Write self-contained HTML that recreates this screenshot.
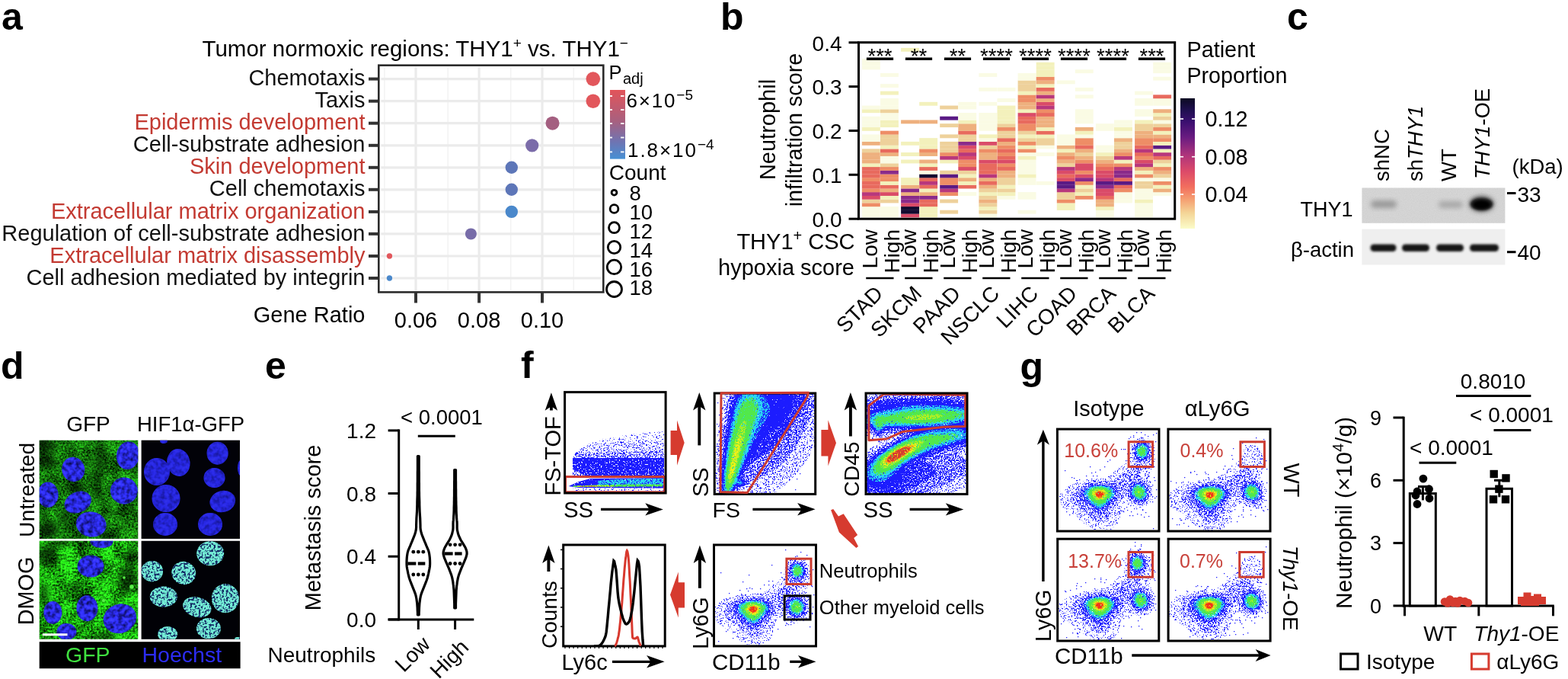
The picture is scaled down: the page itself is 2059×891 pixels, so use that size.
<!DOCTYPE html>
<html><head><meta charset="utf-8"><title>Figure</title>
<style>
html,body{margin:0;padding:0;background:#fff;width:2059px;height:891px;overflow:hidden;}
svg{display:block;}
text{font-family:"Liberation Sans",Arial,sans-serif;}
text.lab{font-weight:bold;font-size:50px;}
</style></head><body>
<svg width="2059" height="891" viewBox="0 0 2059 891">
<rect width="2059" height="891" fill="#fff"/>
<text x="2" y="39" class="lab">a</text>
<text x="265.5" y="73.8" font-size="29.5">Tumor normoxic regions: THY1<tspan font-size="19" dy="-11">+</tspan><tspan dy="11"> vs. THY1</tspan><tspan font-size="19" dy="-11">−</tspan></text>
<line x1="504.8" y1="87.7" x2="504.8" y2="381.4" stroke="#f3f3f3" stroke-width="1.6"/>
<line x1="588.2" y1="87.7" x2="588.2" y2="381.4" stroke="#f3f3f3" stroke-width="1.6"/>
<line x1="670.7" y1="87.7" x2="670.7" y2="381.4" stroke="#f3f3f3" stroke-width="1.6"/>
<line x1="753.3" y1="87.7" x2="753.3" y2="381.4" stroke="#f3f3f3" stroke-width="1.6"/>
<line x1="546" y1="87.7" x2="546" y2="381.4" stroke="#ebebeb" stroke-width="3.2"/>
<line x1="629.1" y1="87.7" x2="629.1" y2="381.4" stroke="#ebebeb" stroke-width="3.2"/>
<line x1="712" y1="87.7" x2="712" y2="381.4" stroke="#ebebeb" stroke-width="3.2"/>
<line x1="500.3" y1="103.6" x2="789.3" y2="103.6" stroke="#ebebeb" stroke-width="3.2"/>
<line x1="500.3" y1="132.7" x2="789.3" y2="132.7" stroke="#ebebeb" stroke-width="3.2"/>
<line x1="500.3" y1="161.7" x2="789.3" y2="161.7" stroke="#ebebeb" stroke-width="3.2"/>
<line x1="500.3" y1="190.8" x2="789.3" y2="190.8" stroke="#ebebeb" stroke-width="3.2"/>
<line x1="500.3" y1="219.8" x2="789.3" y2="219.8" stroke="#ebebeb" stroke-width="3.2"/>
<line x1="500.3" y1="248.8" x2="789.3" y2="248.8" stroke="#ebebeb" stroke-width="3.2"/>
<line x1="500.3" y1="277.9" x2="789.3" y2="277.9" stroke="#ebebeb" stroke-width="3.2"/>
<line x1="500.3" y1="306.9" x2="789.3" y2="306.9" stroke="#ebebeb" stroke-width="3.2"/>
<line x1="500.3" y1="336.0" x2="789.3" y2="336.0" stroke="#ebebeb" stroke-width="3.2"/>
<line x1="500.3" y1="365.0" x2="789.3" y2="365.0" stroke="#ebebeb" stroke-width="3.2"/>
<text x="479.5" y="112.2" font-size="29" text-anchor="end" fill="#111">Chemotaxis</text>
<line x1="484" y1="103.6" x2="497" y2="103.6" stroke="#333" stroke-width="4"/>
<text x="479.5" y="141.2" font-size="29" text-anchor="end" fill="#111">Taxis</text>
<line x1="484" y1="132.7" x2="497" y2="132.7" stroke="#333" stroke-width="4"/>
<text x="479.5" y="170.3" font-size="29" text-anchor="end" fill="#c33a32">Epidermis development</text>
<line x1="484" y1="161.7" x2="497" y2="161.7" stroke="#333" stroke-width="4"/>
<text x="479.5" y="199.3" font-size="29" text-anchor="end" fill="#111">Cell-substrate adhesion</text>
<line x1="484" y1="190.8" x2="497" y2="190.8" stroke="#333" stroke-width="4"/>
<text x="479.5" y="228.4" font-size="29" text-anchor="end" fill="#c33a32">Skin development</text>
<line x1="484" y1="219.8" x2="497" y2="219.8" stroke="#333" stroke-width="4"/>
<text x="479.5" y="257.4" font-size="29" text-anchor="end" fill="#111">Cell chemotaxis</text>
<line x1="484" y1="248.8" x2="497" y2="248.8" stroke="#333" stroke-width="4"/>
<text x="479.5" y="286.5" font-size="29" text-anchor="end" fill="#c33a32">Extracellular matrix organization</text>
<line x1="484" y1="277.9" x2="497" y2="277.9" stroke="#333" stroke-width="4"/>
<text x="479.5" y="315.6" font-size="29" text-anchor="end" fill="#111">Regulation of cell-substrate adhesion</text>
<line x1="484" y1="306.9" x2="497" y2="306.9" stroke="#333" stroke-width="4"/>
<text x="479.5" y="344.6" font-size="29" text-anchor="end" fill="#c33a32">Extracellular matrix disassembly</text>
<line x1="484" y1="336.0" x2="497" y2="336.0" stroke="#333" stroke-width="4"/>
<text x="479.5" y="373.6" font-size="29" text-anchor="end" fill="#111">Cell adhesion mediated by integrin</text>
<line x1="484" y1="365.0" x2="497" y2="365.0" stroke="#333" stroke-width="4"/>
<circle cx="778.8" cy="103.6" r="9.3" fill="#e2575c"/>
<circle cx="778.8" cy="132.7" r="9.3" fill="#e2575c"/>
<circle cx="725.5" cy="161.7" r="9.0" fill="#a45f80"/>
<circle cx="698.7" cy="190.8" r="8.6" fill="#7b6ca9"/>
<circle cx="671.8" cy="219.8" r="8.2" fill="#5d76b8"/>
<circle cx="671.8" cy="248.8" r="8.2" fill="#5d76b8"/>
<circle cx="671.8" cy="277.9" r="8.2" fill="#4a88cb"/>
<circle cx="618.4" cy="306.9" r="7.5" fill="#776ca8"/>
<circle cx="511.4" cy="336.0" r="3.7" fill="#e2575c"/>
<circle cx="511.4" cy="365.0" r="3.7" fill="#4a88cb"/>
<rect x="497.3" y="85.7" width="295.0" height="297.7" fill="none" stroke="#2b2b2b" stroke-width="2.6"/>
<line x1="546" y1="383.4" x2="546" y2="397.5" stroke="#333" stroke-width="4"/>
<text x="546" y="429.6" font-size="29" text-anchor="middle">0.06</text>
<line x1="629.1" y1="383.4" x2="629.1" y2="397.5" stroke="#333" stroke-width="4"/>
<text x="629.1" y="429.6" font-size="29" text-anchor="middle">0.08</text>
<line x1="712" y1="383.4" x2="712" y2="397.5" stroke="#333" stroke-width="4"/>
<text x="712" y="429.6" font-size="29" text-anchor="middle">0.10</text>
<text x="479.5" y="423" font-size="29" text-anchor="end">Gene Ratio</text>
<text x="799.5" y="103.6" font-size="25.5">P<tspan font-size="20" dy="6.5" x="818">adj</tspan></text>
<defs><linearGradient id="padj" x1="0" y1="0" x2="0" y2="1"><stop offset="0" stop-color="#e2545a"/><stop offset="0.45" stop-color="#a8607f"/><stop offset="0.75" stop-color="#6f74b2"/><stop offset="1" stop-color="#4690d4"/></linearGradient></defs>
<rect x="801" y="118" width="20" height="90.6" fill="url(#padj)"/>
<line x1="801" y1="126" x2="804" y2="126" stroke="#fff" stroke-width="1.8"/><line x1="815" y1="126" x2="819.5" y2="126" stroke="#fff" stroke-width="1.8"/>
<line x1="801" y1="144.1" x2="804" y2="144.1" stroke="#fff" stroke-width="1.8"/><line x1="815" y1="144.1" x2="819.5" y2="144.1" stroke="#fff" stroke-width="1.8"/>
<line x1="801" y1="162.1" x2="804" y2="162.1" stroke="#fff" stroke-width="1.8"/><line x1="815" y1="162.1" x2="819.5" y2="162.1" stroke="#fff" stroke-width="1.8"/>
<line x1="801" y1="180.5" x2="804" y2="180.5" stroke="#fff" stroke-width="1.8"/><line x1="815" y1="180.5" x2="819.5" y2="180.5" stroke="#fff" stroke-width="1.8"/>
<line x1="801" y1="199.4" x2="804" y2="199.4" stroke="#fff" stroke-width="1.8"/><line x1="815" y1="199.4" x2="819.5" y2="199.4" stroke="#fff" stroke-width="1.8"/>
<text x="822.5" y="140.5" font-size="26"><tspan textLength="64" lengthAdjust="spacing">6×10</tspan><tspan font-size="19" dy="-10">−5</tspan></text>
<text x="824" y="206.4" font-size="26"><tspan textLength="90" lengthAdjust="spacing">1.8×10</tspan><tspan font-size="19" dy="-10">−4</tspan></text>
<text x="799.8" y="236" font-size="28">Count</text>
<circle cx="806.5" cy="252.7" r="3.4" fill="none" stroke="#000" stroke-width="2.8"/>
<text x="826.5" y="262.8" font-size="27.5">8</text>
<circle cx="806.5" cy="274" r="5.4" fill="none" stroke="#000" stroke-width="2.8"/>
<text x="826.5" y="288" font-size="27.5">10</text>
<circle cx="806.5" cy="298.7" r="7" fill="none" stroke="#000" stroke-width="2.8"/>
<text x="826.5" y="313.3" font-size="27.5">12</text>
<circle cx="806.5" cy="324.5" r="8.2" fill="none" stroke="#000" stroke-width="2.8"/>
<text x="826.5" y="338" font-size="27.5">14</text>
<circle cx="806.5" cy="350.4" r="9.2" fill="none" stroke="#000" stroke-width="2.8"/>
<text x="826.5" y="362.7" font-size="27.5">16</text>
<circle cx="806.5" cy="379.5" r="10" fill="none" stroke="#000" stroke-width="2.8"/>
<text x="826.5" y="387.4" font-size="27.5">18</text>
<text x="946" y="38.6" class="lab">b</text>
<rect x="1131.9" y="280.47" width="23.9" height="4.88" fill="#fafbe4"/>
<rect x="1131.9" y="275.74" width="23.9" height="4.88" fill="#fafbe4"/>
<rect x="1131.9" y="271.01" width="23.9" height="4.88" fill="#fafbe4"/>
<rect x="1131.9" y="266.28" width="23.9" height="4.88" fill="#ee8d66"/>
<rect x="1131.9" y="261.55" width="23.9" height="4.88" fill="#eed19b"/>
<rect x="1131.9" y="256.82" width="23.9" height="4.88" fill="#da4b68"/>
<rect x="1131.9" y="252.09" width="23.9" height="4.88" fill="#b8377c"/>
<rect x="1131.9" y="247.36" width="23.9" height="4.88" fill="#ee8d66"/>
<rect x="1131.9" y="242.63" width="23.9" height="4.88" fill="#e86a5e"/>
<rect x="1131.9" y="237.90" width="23.9" height="4.88" fill="#e86a5e"/>
<rect x="1131.9" y="233.17" width="23.9" height="4.88" fill="#ee8d66"/>
<rect x="1131.9" y="228.44" width="23.9" height="4.88" fill="#e86a5e"/>
<rect x="1131.9" y="223.71" width="23.9" height="4.88" fill="#e86a5e"/>
<rect x="1131.9" y="218.98" width="23.9" height="4.88" fill="#e86a5e"/>
<rect x="1131.9" y="214.25" width="23.9" height="4.88" fill="#f3f1bc"/>
<rect x="1131.9" y="209.52" width="23.9" height="4.88" fill="#eeb07e"/>
<rect x="1131.9" y="204.79" width="23.9" height="4.88" fill="#eeb07e"/>
<rect x="1131.9" y="200.06" width="23.9" height="4.88" fill="#eeb07e"/>
<rect x="1131.9" y="195.33" width="23.9" height="4.88" fill="#eed19b"/>
<rect x="1131.9" y="185.87" width="23.9" height="4.88" fill="#eeb07e"/>
<rect x="1131.9" y="181.14" width="23.9" height="4.88" fill="#fafbe4"/>
<rect x="1131.9" y="176.41" width="23.9" height="4.88" fill="#fafbe4"/>
<rect x="1131.9" y="166.95" width="23.9" height="4.88" fill="#f3f1bc"/>
<rect x="1131.9" y="162.22" width="23.9" height="4.88" fill="#fafbe4"/>
<rect x="1131.9" y="157.49" width="23.9" height="4.88" fill="#fafbe4"/>
<rect x="1131.9" y="152.76" width="23.9" height="4.88" fill="#fafbe4"/>
<rect x="1131.9" y="143.30" width="23.9" height="4.88" fill="#f3f1bc"/>
<rect x="1131.9" y="138.57" width="23.9" height="4.88" fill="#fafbe4"/>
<rect x="1131.9" y="86.54" width="23.9" height="4.88" fill="#fafbe4"/>
<rect x="1131.9" y="81.81" width="23.9" height="4.88" fill="#fafbe4"/>
<rect x="1131.9" y="77.08" width="23.9" height="4.88" fill="#fafbe4"/>
<rect x="1156.0" y="280.47" width="23.9" height="4.88" fill="#fafbe4"/>
<rect x="1156.0" y="275.74" width="23.9" height="4.88" fill="#fafbe4"/>
<rect x="1156.0" y="271.01" width="23.9" height="4.88" fill="#fafbe4"/>
<rect x="1156.0" y="261.55" width="23.9" height="4.88" fill="#eed19b"/>
<rect x="1156.0" y="256.82" width="23.9" height="4.88" fill="#f3f1bc"/>
<rect x="1156.0" y="252.09" width="23.9" height="4.88" fill="#da4b68"/>
<rect x="1156.0" y="247.36" width="23.9" height="4.88" fill="#eeb07e"/>
<rect x="1156.0" y="242.63" width="23.9" height="4.88" fill="#e86a5e"/>
<rect x="1156.0" y="237.90" width="23.9" height="4.88" fill="#f3f1bc"/>
<rect x="1156.0" y="233.17" width="23.9" height="4.88" fill="#ee8d66"/>
<rect x="1156.0" y="228.44" width="23.9" height="4.88" fill="#ee8d66"/>
<rect x="1156.0" y="223.71" width="23.9" height="4.88" fill="#8a2a8a"/>
<rect x="1156.0" y="218.98" width="23.9" height="4.88" fill="#ee8d66"/>
<rect x="1156.0" y="214.25" width="23.9" height="4.88" fill="#eed19b"/>
<rect x="1156.0" y="209.52" width="23.9" height="4.88" fill="#fafbe4"/>
<rect x="1156.0" y="204.79" width="23.9" height="4.88" fill="#fafbe4"/>
<rect x="1156.0" y="200.06" width="23.9" height="4.88" fill="#eeb07e"/>
<rect x="1156.0" y="195.33" width="23.9" height="4.88" fill="#e86a5e"/>
<rect x="1156.0" y="190.60" width="23.9" height="4.88" fill="#f3f1bc"/>
<rect x="1156.0" y="185.87" width="23.9" height="4.88" fill="#eed19b"/>
<rect x="1156.0" y="181.14" width="23.9" height="4.88" fill="#eed19b"/>
<rect x="1156.0" y="176.41" width="23.9" height="4.88" fill="#eed19b"/>
<rect x="1156.0" y="171.68" width="23.9" height="4.88" fill="#ee8d66"/>
<rect x="1156.0" y="162.22" width="23.9" height="4.88" fill="#f3f1bc"/>
<rect x="1156.0" y="157.49" width="23.9" height="4.88" fill="#f3f1bc"/>
<rect x="1156.0" y="152.76" width="23.9" height="4.88" fill="#fafbe4"/>
<rect x="1156.0" y="148.03" width="23.9" height="4.88" fill="#fafbe4"/>
<rect x="1156.0" y="143.30" width="23.9" height="4.88" fill="#eed19b"/>
<rect x="1156.0" y="138.57" width="23.9" height="4.88" fill="#fafbe4"/>
<rect x="1156.0" y="133.84" width="23.9" height="4.88" fill="#fafbe4"/>
<rect x="1156.0" y="129.11" width="23.9" height="4.88" fill="#fafbe4"/>
<rect x="1156.0" y="119.65" width="23.9" height="4.88" fill="#f3f1bc"/>
<rect x="1156.0" y="110.19" width="23.9" height="4.88" fill="#fafbe4"/>
<rect x="1156.0" y="96.00" width="23.9" height="4.88" fill="#fafbe4"/>
<rect x="1183.1" y="280.47" width="23.9" height="4.88" fill="#da4b68"/>
<rect x="1183.1" y="275.74" width="23.9" height="4.88" fill="#130b30"/>
<rect x="1183.1" y="271.01" width="23.9" height="4.88" fill="#130b30"/>
<rect x="1183.1" y="266.28" width="23.9" height="4.88" fill="#da4b68"/>
<rect x="1183.1" y="261.55" width="23.9" height="4.88" fill="#8a2a8a"/>
<rect x="1183.1" y="256.82" width="23.9" height="4.88" fill="#8a2a8a"/>
<rect x="1183.1" y="252.09" width="23.9" height="4.88" fill="#eeb07e"/>
<rect x="1183.1" y="247.36" width="23.9" height="4.88" fill="#8a2a8a"/>
<rect x="1183.1" y="242.63" width="23.9" height="4.88" fill="#eeb07e"/>
<rect x="1183.1" y="237.90" width="23.9" height="4.88" fill="#f3f1bc"/>
<rect x="1183.1" y="233.17" width="23.9" height="4.88" fill="#f3f1bc"/>
<rect x="1183.1" y="209.52" width="23.9" height="4.88" fill="#f3f1bc"/>
<rect x="1183.1" y="200.06" width="23.9" height="4.88" fill="#f3f1bc"/>
<rect x="1183.1" y="185.87" width="23.9" height="4.88" fill="#f3f1bc"/>
<rect x="1183.1" y="157.49" width="23.9" height="4.88" fill="#eeb07e"/>
<rect x="1183.1" y="62.89" width="23.9" height="4.88" fill="#f3f1bc"/>
<rect x="1207.2" y="280.47" width="23.9" height="4.88" fill="#f3f1bc"/>
<rect x="1207.2" y="275.74" width="23.9" height="4.88" fill="#f3f1bc"/>
<rect x="1207.2" y="271.01" width="23.9" height="4.88" fill="#f3f1bc"/>
<rect x="1207.2" y="266.28" width="23.9" height="4.88" fill="#e86a5e"/>
<rect x="1207.2" y="261.55" width="23.9" height="4.88" fill="#e86a5e"/>
<rect x="1207.2" y="256.82" width="23.9" height="4.88" fill="#8a2a8a"/>
<rect x="1207.2" y="252.09" width="23.9" height="4.88" fill="#eeb07e"/>
<rect x="1207.2" y="247.36" width="23.9" height="4.88" fill="#f3f1bc"/>
<rect x="1207.2" y="242.63" width="23.9" height="4.88" fill="#e86a5e"/>
<rect x="1207.2" y="237.90" width="23.9" height="4.88" fill="#b8377c"/>
<rect x="1207.2" y="233.17" width="23.9" height="4.88" fill="#e86a5e"/>
<rect x="1207.2" y="228.44" width="23.9" height="4.88" fill="#130b30"/>
<rect x="1207.2" y="223.71" width="23.9" height="4.88" fill="#fafbe4"/>
<rect x="1207.2" y="218.98" width="23.9" height="4.88" fill="#e86a5e"/>
<rect x="1207.2" y="214.25" width="23.9" height="4.88" fill="#f3f1bc"/>
<rect x="1207.2" y="209.52" width="23.9" height="4.88" fill="#eeb07e"/>
<rect x="1207.2" y="200.06" width="23.9" height="4.88" fill="#eeb07e"/>
<rect x="1207.2" y="195.33" width="23.9" height="4.88" fill="#ee8d66"/>
<rect x="1207.2" y="190.60" width="23.9" height="4.88" fill="#f3f1bc"/>
<rect x="1207.2" y="185.87" width="23.9" height="4.88" fill="#f3f1bc"/>
<rect x="1207.2" y="181.14" width="23.9" height="4.88" fill="#f3f1bc"/>
<rect x="1207.2" y="157.49" width="23.9" height="4.88" fill="#eeb07e"/>
<rect x="1207.2" y="133.84" width="23.9" height="4.88" fill="#f3f1bc"/>
<rect x="1234.2" y="275.74" width="23.9" height="4.88" fill="#eed19b"/>
<rect x="1234.2" y="261.55" width="23.9" height="4.88" fill="#eed19b"/>
<rect x="1234.2" y="252.09" width="23.9" height="4.88" fill="#ee8d66"/>
<rect x="1234.2" y="247.36" width="23.9" height="4.88" fill="#b8377c"/>
<rect x="1234.2" y="242.63" width="23.9" height="4.88" fill="#5a1a84"/>
<rect x="1234.2" y="237.90" width="23.9" height="4.88" fill="#ee8d66"/>
<rect x="1234.2" y="233.17" width="23.9" height="4.88" fill="#ee8d66"/>
<rect x="1234.2" y="228.44" width="23.9" height="4.88" fill="#5a1a84"/>
<rect x="1234.2" y="223.71" width="23.9" height="4.88" fill="#eed19b"/>
<rect x="1234.2" y="209.52" width="23.9" height="4.88" fill="#f3f1bc"/>
<rect x="1234.2" y="204.79" width="23.9" height="4.88" fill="#b8377c"/>
<rect x="1234.2" y="200.06" width="23.9" height="4.88" fill="#ee8d66"/>
<rect x="1234.2" y="195.33" width="23.9" height="4.88" fill="#eed19b"/>
<rect x="1234.2" y="190.60" width="23.9" height="4.88" fill="#eed19b"/>
<rect x="1234.2" y="185.87" width="23.9" height="4.88" fill="#eed19b"/>
<rect x="1234.2" y="176.41" width="23.9" height="4.88" fill="#eed19b"/>
<rect x="1234.2" y="162.22" width="23.9" height="4.88" fill="#eed19b"/>
<rect x="1234.2" y="152.76" width="23.9" height="4.88" fill="#5a1a84"/>
<rect x="1234.2" y="138.57" width="23.9" height="4.88" fill="#eed19b"/>
<rect x="1258.3" y="252.09" width="23.9" height="4.88" fill="#fafbe4"/>
<rect x="1258.3" y="242.63" width="23.9" height="4.88" fill="#e86a5e"/>
<rect x="1258.3" y="237.90" width="23.9" height="4.88" fill="#f3f1bc"/>
<rect x="1258.3" y="233.17" width="23.9" height="4.88" fill="#eeb07e"/>
<rect x="1258.3" y="228.44" width="23.9" height="4.88" fill="#f3f1bc"/>
<rect x="1258.3" y="223.71" width="23.9" height="4.88" fill="#eed19b"/>
<rect x="1258.3" y="218.98" width="23.9" height="4.88" fill="#da4b68"/>
<rect x="1258.3" y="214.25" width="23.9" height="4.88" fill="#ee8d66"/>
<rect x="1258.3" y="209.52" width="23.9" height="4.88" fill="#ee8d66"/>
<rect x="1258.3" y="204.79" width="23.9" height="4.88" fill="#da4b68"/>
<rect x="1258.3" y="200.06" width="23.9" height="4.88" fill="#b8377c"/>
<rect x="1258.3" y="195.33" width="23.9" height="4.88" fill="#e86a5e"/>
<rect x="1258.3" y="190.60" width="23.9" height="4.88" fill="#da4b68"/>
<rect x="1258.3" y="185.87" width="23.9" height="4.88" fill="#8a2a8a"/>
<rect x="1258.3" y="181.14" width="23.9" height="4.88" fill="#eed19b"/>
<rect x="1258.3" y="176.41" width="23.9" height="4.88" fill="#eed19b"/>
<rect x="1258.3" y="171.68" width="23.9" height="4.88" fill="#e86a5e"/>
<rect x="1258.3" y="166.95" width="23.9" height="4.88" fill="#eeb07e"/>
<rect x="1258.3" y="162.22" width="23.9" height="4.88" fill="#eeb07e"/>
<rect x="1258.3" y="157.49" width="23.9" height="4.88" fill="#f3f1bc"/>
<rect x="1258.3" y="152.76" width="23.9" height="4.88" fill="#fafbe4"/>
<rect x="1258.3" y="148.03" width="23.9" height="4.88" fill="#fafbe4"/>
<rect x="1258.3" y="138.57" width="23.9" height="4.88" fill="#fafbe4"/>
<rect x="1258.3" y="133.84" width="23.9" height="4.88" fill="#fafbe4"/>
<rect x="1285.4" y="280.47" width="23.9" height="4.88" fill="#fafbe4"/>
<rect x="1285.4" y="275.74" width="23.9" height="4.88" fill="#eed19b"/>
<rect x="1285.4" y="271.01" width="23.9" height="4.88" fill="#f3f1bc"/>
<rect x="1285.4" y="266.28" width="23.9" height="4.88" fill="#eed19b"/>
<rect x="1285.4" y="261.55" width="23.9" height="4.88" fill="#eeb07e"/>
<rect x="1285.4" y="256.82" width="23.9" height="4.88" fill="#eed19b"/>
<rect x="1285.4" y="252.09" width="23.9" height="4.88" fill="#f3f1bc"/>
<rect x="1285.4" y="247.36" width="23.9" height="4.88" fill="#eed19b"/>
<rect x="1285.4" y="242.63" width="23.9" height="4.88" fill="#eeb07e"/>
<rect x="1285.4" y="237.90" width="23.9" height="4.88" fill="#e86a5e"/>
<rect x="1285.4" y="233.17" width="23.9" height="4.88" fill="#eeb07e"/>
<rect x="1285.4" y="228.44" width="23.9" height="4.88" fill="#b8377c"/>
<rect x="1285.4" y="223.71" width="23.9" height="4.88" fill="#e86a5e"/>
<rect x="1285.4" y="218.98" width="23.9" height="4.88" fill="#e86a5e"/>
<rect x="1285.4" y="214.25" width="23.9" height="4.88" fill="#e86a5e"/>
<rect x="1285.4" y="209.52" width="23.9" height="4.88" fill="#da4b68"/>
<rect x="1285.4" y="204.79" width="23.9" height="4.88" fill="#eeb07e"/>
<rect x="1285.4" y="200.06" width="23.9" height="4.88" fill="#eeb07e"/>
<rect x="1285.4" y="195.33" width="23.9" height="4.88" fill="#ee8d66"/>
<rect x="1285.4" y="190.60" width="23.9" height="4.88" fill="#eed19b"/>
<rect x="1285.4" y="185.87" width="23.9" height="4.88" fill="#da4b68"/>
<rect x="1285.4" y="181.14" width="23.9" height="4.88" fill="#fafbe4"/>
<rect x="1285.4" y="176.41" width="23.9" height="4.88" fill="#f3f1bc"/>
<rect x="1285.4" y="166.95" width="23.9" height="4.88" fill="#fafbe4"/>
<rect x="1285.4" y="162.22" width="23.9" height="4.88" fill="#fafbe4"/>
<rect x="1285.4" y="157.49" width="23.9" height="4.88" fill="#fafbe4"/>
<rect x="1285.4" y="152.76" width="23.9" height="4.88" fill="#fafbe4"/>
<rect x="1285.4" y="148.03" width="23.9" height="4.88" fill="#fafbe4"/>
<rect x="1285.4" y="133.84" width="23.9" height="4.88" fill="#fafbe4"/>
<rect x="1285.4" y="114.92" width="23.9" height="4.88" fill="#fafbe4"/>
<rect x="1285.4" y="96.00" width="23.9" height="4.88" fill="#fafbe4"/>
<rect x="1309.5" y="256.82" width="23.9" height="4.88" fill="#fafbe4"/>
<rect x="1309.5" y="252.09" width="23.9" height="4.88" fill="#f3f1bc"/>
<rect x="1309.5" y="247.36" width="23.9" height="4.88" fill="#eed19b"/>
<rect x="1309.5" y="242.63" width="23.9" height="4.88" fill="#f3f1bc"/>
<rect x="1309.5" y="237.90" width="23.9" height="4.88" fill="#eed19b"/>
<rect x="1309.5" y="233.17" width="23.9" height="4.88" fill="#eed19b"/>
<rect x="1309.5" y="228.44" width="23.9" height="4.88" fill="#eeb07e"/>
<rect x="1309.5" y="223.71" width="23.9" height="4.88" fill="#eeb07e"/>
<rect x="1309.5" y="218.98" width="23.9" height="4.88" fill="#e86a5e"/>
<rect x="1309.5" y="214.25" width="23.9" height="4.88" fill="#ee8d66"/>
<rect x="1309.5" y="209.52" width="23.9" height="4.88" fill="#da4b68"/>
<rect x="1309.5" y="204.79" width="23.9" height="4.88" fill="#e86a5e"/>
<rect x="1309.5" y="200.06" width="23.9" height="4.88" fill="#ee8d66"/>
<rect x="1309.5" y="195.33" width="23.9" height="4.88" fill="#e86a5e"/>
<rect x="1309.5" y="190.60" width="23.9" height="4.88" fill="#ee8d66"/>
<rect x="1309.5" y="185.87" width="23.9" height="4.88" fill="#eeb07e"/>
<rect x="1309.5" y="181.14" width="23.9" height="4.88" fill="#e86a5e"/>
<rect x="1309.5" y="176.41" width="23.9" height="4.88" fill="#eed19b"/>
<rect x="1309.5" y="171.68" width="23.9" height="4.88" fill="#eed19b"/>
<rect x="1309.5" y="166.95" width="23.9" height="4.88" fill="#ee8d66"/>
<rect x="1309.5" y="162.22" width="23.9" height="4.88" fill="#eed19b"/>
<rect x="1309.5" y="157.49" width="23.9" height="4.88" fill="#f3f1bc"/>
<rect x="1309.5" y="152.76" width="23.9" height="4.88" fill="#f3f1bc"/>
<rect x="1309.5" y="148.03" width="23.9" height="4.88" fill="#f3f1bc"/>
<rect x="1309.5" y="143.30" width="23.9" height="4.88" fill="#f3f1bc"/>
<rect x="1309.5" y="138.57" width="23.9" height="4.88" fill="#f3f1bc"/>
<rect x="1309.5" y="129.11" width="23.9" height="4.88" fill="#fafbe4"/>
<rect x="1309.5" y="114.92" width="23.9" height="4.88" fill="#fafbe4"/>
<rect x="1336.6" y="275.74" width="23.9" height="4.88" fill="#fafbe4"/>
<rect x="1336.6" y="256.82" width="23.9" height="4.88" fill="#fafbe4"/>
<rect x="1336.6" y="252.09" width="23.9" height="4.88" fill="#fafbe4"/>
<rect x="1336.6" y="237.90" width="23.9" height="4.88" fill="#fafbe4"/>
<rect x="1336.6" y="233.17" width="23.9" height="4.88" fill="#fafbe4"/>
<rect x="1336.6" y="228.44" width="23.9" height="4.88" fill="#f3f1bc"/>
<rect x="1336.6" y="223.71" width="23.9" height="4.88" fill="#fafbe4"/>
<rect x="1336.6" y="218.98" width="23.9" height="4.88" fill="#fafbe4"/>
<rect x="1336.6" y="214.25" width="23.9" height="4.88" fill="#fafbe4"/>
<rect x="1336.6" y="209.52" width="23.9" height="4.88" fill="#fafbe4"/>
<rect x="1336.6" y="204.79" width="23.9" height="4.88" fill="#f3f1bc"/>
<rect x="1336.6" y="200.06" width="23.9" height="4.88" fill="#fafbe4"/>
<rect x="1336.6" y="195.33" width="23.9" height="4.88" fill="#ee8d66"/>
<rect x="1336.6" y="190.60" width="23.9" height="4.88" fill="#f3f1bc"/>
<rect x="1336.6" y="185.87" width="23.9" height="4.88" fill="#ee8d66"/>
<rect x="1336.6" y="181.14" width="23.9" height="4.88" fill="#eed19b"/>
<rect x="1336.6" y="176.41" width="23.9" height="4.88" fill="#f3f1bc"/>
<rect x="1336.6" y="171.68" width="23.9" height="4.88" fill="#eed19b"/>
<rect x="1336.6" y="166.95" width="23.9" height="4.88" fill="#ee8d66"/>
<rect x="1336.6" y="162.22" width="23.9" height="4.88" fill="#ee8d66"/>
<rect x="1336.6" y="157.49" width="23.9" height="4.88" fill="#e86a5e"/>
<rect x="1336.6" y="152.76" width="23.9" height="4.88" fill="#e86a5e"/>
<rect x="1336.6" y="148.03" width="23.9" height="4.88" fill="#da4b68"/>
<rect x="1336.6" y="143.30" width="23.9" height="4.88" fill="#f3f1bc"/>
<rect x="1336.6" y="138.57" width="23.9" height="4.88" fill="#eeb07e"/>
<rect x="1336.6" y="133.84" width="23.9" height="4.88" fill="#eeb07e"/>
<rect x="1336.6" y="129.11" width="23.9" height="4.88" fill="#ee8d66"/>
<rect x="1336.6" y="124.38" width="23.9" height="4.88" fill="#ee8d66"/>
<rect x="1336.6" y="119.65" width="23.9" height="4.88" fill="#f3f1bc"/>
<rect x="1336.6" y="114.92" width="23.9" height="4.88" fill="#eed19b"/>
<rect x="1336.6" y="110.19" width="23.9" height="4.88" fill="#eed19b"/>
<rect x="1336.6" y="105.46" width="23.9" height="4.88" fill="#eed19b"/>
<rect x="1336.6" y="100.73" width="23.9" height="4.88" fill="#fafbe4"/>
<rect x="1336.6" y="96.00" width="23.9" height="4.88" fill="#fafbe4"/>
<rect x="1360.7" y="237.90" width="23.9" height="4.88" fill="#fafbe4"/>
<rect x="1360.7" y="200.06" width="23.9" height="4.88" fill="#fafbe4"/>
<rect x="1360.7" y="190.60" width="23.9" height="4.88" fill="#fafbe4"/>
<rect x="1360.7" y="185.87" width="23.9" height="4.88" fill="#eed19b"/>
<rect x="1360.7" y="181.14" width="23.9" height="4.88" fill="#eed19b"/>
<rect x="1360.7" y="176.41" width="23.9" height="4.88" fill="#f3f1bc"/>
<rect x="1360.7" y="171.68" width="23.9" height="4.88" fill="#e86a5e"/>
<rect x="1360.7" y="166.95" width="23.9" height="4.88" fill="#f3f1bc"/>
<rect x="1360.7" y="162.22" width="23.9" height="4.88" fill="#eeb07e"/>
<rect x="1360.7" y="157.49" width="23.9" height="4.88" fill="#eeb07e"/>
<rect x="1360.7" y="152.76" width="23.9" height="4.88" fill="#eeb07e"/>
<rect x="1360.7" y="148.03" width="23.9" height="4.88" fill="#e86a5e"/>
<rect x="1360.7" y="143.30" width="23.9" height="4.88" fill="#ee8d66"/>
<rect x="1360.7" y="138.57" width="23.9" height="4.88" fill="#b8377c"/>
<rect x="1360.7" y="133.84" width="23.9" height="4.88" fill="#da4b68"/>
<rect x="1360.7" y="129.11" width="23.9" height="4.88" fill="#eeb07e"/>
<rect x="1360.7" y="124.38" width="23.9" height="4.88" fill="#b8377c"/>
<rect x="1360.7" y="119.65" width="23.9" height="4.88" fill="#eeb07e"/>
<rect x="1360.7" y="114.92" width="23.9" height="4.88" fill="#e86a5e"/>
<rect x="1360.7" y="110.19" width="23.9" height="4.88" fill="#f3f1bc"/>
<rect x="1360.7" y="105.46" width="23.9" height="4.88" fill="#eeb07e"/>
<rect x="1360.7" y="100.73" width="23.9" height="4.88" fill="#ee8d66"/>
<rect x="1360.7" y="96.00" width="23.9" height="4.88" fill="#f3f1bc"/>
<rect x="1360.7" y="91.27" width="23.9" height="4.88" fill="#f3f1bc"/>
<rect x="1360.7" y="86.54" width="23.9" height="4.88" fill="#f3f1bc"/>
<rect x="1360.7" y="81.81" width="23.9" height="4.88" fill="#f3f1bc"/>
<rect x="1387.8" y="271.01" width="23.9" height="4.88" fill="#f3f1bc"/>
<rect x="1387.8" y="266.28" width="23.9" height="4.88" fill="#f3f1bc"/>
<rect x="1387.8" y="261.55" width="23.9" height="4.88" fill="#ee8d66"/>
<rect x="1387.8" y="256.82" width="23.9" height="4.88" fill="#eed19b"/>
<rect x="1387.8" y="252.09" width="23.9" height="4.88" fill="#eed19b"/>
<rect x="1387.8" y="247.36" width="23.9" height="4.88" fill="#b8377c"/>
<rect x="1387.8" y="242.63" width="23.9" height="4.88" fill="#5a1a84"/>
<rect x="1387.8" y="237.90" width="23.9" height="4.88" fill="#5a1a84"/>
<rect x="1387.8" y="233.17" width="23.9" height="4.88" fill="#da4b68"/>
<rect x="1387.8" y="228.44" width="23.9" height="4.88" fill="#e86a5e"/>
<rect x="1387.8" y="223.71" width="23.9" height="4.88" fill="#da4b68"/>
<rect x="1387.8" y="218.98" width="23.9" height="4.88" fill="#b8377c"/>
<rect x="1387.8" y="214.25" width="23.9" height="4.88" fill="#eed19b"/>
<rect x="1387.8" y="209.52" width="23.9" height="4.88" fill="#eeb07e"/>
<rect x="1387.8" y="204.79" width="23.9" height="4.88" fill="#ee8d66"/>
<rect x="1387.8" y="200.06" width="23.9" height="4.88" fill="#eeb07e"/>
<rect x="1387.8" y="195.33" width="23.9" height="4.88" fill="#f3f1bc"/>
<rect x="1387.8" y="190.60" width="23.9" height="4.88" fill="#eeb07e"/>
<rect x="1387.8" y="185.87" width="23.9" height="4.88" fill="#fafbe4"/>
<rect x="1387.8" y="181.14" width="23.9" height="4.88" fill="#fafbe4"/>
<rect x="1387.8" y="176.41" width="23.9" height="4.88" fill="#fafbe4"/>
<rect x="1387.8" y="105.46" width="23.9" height="4.88" fill="#fafbe4"/>
<rect x="1411.8" y="256.82" width="23.9" height="4.88" fill="#ee8d66"/>
<rect x="1411.8" y="252.09" width="23.9" height="4.88" fill="#f3f1bc"/>
<rect x="1411.8" y="247.36" width="23.9" height="4.88" fill="#eed19b"/>
<rect x="1411.8" y="242.63" width="23.9" height="4.88" fill="#f3f1bc"/>
<rect x="1411.8" y="237.90" width="23.9" height="4.88" fill="#ee8d66"/>
<rect x="1411.8" y="233.17" width="23.9" height="4.88" fill="#8a2a8a"/>
<rect x="1411.8" y="228.44" width="23.9" height="4.88" fill="#da4b68"/>
<rect x="1411.8" y="223.71" width="23.9" height="4.88" fill="#ee8d66"/>
<rect x="1411.8" y="218.98" width="23.9" height="4.88" fill="#da4b68"/>
<rect x="1411.8" y="214.25" width="23.9" height="4.88" fill="#da4b68"/>
<rect x="1411.8" y="209.52" width="23.9" height="4.88" fill="#ee8d66"/>
<rect x="1411.8" y="204.79" width="23.9" height="4.88" fill="#eeb07e"/>
<rect x="1411.8" y="200.06" width="23.9" height="4.88" fill="#eed19b"/>
<rect x="1411.8" y="195.33" width="23.9" height="4.88" fill="#eeb07e"/>
<rect x="1411.8" y="190.60" width="23.9" height="4.88" fill="#e86a5e"/>
<rect x="1411.8" y="185.87" width="23.9" height="4.88" fill="#ee8d66"/>
<rect x="1411.8" y="181.14" width="23.9" height="4.88" fill="#ee8d66"/>
<rect x="1411.8" y="176.41" width="23.9" height="4.88" fill="#fafbe4"/>
<rect x="1411.8" y="171.68" width="23.9" height="4.88" fill="#f3f1bc"/>
<rect x="1411.8" y="166.95" width="23.9" height="4.88" fill="#eeb07e"/>
<rect x="1411.8" y="157.49" width="23.9" height="4.88" fill="#fafbe4"/>
<rect x="1411.8" y="152.76" width="23.9" height="4.88" fill="#fafbe4"/>
<rect x="1411.8" y="148.03" width="23.9" height="4.88" fill="#fafbe4"/>
<rect x="1411.8" y="143.30" width="23.9" height="4.88" fill="#fafbe4"/>
<rect x="1411.8" y="124.38" width="23.9" height="4.88" fill="#fafbe4"/>
<rect x="1411.8" y="114.92" width="23.9" height="4.88" fill="#fafbe4"/>
<rect x="1411.8" y="91.27" width="23.9" height="4.88" fill="#fafbe4"/>
<rect x="1438.9" y="280.47" width="23.9" height="4.88" fill="#fafbe4"/>
<rect x="1438.9" y="275.74" width="23.9" height="4.88" fill="#fafbe4"/>
<rect x="1438.9" y="271.01" width="23.9" height="4.88" fill="#f3f1bc"/>
<rect x="1438.9" y="266.28" width="23.9" height="4.88" fill="#eeb07e"/>
<rect x="1438.9" y="261.55" width="23.9" height="4.88" fill="#eeb07e"/>
<rect x="1438.9" y="256.82" width="23.9" height="4.88" fill="#e86a5e"/>
<rect x="1438.9" y="252.09" width="23.9" height="4.88" fill="#da4b68"/>
<rect x="1438.9" y="247.36" width="23.9" height="4.88" fill="#da4b68"/>
<rect x="1438.9" y="242.63" width="23.9" height="4.88" fill="#8a2a8a"/>
<rect x="1438.9" y="237.90" width="23.9" height="4.88" fill="#5a1a84"/>
<rect x="1438.9" y="233.17" width="23.9" height="4.88" fill="#b8377c"/>
<rect x="1438.9" y="228.44" width="23.9" height="4.88" fill="#da4b68"/>
<rect x="1438.9" y="223.71" width="23.9" height="4.88" fill="#da4b68"/>
<rect x="1438.9" y="218.98" width="23.9" height="4.88" fill="#e86a5e"/>
<rect x="1438.9" y="214.25" width="23.9" height="4.88" fill="#ee8d66"/>
<rect x="1438.9" y="209.52" width="23.9" height="4.88" fill="#eeb07e"/>
<rect x="1438.9" y="204.79" width="23.9" height="4.88" fill="#eed19b"/>
<rect x="1438.9" y="200.06" width="23.9" height="4.88" fill="#f3f1bc"/>
<rect x="1438.9" y="195.33" width="23.9" height="4.88" fill="#fafbe4"/>
<rect x="1438.9" y="190.60" width="23.9" height="4.88" fill="#fafbe4"/>
<rect x="1438.9" y="166.95" width="23.9" height="4.88" fill="#fafbe4"/>
<rect x="1438.9" y="162.22" width="23.9" height="4.88" fill="#fafbe4"/>
<rect x="1463.0" y="261.55" width="23.9" height="4.88" fill="#fafbe4"/>
<rect x="1463.0" y="256.82" width="23.9" height="4.88" fill="#fafbe4"/>
<rect x="1463.0" y="252.09" width="23.9" height="4.88" fill="#fafbe4"/>
<rect x="1463.0" y="247.36" width="23.9" height="4.88" fill="#ee8d66"/>
<rect x="1463.0" y="242.63" width="23.9" height="4.88" fill="#e86a5e"/>
<rect x="1463.0" y="237.90" width="23.9" height="4.88" fill="#5a1a84"/>
<rect x="1463.0" y="233.17" width="23.9" height="4.88" fill="#e86a5e"/>
<rect x="1463.0" y="228.44" width="23.9" height="4.88" fill="#8a2a8a"/>
<rect x="1463.0" y="223.71" width="23.9" height="4.88" fill="#8a2a8a"/>
<rect x="1463.0" y="218.98" width="23.9" height="4.88" fill="#b8377c"/>
<rect x="1463.0" y="214.25" width="23.9" height="4.88" fill="#ee8d66"/>
<rect x="1463.0" y="209.52" width="23.9" height="4.88" fill="#f3f1bc"/>
<rect x="1463.0" y="204.79" width="23.9" height="4.88" fill="#b8377c"/>
<rect x="1463.0" y="200.06" width="23.9" height="4.88" fill="#ee8d66"/>
<rect x="1463.0" y="195.33" width="23.9" height="4.88" fill="#eeb07e"/>
<rect x="1463.0" y="190.60" width="23.9" height="4.88" fill="#eed19b"/>
<rect x="1463.0" y="185.87" width="23.9" height="4.88" fill="#eed19b"/>
<rect x="1463.0" y="181.14" width="23.9" height="4.88" fill="#eeb07e"/>
<rect x="1463.0" y="176.41" width="23.9" height="4.88" fill="#fafbe4"/>
<rect x="1463.0" y="171.68" width="23.9" height="4.88" fill="#fafbe4"/>
<rect x="1463.0" y="166.95" width="23.9" height="4.88" fill="#f3f1bc"/>
<rect x="1463.0" y="162.22" width="23.9" height="4.88" fill="#fafbe4"/>
<rect x="1463.0" y="157.49" width="23.9" height="4.88" fill="#fafbe4"/>
<rect x="1490.1" y="280.47" width="23.9" height="4.88" fill="#fafbe4"/>
<rect x="1490.1" y="275.74" width="23.9" height="4.88" fill="#fafbe4"/>
<rect x="1490.1" y="271.01" width="23.9" height="4.88" fill="#fafbe4"/>
<rect x="1490.1" y="266.28" width="23.9" height="4.88" fill="#fafbe4"/>
<rect x="1490.1" y="261.55" width="23.9" height="4.88" fill="#f3f1bc"/>
<rect x="1490.1" y="256.82" width="23.9" height="4.88" fill="#fafbe4"/>
<rect x="1490.1" y="252.09" width="23.9" height="4.88" fill="#fafbe4"/>
<rect x="1490.1" y="247.36" width="23.9" height="4.88" fill="#fafbe4"/>
<rect x="1490.1" y="242.63" width="23.9" height="4.88" fill="#eed19b"/>
<rect x="1490.1" y="237.90" width="23.9" height="4.88" fill="#eed19b"/>
<rect x="1490.1" y="233.17" width="23.9" height="4.88" fill="#fafbe4"/>
<rect x="1490.1" y="228.44" width="23.9" height="4.88" fill="#ee8d66"/>
<rect x="1490.1" y="223.71" width="23.9" height="4.88" fill="#f3f1bc"/>
<rect x="1490.1" y="218.98" width="23.9" height="4.88" fill="#eeb07e"/>
<rect x="1490.1" y="214.25" width="23.9" height="4.88" fill="#b8377c"/>
<rect x="1490.1" y="209.52" width="23.9" height="4.88" fill="#da4b68"/>
<rect x="1490.1" y="204.79" width="23.9" height="4.88" fill="#ee8d66"/>
<rect x="1490.1" y="200.06" width="23.9" height="4.88" fill="#e86a5e"/>
<rect x="1490.1" y="195.33" width="23.9" height="4.88" fill="#b8377c"/>
<rect x="1490.1" y="190.60" width="23.9" height="4.88" fill="#e86a5e"/>
<rect x="1490.1" y="185.87" width="23.9" height="4.88" fill="#ee8d66"/>
<rect x="1490.1" y="181.14" width="23.9" height="4.88" fill="#ee8d66"/>
<rect x="1490.1" y="176.41" width="23.9" height="4.88" fill="#eeb07e"/>
<rect x="1490.1" y="171.68" width="23.9" height="4.88" fill="#eeb07e"/>
<rect x="1490.1" y="166.95" width="23.9" height="4.88" fill="#eed19b"/>
<rect x="1490.1" y="162.22" width="23.9" height="4.88" fill="#eed19b"/>
<rect x="1490.1" y="157.49" width="23.9" height="4.88" fill="#f3f1bc"/>
<rect x="1490.1" y="148.03" width="23.9" height="4.88" fill="#fafbe4"/>
<rect x="1490.1" y="143.30" width="23.9" height="4.88" fill="#fafbe4"/>
<rect x="1490.1" y="133.84" width="23.9" height="4.88" fill="#fafbe4"/>
<rect x="1490.1" y="129.11" width="23.9" height="4.88" fill="#fafbe4"/>
<rect x="1490.1" y="119.65" width="23.9" height="4.88" fill="#fafbe4"/>
<rect x="1514.2" y="252.09" width="23.9" height="4.88" fill="#fafbe4"/>
<rect x="1514.2" y="247.36" width="23.9" height="4.88" fill="#eeb07e"/>
<rect x="1514.2" y="242.63" width="23.9" height="4.88" fill="#f3f1bc"/>
<rect x="1514.2" y="237.90" width="23.9" height="4.88" fill="#ee8d66"/>
<rect x="1514.2" y="233.17" width="23.9" height="4.88" fill="#fafbe4"/>
<rect x="1514.2" y="228.44" width="23.9" height="4.88" fill="#eed19b"/>
<rect x="1514.2" y="223.71" width="23.9" height="4.88" fill="#eeb07e"/>
<rect x="1514.2" y="218.98" width="23.9" height="4.88" fill="#ee8d66"/>
<rect x="1514.2" y="214.25" width="23.9" height="4.88" fill="#f3f1bc"/>
<rect x="1514.2" y="209.52" width="23.9" height="4.88" fill="#eed19b"/>
<rect x="1514.2" y="204.79" width="23.9" height="4.88" fill="#e86a5e"/>
<rect x="1514.2" y="200.06" width="23.9" height="4.88" fill="#b8377c"/>
<rect x="1514.2" y="195.33" width="23.9" height="4.88" fill="#f3f1bc"/>
<rect x="1514.2" y="190.60" width="23.9" height="4.88" fill="#5a1a84"/>
<rect x="1514.2" y="185.87" width="23.9" height="4.88" fill="#f3f1bc"/>
<rect x="1514.2" y="181.14" width="23.9" height="4.88" fill="#ee8d66"/>
<rect x="1514.2" y="176.41" width="23.9" height="4.88" fill="#eeb07e"/>
<rect x="1514.2" y="171.68" width="23.9" height="4.88" fill="#f3f1bc"/>
<rect x="1514.2" y="166.95" width="23.9" height="4.88" fill="#ee8d66"/>
<rect x="1514.2" y="162.22" width="23.9" height="4.88" fill="#eed19b"/>
<rect x="1514.2" y="157.49" width="23.9" height="4.88" fill="#fafbe4"/>
<rect x="1514.2" y="152.76" width="23.9" height="4.88" fill="#eed19b"/>
<rect x="1514.2" y="148.03" width="23.9" height="4.88" fill="#f3f1bc"/>
<rect x="1514.2" y="143.30" width="23.9" height="4.88" fill="#eeb07e"/>
<rect x="1514.2" y="133.84" width="23.9" height="4.88" fill="#fafbe4"/>
<rect x="1514.2" y="129.11" width="23.9" height="4.88" fill="#fafbe4"/>
<rect x="1514.2" y="124.38" width="23.9" height="4.88" fill="#e86a5e"/>
<rect x="1514.2" y="100.73" width="23.9" height="4.88" fill="#fafbe4"/>
<rect x="1514.2" y="91.27" width="23.9" height="4.88" fill="#fafbe4"/>
<rect x="1514.2" y="86.54" width="23.9" height="4.88" fill="#fafbe4"/>
<rect x="1514.2" y="81.81" width="23.9" height="4.88" fill="#fafbe4"/>
<rect x="1127.5" y="55.7" width="415.2" height="231.5" fill="none" stroke="#000" stroke-width="3"/>
<line x1="1114.5" y1="287.2" x2="1127.5" y2="287.2" stroke="#000" stroke-width="3"/>
<text x="1105.5" y="298.0" font-size="28" text-anchor="end">0.0</text>
<line x1="1114.5" y1="229.3" x2="1127.5" y2="229.3" stroke="#000" stroke-width="3"/>
<text x="1105.5" y="240.2" font-size="28" text-anchor="end">0.1</text>
<line x1="1114.5" y1="171.5" x2="1127.5" y2="171.5" stroke="#000" stroke-width="3"/>
<text x="1105.5" y="182.3" font-size="28" text-anchor="end">0.2</text>
<line x1="1114.5" y1="113.6" x2="1127.5" y2="113.6" stroke="#000" stroke-width="3"/>
<text x="1105.5" y="124.4" font-size="28" text-anchor="end">0.3</text>
<line x1="1114.5" y1="55.8" x2="1127.5" y2="55.8" stroke="#000" stroke-width="3"/>
<text x="1105.5" y="66.6" font-size="28" text-anchor="end">0.4</text>
<text transform="translate(1018,170) rotate(-90)" font-size="29" text-anchor="middle">Neutrophil</text>
<text transform="translate(1053,170.5) rotate(-90)" font-size="28.8" text-anchor="middle">infiltration score</text>
<text x="1155.5" y="83" font-size="27.5" text-anchor="middle">***</text>
<line x1="1137.9" y1="77.2" x2="1173.1" y2="77.2" stroke="#000" stroke-width="3.6"/>
<text x="1206.5" y="83" font-size="27.5" text-anchor="middle">**</text>
<line x1="1188.9" y1="77.2" x2="1224.1" y2="77.2" stroke="#000" stroke-width="3.6"/>
<text x="1257.5" y="83" font-size="27.5" text-anchor="middle">**</text>
<line x1="1239.9" y1="77.2" x2="1275.1" y2="77.2" stroke="#000" stroke-width="3.6"/>
<text x="1308.5" y="83" font-size="27.5" text-anchor="middle">****</text>
<line x1="1290.9" y1="77.2" x2="1326.1" y2="77.2" stroke="#000" stroke-width="3.6"/>
<text x="1359.5" y="83" font-size="27.5" text-anchor="middle">****</text>
<line x1="1341.9" y1="77.2" x2="1377.1" y2="77.2" stroke="#000" stroke-width="3.6"/>
<text x="1410.5" y="83" font-size="27.5" text-anchor="middle">****</text>
<line x1="1392.9" y1="77.2" x2="1428.1" y2="77.2" stroke="#000" stroke-width="3.6"/>
<text x="1461.5" y="83" font-size="27.5" text-anchor="middle">****</text>
<line x1="1443.9" y1="77.2" x2="1479.1" y2="77.2" stroke="#000" stroke-width="3.6"/>
<text x="1512.5" y="83" font-size="27.5" text-anchor="middle">***</text>
<line x1="1494.9" y1="77.2" x2="1530.1" y2="77.2" stroke="#000" stroke-width="3.6"/>
<defs><linearGradient id="magma" x1="0" y1="0" x2="0" y2="1"><stop offset="0" stop-color="#0c0a22"/><stop offset="0.09" stop-color="#1f0f4f"/><stop offset="0.18" stop-color="#3b0f70"/><stop offset="0.3" stop-color="#6a1c81"/><stop offset="0.44" stop-color="#b0357b"/><stop offset="0.56" stop-color="#dc4a69"/><stop offset="0.68" stop-color="#f26e5e"/><stop offset="0.78" stop-color="#f5a173"/><stop offset="0.88" stop-color="#f4d597"/><stop offset="1" stop-color="#fbfcc9"/></linearGradient></defs>
<rect x="1550" y="129" width="19" height="171" fill="url(#magma)"/>
<line x1="1550" y1="156" x2="1554" y2="156" stroke="#fff" stroke-width="1.6"/><line x1="1565" y1="156" x2="1569" y2="156" stroke="#fff" stroke-width="1.6"/>
<text x="1582.5" y="166.3" font-size="28.8">0.12</text>
<line x1="1550" y1="205.7" x2="1554" y2="205.7" stroke="#fff" stroke-width="1.6"/><line x1="1565" y1="205.7" x2="1569" y2="205.7" stroke="#fff" stroke-width="1.6"/>
<text x="1582.5" y="216.0" font-size="28.8">0.08</text>
<line x1="1550" y1="255" x2="1554" y2="255" stroke="#fff" stroke-width="1.6"/><line x1="1565" y1="255" x2="1569" y2="255" stroke="#fff" stroke-width="1.6"/>
<text x="1582.5" y="265.3" font-size="28.8">0.04</text>
<text x="1558.5" y="74.6" font-size="28.8">Patient</text>
<text x="1558.5" y="109.4" font-size="28.6">Proportion</text>
<text x="1122.5" y="326.7" font-size="29" text-anchor="end">THY1<tspan font-size="20" dy="-11">+</tspan><tspan dy="11"> CSC</tspan></text>
<text x="1122" y="361" font-size="29" text-anchor="end">hypoxia score</text>
<text transform="translate(1152.0,301) rotate(-90)" font-size="28" text-anchor="end">Low</text>
<text transform="translate(1180.7,301) rotate(-90)" font-size="28" text-anchor="end">High</text>
<line x1="1137.2" y1="365" x2="1173.5" y2="365" stroke="#000" stroke-width="2.4"/>
<text transform="translate(1161.0,387) rotate(-45)" font-size="28" text-anchor="end">STAD</text>
<text transform="translate(1203.0,301) rotate(-90)" font-size="28" text-anchor="end">Low</text>
<text transform="translate(1231.7,301) rotate(-90)" font-size="28" text-anchor="end">High</text>
<line x1="1188.2" y1="365" x2="1224.5" y2="365" stroke="#000" stroke-width="2.4"/>
<text transform="translate(1212.0,387) rotate(-45)" font-size="28" text-anchor="end">SKCM</text>
<text transform="translate(1254.0,301) rotate(-90)" font-size="28" text-anchor="end">Low</text>
<text transform="translate(1282.7,301) rotate(-90)" font-size="28" text-anchor="end">High</text>
<line x1="1239.2" y1="365" x2="1275.5" y2="365" stroke="#000" stroke-width="2.4"/>
<text transform="translate(1263.0,387) rotate(-45)" font-size="28" text-anchor="end">PAAD</text>
<text transform="translate(1305.0,301) rotate(-90)" font-size="28" text-anchor="end">Low</text>
<text transform="translate(1333.7,301) rotate(-90)" font-size="28" text-anchor="end">High</text>
<line x1="1290.2" y1="365" x2="1326.5" y2="365" stroke="#000" stroke-width="2.4"/>
<text transform="translate(1314.0,387) rotate(-45)" font-size="28" text-anchor="end">NSCLC</text>
<text transform="translate(1356.0,301) rotate(-90)" font-size="28" text-anchor="end">Low</text>
<text transform="translate(1384.7,301) rotate(-90)" font-size="28" text-anchor="end">High</text>
<line x1="1341.2" y1="365" x2="1377.5" y2="365" stroke="#000" stroke-width="2.4"/>
<text transform="translate(1365.0,387) rotate(-45)" font-size="28" text-anchor="end">LIHC</text>
<text transform="translate(1407.0,301) rotate(-90)" font-size="28" text-anchor="end">Low</text>
<text transform="translate(1435.7,301) rotate(-90)" font-size="28" text-anchor="end">High</text>
<line x1="1392.2" y1="365" x2="1428.5" y2="365" stroke="#000" stroke-width="2.4"/>
<text transform="translate(1416.0,387) rotate(-45)" font-size="28" text-anchor="end">COAD</text>
<text transform="translate(1458.0,301) rotate(-90)" font-size="28" text-anchor="end">Low</text>
<text transform="translate(1486.7,301) rotate(-90)" font-size="28" text-anchor="end">High</text>
<line x1="1443.2" y1="365" x2="1479.5" y2="365" stroke="#000" stroke-width="2.4"/>
<text transform="translate(1467.0,387) rotate(-45)" font-size="28" text-anchor="end">BRCA</text>
<text transform="translate(1509.0,301) rotate(-90)" font-size="28" text-anchor="end">Low</text>
<text transform="translate(1537.7,301) rotate(-90)" font-size="28" text-anchor="end">High</text>
<line x1="1494.2" y1="365" x2="1530.5" y2="365" stroke="#000" stroke-width="2.4"/>
<text transform="translate(1518.0,387) rotate(-45)" font-size="28" text-anchor="end">BLCA</text>
<text x="1690" y="38.6" class="lab">c</text>
<defs><filter id="bl3" x="-50%" y="-50%" width="200%" height="200%"><feGaussianBlur stdDeviation="3"/></filter><filter id="bl2" x="-50%" y="-50%" width="200%" height="200%"><feGaussianBlur stdDeviation="1.8"/></filter><filter id="noiseG" x="0" y="0" width="100%" height="100%"><feTurbulence type="fractalNoise" baseFrequency="0.9" numOctaves="2" seed="3" result="n"/><feColorMatrix in="n" type="matrix" values="0 0 0 0 0  0 0 0 0 0  0 0 0 0 0  0 0 0 0.18 0"/></filter><clipPath id="cpTHY"><rect x="1788.4" y="246.5" width="188" height="46.3"/></clipPath><clipPath id="cpACT"><rect x="1788.4" y="300.6" width="188" height="46.9"/></clipPath></defs>
<rect x="1788.4" y="246.5" width="188" height="46.3" fill="#dadada"/>
<g clip-path="url(#cpTHY)">
<rect x="1788.4" y="246.5" width="188" height="46.3" filter="url(#noiseG)" opacity="0.35"/>
<rect x="1800" y="263" width="34" height="10" rx="5" fill="#9a9a9a" filter="url(#bl3)"/>
<rect x="1889" y="264" width="32" height="9" rx="4.5" fill="#a8a8a8" filter="url(#bl3)"/>
<ellipse cx="1945.5" cy="267.5" rx="16" ry="10" fill="#444" filter="url(#bl3)"/><ellipse cx="1945.5" cy="268" rx="14.5" ry="8" fill="#1a1a1a" filter="url(#bl2)"/>
<ellipse cx="1945.5" cy="268.5" rx="11" ry="5.5" fill="#050505" filter="url(#bl2)"/>
</g>
<rect x="1788.4" y="300.6" width="188" height="46.9" fill="#efefef"/>
<g clip-path="url(#cpACT)">
<rect x="1799.5" y="320.5" width="34" height="9.5" rx="4.5" fill="#181818" filter="url(#bl2)"/>
<rect x="1841.0" y="320.5" width="36" height="9.5" rx="4.5" fill="#181818" filter="url(#bl2)"/>
<rect x="1886.0" y="320.5" width="36" height="9.5" rx="4.5" fill="#181818" filter="url(#bl2)"/>
<rect x="1930.0" y="320.5" width="38" height="9.5" rx="4.5" fill="#181818" filter="url(#bl2)"/>
</g>
<text x="1776.5" y="283.8" font-size="27" text-anchor="end">THY1</text>
<text x="1778" y="336.8" font-size="27.5" text-anchor="end">β-actin</text>
<line x1="1979" y1="253.5" x2="1990.5" y2="253.5" stroke="#000" stroke-width="3"/>
<text x="1992.5" y="264.7" font-size="28">33</text>
<line x1="1979" y1="330.7" x2="1990.5" y2="330.7" stroke="#000" stroke-width="3"/>
<text x="1992.5" y="340.5" font-size="28">40</text>
<text x="1985.5" y="228.2" font-size="27.5">(kDa)</text>
<text transform="translate(1823.5,238) rotate(-90)" font-size="27.5">shNC</text>
<text transform="translate(1868.4,238) rotate(-90)" font-size="27.5">sh<tspan font-style="italic">THY1</tspan></text>
<text transform="translate(1912,238) rotate(-90)" font-size="27.5">WT</text>
<text transform="translate(1956,235) rotate(-90)" font-size="27.5"><tspan font-style="italic">THY1</tspan>-OE</text>
<text x="1" y="497" class="lab">d</text>
<text x="116" y="565.5" font-size="28" text-anchor="middle">GFP</text>
<text x="250.5" y="565.5" font-size="27.5" text-anchor="middle">HIF1α-GFP</text>
<text transform="translate(44.8,642.8) rotate(-90)" font-size="28.3" text-anchor="middle">Untreated</text>
<text transform="translate(44,775.4) rotate(-90)" font-size="28.8" text-anchor="middle">DMOG</text>
<defs>
<filter id="gfpTex" color-interpolation-filters="sRGB" x="0" y="0" width="100%" height="100%"><feTurbulence type="fractalNoise" baseFrequency="0.42" numOctaves="2" seed="7" result="f"/><feTurbulence type="fractalNoise" baseFrequency="0.045" numOctaves="2" seed="3" result="c"/>
<feColorMatrix in="f" type="matrix" values="1 0 0 0 0  1 0 0 0 0  1 0 0 0 0  0 0 0 0 1" result="f1"/><feColorMatrix in="c" type="matrix" values="1 0 0 0 0  1 0 0 0 0  1 0 0 0 0  0 0 0 0 1" result="c1"/><feComposite in="f1" in2="c1" operator="arithmetic" k2="0.9" k3="0.6" k4="-0.25"/>
<feColorMatrix type="matrix" values="0.28 0 0 0 -0.06  1.3 0 0 0 -0.2  0.2 0 0 0 -0.05  0 0 0 0 1"/></filter>
<filter id="gfpTex2" color-interpolation-filters="sRGB" x="0" y="0" width="100%" height="100%"><feTurbulence type="fractalNoise" baseFrequency="0.4" numOctaves="2" seed="11" result="f"/><feTurbulence type="fractalNoise" baseFrequency="0.04" numOctaves="2" seed="9" result="c"/>
<feColorMatrix in="f" type="matrix" values="1 0 0 0 0  1 0 0 0 0  1 0 0 0 0  0 0 0 0 1" result="f1"/><feColorMatrix in="c" type="matrix" values="1 0 0 0 0  1 0 0 0 0  1 0 0 0 0  0 0 0 0 1" result="c1"/><feComposite in="f1" in2="c1" operator="arithmetic" k2="0.9" k3="0.7" k4="-0.3"/>
<feColorMatrix type="matrix" values="0.32 0 0 0 -0.06  1.75 0 0 0 -0.25  0.22 0 0 0 -0.05  0 0 0 0 1"/></filter>
<filter id="bluTex" color-interpolation-filters="sRGB" x="0" y="0" width="100%" height="100%"><feTurbulence type="fractalNoise" baseFrequency="0.18" numOctaves="2" seed="5"/>
<feColorMatrix type="matrix" values="0.35 0 0 0 -0.02  0.35 0 0 0 -0.02  1.6 0 0 0 0.05  0 0 0 0 1"/></filter>
<filter id="cyTex" color-interpolation-filters="sRGB" x="0" y="0" width="100%" height="100%"><feTurbulence type="fractalNoise" baseFrequency="0.36" numOctaves="2" seed="4"/>
<feColorMatrix type="matrix" values="0 0 0 0 0  0 0 0 0 0  0 0 0 0 0  6 0 0 0 -2.15" result="m"/><feFlood flood-color="#74eed6"/><feComposite in2="m" operator="in"/></filter>
<filter id="dkbl" x="-50%" y="-50%" width="200%" height="200%"><feGaussianBlur stdDeviation="5"/></filter>
<filter id="nbl" x="-20%" y="-20%" width="140%" height="140%"><feGaussianBlur stdDeviation="0.8"/></filter>
<clipPath id="cpG1"><rect x="51.7" y="577.7" width="129.6" height="129.3"/></clipPath>
<clipPath id="cpH1"><rect x="185.6" y="577.7" width="129.4" height="129.3"/></clipPath>
<clipPath id="cpG2"><rect x="51.7" y="709.8" width="129.6" height="129"/></clipPath>
<clipPath id="cpH2"><rect x="185.6" y="709.8" width="129.4" height="129"/></clipPath>
<clipPath id="cpN1"><ellipse cx="96.2" cy="615.9" rx="15" ry="16.2" transform="rotate(-15 96.2 615.9)"/><ellipse cx="63" cy="649.2" rx="13.6" ry="16.7" transform="rotate(0 63 649.2)"/><ellipse cx="102.3" cy="659.1" rx="18.5" ry="13.5" transform="rotate(-25 102.3 659.1)"/><ellipse cx="162.9" cy="644" rx="18" ry="17.5" transform="rotate(0 162.9 644)"/><ellipse cx="168" cy="597.7" rx="15" ry="18.5" transform="rotate(10 168 597.7)"/><ellipse cx="119.7" cy="688" rx="20" ry="16.5" transform="rotate(10 119.7 688)"/></clipPath><clipPath id="cpNH1"><ellipse cx="206" cy="619" rx="17" ry="18" transform="rotate(0 206 619)"/><ellipse cx="234.4" cy="607" rx="15" ry="18" transform="rotate(-10 234.4 607)"/><ellipse cx="285.6" cy="594.7" rx="14" ry="15" transform="rotate(0 285.6 594.7)"/><ellipse cx="281.5" cy="627" rx="14" ry="13" transform="rotate(0 281.5 627)"/><ellipse cx="218" cy="654" rx="18.5" ry="18" transform="rotate(0 218 654)"/><ellipse cx="292.3" cy="658" rx="17" ry="14" transform="rotate(-15 292.3 658)"/><ellipse cx="217" cy="688" rx="16" ry="15" transform="rotate(0 217 688)"/><ellipse cx="276" cy="688" rx="16" ry="15" transform="rotate(0 276 688)"/><ellipse cx="316" cy="614" rx="4" ry="10" transform="rotate(0 316 614)"/><ellipse cx="215" cy="579" rx="5" ry="3" transform="rotate(0 215 579)"/></clipPath><clipPath id="cpN2"><ellipse cx="119" cy="743" rx="17.5" ry="14.5" transform="rotate(0 119 743)"/><ellipse cx="133.6" cy="711" rx="15" ry="8" transform="rotate(0 133.6 711)"/><ellipse cx="114.4" cy="798.3" rx="14" ry="17" transform="rotate(0 114.4 798.3)"/><ellipse cx="69.3" cy="803.9" rx="12" ry="15" transform="rotate(0 69.3 803.9)"/><ellipse cx="87.4" cy="829" rx="13" ry="11" transform="rotate(0 87.4 829)"/><ellipse cx="157.3" cy="811.8" rx="22" ry="19" transform="rotate(-20 157.3 811.8)"/></clipPath><clipPath id="cpCy"><ellipse cx="276.2" cy="726.2" rx="18" ry="16" transform="rotate(0 276.2 726.2)"/><ellipse cx="199.7" cy="749.7" rx="14.4" ry="13.6" transform="rotate(0 199.7 749.7)"/><ellipse cx="241.3" cy="752" rx="16" ry="15" transform="rotate(20 241.3 752)"/><ellipse cx="214.8" cy="783" rx="18" ry="13.6" transform="rotate(0 214.8 783)"/><ellipse cx="295.9" cy="785.3" rx="18" ry="19" transform="rotate(0 295.9 785.3)"/><ellipse cx="258.8" cy="796.7" rx="19" ry="13" transform="rotate(15 258.8 796.7)"/><ellipse cx="273.9" cy="824.7" rx="16" ry="13.6" transform="rotate(0 273.9 824.7)"/><ellipse cx="220.1" cy="832" rx="13" ry="10" transform="rotate(0 220.1 832)"/><ellipse cx="312" cy="839" rx="4" ry="3" transform="rotate(0 312 839)"/></clipPath>
</defs>
<g clip-path="url(#cpG1)"><rect x="51.7" y="577.7" width="129.6" height="129.3" filter="url(#gfpTex)"/>
<ellipse cx="60" cy="585" rx="16" ry="10" fill="#000" opacity="0.6" filter="url(#dkbl)"/>
<ellipse cx="62" cy="605" rx="14" ry="8" fill="#000" opacity="0.6" filter="url(#dkbl)"/>
<ellipse cx="131" cy="600" rx="5" ry="26" fill="#000" opacity="0.6" filter="url(#dkbl)"/>
<ellipse cx="128" cy="640" rx="4" ry="22" fill="#000" opacity="0.6" filter="url(#dkbl)"/>
<ellipse cx="100" cy="640" rx="14" ry="6" fill="#000" opacity="0.6" filter="url(#dkbl)"/>
<ellipse cx="65" cy="695" rx="14" ry="10" fill="#000" opacity="0.6" filter="url(#dkbl)"/>
<ellipse cx="85" cy="680" rx="8" ry="8" fill="#000" opacity="0.6" filter="url(#dkbl)"/>
<ellipse cx="140" cy="705" rx="12" ry="5" fill="#000" opacity="0.6" filter="url(#dkbl)"/>
</g>
<g clip-path="url(#cpG1)"><g clip-path="url(#cpN1)"><rect x="51.7" y="577.7" width="129.6" height="129.3" filter="url(#bluTex)"/></g></g>
<rect x="185.6" y="577.7" width="129.4" height="129.3" fill="#020208"/>
<g clip-path="url(#cpH1)"><g clip-path="url(#cpNH1)"><rect x="185.6" y="577.7" width="129.4" height="129.3" fill="#2323d6"/><rect x="185.6" y="577.7" width="129.4" height="129.3" filter="url(#bluTex)" opacity="0.45"/></g></g>
<g clip-path="url(#cpG2)"><rect x="51.7" y="709.8" width="129.6" height="129" filter="url(#gfpTex2)"/>
<ellipse cx="62" cy="728" rx="12" ry="14" fill="#000" opacity="0.65" filter="url(#dkbl)"/>
<ellipse cx="80" cy="712" rx="14" ry="5" fill="#000" opacity="0.65" filter="url(#dkbl)"/>
<ellipse cx="168" cy="760" rx="12" ry="18" fill="#000" opacity="0.65" filter="url(#dkbl)"/>
<ellipse cx="172" cy="730" rx="8" ry="10" fill="#000" opacity="0.65" filter="url(#dkbl)"/>
<ellipse cx="58" cy="780" rx="6" ry="14" fill="#000" opacity="0.65" filter="url(#dkbl)"/>
<ellipse cx="98" cy="772" rx="8" ry="6" fill="#000" opacity="0.65" filter="url(#dkbl)"/>
<ellipse cx="140" cy="835" rx="14" ry="5" fill="#000" opacity="0.65" filter="url(#dkbl)"/>
<circle cx="173" cy="770" r="2.8" fill="#58ee48"/>
<circle cx="163" cy="758" r="1.8" fill="#58ee48"/>
<circle cx="77" cy="814" r="2.5" fill="#58ee48"/>
<circle cx="136" cy="788" r="2" fill="#58ee48"/>
<circle cx="144" cy="800" r="1.6" fill="#58ee48"/>
<circle cx="102" cy="733" r="1.5" fill="#58ee48"/>
<circle cx="150" cy="746" r="1.5" fill="#58ee48"/>
</g>
<g clip-path="url(#cpG2)"><g clip-path="url(#cpN2)"><rect x="51.7" y="709.8" width="129.6" height="129" filter="url(#bluTex)"/></g>
<line x1="55.8" y1="832.8" x2="88.5" y2="832.8" stroke="#fff" stroke-width="3"/></g>
<rect x="185.6" y="709.8" width="129.4" height="129" fill="#010106"/>
<g clip-path="url(#cpH2)"><g clip-path="url(#cpCy)"><rect x="185.6" y="709.8" width="129.4" height="129" fill="#142a66"/><rect x="185.6" y="709.8" width="129.4" height="129" filter="url(#cyTex)"/></g></g>
<rect x="51.7" y="842.2" width="263.9" height="35" fill="#000"/>
<text x="86" y="869.3" font-size="28.5" fill="#3fe03f">GFP</text>
<text x="186.5" y="869.3" font-size="28.5" fill="#2c2cf2">Hoechst</text>
<text x="348" y="497" class="lab">e</text>
<line x1="523.7" y1="563.4" x2="523.7" y2="814.4" stroke="#000" stroke-width="3"/>
<line x1="509.6" y1="812.9" x2="622.3" y2="812.9" stroke="#000" stroke-width="3"/>
<line x1="509.6" y1="812.9" x2="523.7" y2="812.9" stroke="#000" stroke-width="3"/>
<text x="494" y="823.1" font-size="28" text-anchor="end">0.0</text>
<line x1="509.6" y1="730.2" x2="523.7" y2="730.2" stroke="#000" stroke-width="3"/>
<text x="494" y="740.4" font-size="28" text-anchor="end">0.4</text>
<line x1="509.6" y1="647.5" x2="523.7" y2="647.5" stroke="#000" stroke-width="3"/>
<text x="494" y="657.7" font-size="28" text-anchor="end">0.8</text>
<line x1="509.6" y1="564.9" x2="523.7" y2="564.9" stroke="#000" stroke-width="3"/>
<text x="494" y="575.1" font-size="28" text-anchor="end">1.2</text>
<line x1="549.3" y1="812.9" x2="549.3" y2="826" stroke="#000" stroke-width="3"/>
<line x1="597.6" y1="812.9" x2="597.6" y2="826" stroke="#000" stroke-width="3"/>
<text transform="translate(420.6,692.5) rotate(-90)" font-size="29" text-anchor="middle">Metastasis score</text>
<text x="526" y="557" font-size="27.5">&lt; 0.0001</text>
<line x1="548.8" y1="572.3" x2="597.8" y2="572.3" stroke="#000" stroke-width="3"/>
<text x="351.5" y="868.5" font-size="28">Neutrophils</text>
<text transform="translate(566.5,847) rotate(-45)" font-size="28" text-anchor="end">Low</text>
<text transform="translate(617,851) rotate(-45)" font-size="28" text-anchor="end">High</text>
<path d="M548.4 598.6 L548.4 601.6 L548.4 604.6 L548.4 607.7 L548.4 610.7 L548.4 613.7 L548.4 616.7 L548.3 619.7 L548.3 622.7 L548.3 625.8 L548.3 628.8 L548.3 631.8 L548.2 634.8 L548.2 637.8 L548.2 640.8 L548.2 643.9 L548.1 646.9 L548.1 649.9 L548.0 652.9 L547.9 655.9 L547.8 658.9 L547.8 662.0 L547.7 665.0 L547.6 668.0 L547.5 671.0 L547.3 674.0 L547.1 677.1 L546.9 680.1 L546.8 683.1 L546.7 686.1 L546.6 689.1 L546.6 692.1 L546.3 695.2 L545.6 698.2 L544.7 701.2 L543.6 704.2 L542.4 707.2 L541.2 710.2 L539.8 713.3 L538.6 716.3 L537.3 719.3 L536.0 722.3 L535.2 725.3 L534.7 728.3 L534.3 731.4 L534.1 734.4 L534.0 737.4 L534.0 740.4 L534.2 743.4 L534.7 746.5 L535.3 749.5 L535.9 752.5 L536.6 755.5 L537.4 758.5 L538.4 761.5 L539.6 764.6 L540.8 767.6 L542.0 770.6 L543.2 773.6 L544.4 776.6 L545.5 779.6 L546.3 782.7 L546.9 785.7 L547.3 788.7 L547.7 791.7 L547.9 794.7 L548.1 797.7 L548.2 800.8 L548.4 803.8 L548.4 806.8 L550.2 806.8 L550.2 803.8 L550.4 800.8 L550.5 797.7 L550.7 794.7 L550.9 791.7 L551.3 788.7 L551.7 785.7 L552.3 782.7 L553.1 779.6 L554.2 776.6 L555.4 773.6 L556.6 770.6 L557.8 767.6 L559.0 764.6 L560.2 761.5 L561.2 758.5 L562.0 755.5 L562.7 752.5 L563.3 749.5 L563.9 746.5 L564.4 743.4 L564.6 740.4 L564.6 737.4 L564.5 734.4 L564.3 731.4 L563.9 728.3 L563.4 725.3 L562.6 722.3 L561.3 719.3 L560.0 716.3 L558.8 713.3 L557.4 710.2 L556.2 707.2 L555.0 704.2 L553.9 701.2 L553.0 698.2 L552.3 695.2 L552.0 692.1 L552.0 689.1 L551.9 686.1 L551.8 683.1 L551.7 680.1 L551.5 677.1 L551.3 674.0 L551.1 671.0 L551.0 668.0 L550.9 665.0 L550.8 662.0 L550.8 658.9 L550.7 655.9 L550.6 652.9 L550.5 649.9 L550.5 646.9 L550.4 643.9 L550.4 640.8 L550.4 637.8 L550.4 634.8 L550.3 631.8 L550.3 628.8 L550.3 625.8 L550.3 622.7 L550.3 619.7 L550.2 616.7 L550.2 613.7 L550.2 610.7 L550.2 607.7 L550.2 604.6 L550.2 601.6 L550.2 598.6Z" fill="none" stroke="#000" stroke-width="3.2" stroke-linejoin="round"/>
<path d="M596.7 616.5 L596.7 619.1 L596.7 621.8 L596.7 624.4 L596.7 627.0 L596.7 629.6 L596.6 632.3 L596.6 634.9 L596.6 637.5 L596.6 640.1 L596.5 642.8 L596.5 645.4 L596.5 648.0 L596.5 650.7 L596.4 653.3 L596.4 655.9 L596.3 658.5 L596.3 661.2 L596.2 663.8 L596.1 666.4 L596.1 669.1 L596.0 671.7 L595.9 674.3 L595.7 676.9 L595.6 679.6 L595.4 682.2 L595.1 684.8 L595.0 687.4 L595.0 690.1 L595.0 692.7 L594.8 695.3 L594.2 698.0 L593.6 700.6 L592.7 703.2 L591.5 705.8 L590.2 708.5 L588.6 711.1 L587.0 713.7 L585.4 716.3 L583.9 719.0 L582.9 721.6 L582.2 724.2 L582.1 726.9 L582.7 729.5 L583.5 732.1 L584.6 734.7 L585.7 737.4 L586.9 740.0 L588.0 742.6 L589.1 745.2 L590.2 747.9 L591.2 750.5 L592.2 753.1 L593.1 755.8 L593.8 758.4 L594.3 761.0 L594.8 763.6 L595.1 766.3 L595.5 768.9 L595.7 771.5 L596.0 774.2 L596.1 776.8 L596.2 779.4 L596.3 782.0 L596.4 784.7 L596.5 787.3 L596.6 789.9 L596.7 792.5 L596.7 795.2 L596.7 797.8 L598.5 797.8 L598.5 795.2 L598.5 792.5 L598.6 789.9 L598.7 787.3 L598.8 784.7 L598.9 782.0 L599.0 779.4 L599.1 776.8 L599.2 774.2 L599.5 771.5 L599.7 768.9 L600.1 766.3 L600.4 763.6 L600.9 761.0 L601.4 758.4 L602.1 755.8 L603.0 753.1 L604.0 750.5 L605.0 747.9 L606.1 745.2 L607.2 742.6 L608.3 740.0 L609.5 737.4 L610.6 734.7 L611.7 732.1 L612.5 729.5 L613.1 726.9 L613.0 724.2 L612.3 721.6 L611.3 719.0 L609.8 716.3 L608.2 713.7 L606.6 711.1 L605.0 708.5 L603.7 705.8 L602.5 703.2 L601.6 700.6 L601.0 698.0 L600.4 695.3 L600.2 692.7 L600.2 690.1 L600.2 687.4 L600.1 684.8 L599.8 682.2 L599.6 679.6 L599.5 676.9 L599.3 674.3 L599.2 671.7 L599.1 669.1 L599.1 666.4 L599.0 663.8 L598.9 661.2 L598.9 658.5 L598.8 655.9 L598.8 653.3 L598.7 650.7 L598.7 648.0 L598.7 645.4 L598.7 642.8 L598.6 640.1 L598.6 637.5 L598.6 634.9 L598.6 632.3 L598.5 629.6 L598.5 627.0 L598.5 624.4 L598.5 621.8 L598.5 619.1 L598.5 616.5Z" fill="none" stroke="#000" stroke-width="3.2" stroke-linejoin="round"/>
<circle cx="542.8" cy="724.2" r="2.4" fill="#000"/>
<circle cx="549.3" cy="724.2" r="2.4" fill="#000"/>
<circle cx="555.8" cy="724.2" r="2.4" fill="#000"/>
<line x1="535.3" y1="739.5" x2="546.3" y2="739.5" stroke="#000" stroke-width="4.2"/>
<line x1="548.8" y1="739.5" x2="558.3" y2="739.5" stroke="#000" stroke-width="4.2"/>
<circle cx="542.8" cy="754" r="2.4" fill="#000"/>
<circle cx="549.3" cy="754" r="2.4" fill="#000"/>
<circle cx="555.8" cy="754" r="2.4" fill="#000"/>
<circle cx="591.1" cy="714.8" r="2.4" fill="#000"/>
<circle cx="597.6" cy="714.8" r="2.4" fill="#000"/>
<circle cx="604.1" cy="714.8" r="2.4" fill="#000"/>
<line x1="583.6" y1="726.5" x2="594.6" y2="726.5" stroke="#000" stroke-width="4.2"/>
<line x1="597.1" y1="726.5" x2="606.6" y2="726.5" stroke="#000" stroke-width="4.2"/>
<circle cx="591.1" cy="739.5" r="2.4" fill="#000"/>
<circle cx="597.6" cy="739.5" r="2.4" fill="#000"/>
<circle cx="604.1" cy="739.5" r="2.4" fill="#000"/>
<text x="684" y="496.4" class="lab">f</text>
<defs><filter id="fb" x="-5%" y="-5%" width="110%" height="110%"><feGaussianBlur stdDeviation="0.9"/></filter></defs>
<defs><filter id="k10" color-interpolation-filters="sRGB"><feTurbulence type="fractalNoise" baseFrequency="0.55" numOctaves="2" seed="3" result="n"/><feColorMatrix in="n" type="matrix" values="0 0 0 0 0 0 0 0 0 0 0 0 0 0 0 1 0 0 0 0" result="a"/><feComponentTransfer in="a" result="m"><feFuncA type="linear" slope="16" intercept="-10.044"/></feComponentTransfer><feComposite in="SourceGraphic" in2="m" operator="in"/></filter><filter id="k15" color-interpolation-filters="sRGB"><feTurbulence type="fractalNoise" baseFrequency="0.55" numOctaves="2" seed="10" result="n"/><feColorMatrix in="n" type="matrix" values="0 0 0 0 0 0 0 0 0 0 0 0 0 0 0 1 0 0 0 0" result="a"/><feComponentTransfer in="a" result="m"><feFuncA type="linear" slope="16" intercept="-9.580"/></feComponentTransfer><feComposite in="SourceGraphic" in2="m" operator="in"/></filter><filter id="k20" color-interpolation-filters="sRGB"><feTurbulence type="fractalNoise" baseFrequency="0.55" numOctaves="2" seed="17" result="n"/><feColorMatrix in="n" type="matrix" values="0 0 0 0 0 0 0 0 0 0 0 0 0 0 0 1 0 0 0 0" result="a"/><feComponentTransfer in="a" result="m"><feFuncA type="linear" slope="16" intercept="-9.100"/></feComponentTransfer><feComposite in="SourceGraphic" in2="m" operator="in"/></filter><filter id="k25" color-interpolation-filters="sRGB"><feTurbulence type="fractalNoise" baseFrequency="0.55" numOctaves="2" seed="24" result="n"/><feColorMatrix in="n" type="matrix" values="0 0 0 0 0 0 0 0 0 0 0 0 0 0 0 1 0 0 0 0" result="a"/><feComponentTransfer in="a" result="m"><feFuncA type="linear" slope="16" intercept="-8.780"/></feComponentTransfer><feComposite in="SourceGraphic" in2="m" operator="in"/></filter><filter id="k30" color-interpolation-filters="sRGB"><feTurbulence type="fractalNoise" baseFrequency="0.55" numOctaves="2" seed="31" result="n"/><feColorMatrix in="n" type="matrix" values="0 0 0 0 0 0 0 0 0 0 0 0 0 0 0 1 0 0 0 0" result="a"/><feComponentTransfer in="a" result="m"><feFuncA type="linear" slope="16" intercept="-8.476"/></feComponentTransfer><feComposite in="SourceGraphic" in2="m" operator="in"/></filter><filter id="k35" color-interpolation-filters="sRGB"><feTurbulence type="fractalNoise" baseFrequency="0.55" numOctaves="2" seed="38" result="n"/><feColorMatrix in="n" type="matrix" values="0 0 0 0 0 0 0 0 0 0 0 0 0 0 0 1 0 0 0 0" result="a"/><feComponentTransfer in="a" result="m"><feFuncA type="linear" slope="16" intercept="-8.220"/></feComponentTransfer><feComposite in="SourceGraphic" in2="m" operator="in"/></filter><filter id="k40" color-interpolation-filters="sRGB"><feTurbulence type="fractalNoise" baseFrequency="0.55" numOctaves="2" seed="45" result="n"/><feColorMatrix in="n" type="matrix" values="0 0 0 0 0 0 0 0 0 0 0 0 0 0 0 1 0 0 0 0" result="a"/><feComponentTransfer in="a" result="m"><feFuncA type="linear" slope="16" intercept="-7.964"/></feComponentTransfer><feComposite in="SourceGraphic" in2="m" operator="in"/></filter><filter id="k45" color-interpolation-filters="sRGB"><feTurbulence type="fractalNoise" baseFrequency="0.55" numOctaves="2" seed="52" result="n"/><feColorMatrix in="n" type="matrix" values="0 0 0 0 0 0 0 0 0 0 0 0 0 0 0 1 0 0 0 0" result="a"/><feComponentTransfer in="a" result="m"><feFuncA type="linear" slope="16" intercept="-7.740"/></feComponentTransfer><feComposite in="SourceGraphic" in2="m" operator="in"/></filter><filter id="k50" color-interpolation-filters="sRGB"><feTurbulence type="fractalNoise" baseFrequency="0.55" numOctaves="2" seed="59" result="n"/><feColorMatrix in="n" type="matrix" values="0 0 0 0 0 0 0 0 0 0 0 0 0 0 0 1 0 0 0 0" result="a"/><feComponentTransfer in="a" result="m"><feFuncA type="linear" slope="16" intercept="-7.532"/></feComponentTransfer><feComposite in="SourceGraphic" in2="m" operator="in"/></filter><filter id="k55" color-interpolation-filters="sRGB"><feTurbulence type="fractalNoise" baseFrequency="0.55" numOctaves="2" seed="66" result="n"/><feColorMatrix in="n" type="matrix" values="0 0 0 0 0 0 0 0 0 0 0 0 0 0 0 1 0 0 0 0" result="a"/><feComponentTransfer in="a" result="m"><feFuncA type="linear" slope="16" intercept="-7.292"/></feComponentTransfer><feComposite in="SourceGraphic" in2="m" operator="in"/></filter><filter id="k60" color-interpolation-filters="sRGB"><feTurbulence type="fractalNoise" baseFrequency="0.55" numOctaves="2" seed="73" result="n"/><feColorMatrix in="n" type="matrix" values="0 0 0 0 0 0 0 0 0 0 0 0 0 0 0 1 0 0 0 0" result="a"/><feComponentTransfer in="a" result="m"><feFuncA type="linear" slope="16" intercept="-7.036"/></feComponentTransfer><feComposite in="SourceGraphic" in2="m" operator="in"/></filter><filter id="k65" color-interpolation-filters="sRGB"><feTurbulence type="fractalNoise" baseFrequency="0.55" numOctaves="2" seed="80" result="n"/><feColorMatrix in="n" type="matrix" values="0 0 0 0 0 0 0 0 0 0 0 0 0 0 0 1 0 0 0 0" result="a"/><feComponentTransfer in="a" result="m"><feFuncA type="linear" slope="16" intercept="-6.780"/></feComponentTransfer><feComposite in="SourceGraphic" in2="m" operator="in"/></filter><filter id="k70" color-interpolation-filters="sRGB"><feTurbulence type="fractalNoise" baseFrequency="0.55" numOctaves="2" seed="87" result="n"/><feColorMatrix in="n" type="matrix" values="0 0 0 0 0 0 0 0 0 0 0 0 0 0 0 1 0 0 0 0" result="a"/><feComponentTransfer in="a" result="m"><feFuncA type="linear" slope="16" intercept="-6.524"/></feComponentTransfer><feComposite in="SourceGraphic" in2="m" operator="in"/></filter><filter id="k75" color-interpolation-filters="sRGB"><feTurbulence type="fractalNoise" baseFrequency="0.55" numOctaves="2" seed="94" result="n"/><feColorMatrix in="n" type="matrix" values="0 0 0 0 0 0 0 0 0 0 0 0 0 0 0 1 0 0 0 0" result="a"/><feComponentTransfer in="a" result="m"><feFuncA type="linear" slope="16" intercept="-6.220"/></feComponentTransfer><feComposite in="SourceGraphic" in2="m" operator="in"/></filter><filter id="k80" color-interpolation-filters="sRGB"><feTurbulence type="fractalNoise" baseFrequency="0.55" numOctaves="2" seed="101" result="n"/><feColorMatrix in="n" type="matrix" values="0 0 0 0 0 0 0 0 0 0 0 0 0 0 0 1 0 0 0 0" result="a"/><feComponentTransfer in="a" result="m"><feFuncA type="linear" slope="16" intercept="-5.900"/></feComponentTransfer><feComposite in="SourceGraphic" in2="m" operator="in"/></filter><filter id="k85" color-interpolation-filters="sRGB"><feTurbulence type="fractalNoise" baseFrequency="0.55" numOctaves="2" seed="108" result="n"/><feColorMatrix in="n" type="matrix" values="0 0 0 0 0 0 0 0 0 0 0 0 0 0 0 1 0 0 0 0" result="a"/><feComponentTransfer in="a" result="m"><feFuncA type="linear" slope="16" intercept="-5.452"/></feComponentTransfer><feComposite in="SourceGraphic" in2="m" operator="in"/></filter><filter id="k90" color-interpolation-filters="sRGB"><feTurbulence type="fractalNoise" baseFrequency="0.55" numOctaves="2" seed="115" result="n"/><feColorMatrix in="n" type="matrix" values="0 0 0 0 0 0 0 0 0 0 0 0 0 0 0 1 0 0 0 0" result="a"/><feComponentTransfer in="a" result="m"><feFuncA type="linear" slope="16" intercept="-5.020"/></feComponentTransfer><feComposite in="SourceGraphic" in2="m" operator="in"/></filter><filter id="k95" color-interpolation-filters="sRGB"><feTurbulence type="fractalNoise" baseFrequency="0.55" numOctaves="2" seed="122" result="n"/><feColorMatrix in="n" type="matrix" values="0 0 0 0 0 0 0 0 0 0 0 0 0 0 0 1 0 0 0 0" result="a"/><feComponentTransfer in="a" result="m"><feFuncA type="linear" slope="16" intercept="-4.332"/></feComponentTransfer><feComposite in="SourceGraphic" in2="m" operator="in"/></filter></defs>
<path d="M752 601.5 L756 592 L768 584 L790 577 L815 572 L845 568 L872 566 L872 601.5Z" fill="#1c1cff" filter="url(#k10)"/>
<path d="M752 601.5 L758 590 L775 584 L800 580 L840 578 L872 578 L872 601.5Z" fill="#1c1cff" filter="url(#k15)"/>
<path d="M752 601.5 L756 594 L872 592 L872 601.5Z" fill="#1c1cff" filter="url(#k25)"/>
<path d="M752 601.5 L872 601.5 L872 626 L772 626 L758 619 L752 616Z" fill="#1c1cff" filter="url(#k90)"/>
<path d="M752 601 L872 601 L872 603 L752 603 Z" fill="#1c1cff"/>
<path d="M752 616 L772 626 L752 626Z" fill="#1c1cff" filter="url(#k40)"/>
<path d="M746.5 638 L760 632 L775 628 L872 627 L872 640.5 L760 640 Z" fill="#1c1cff" filter="url(#k95)"/>
<path d="M785 631 C815 628 845 628 872 628 L872 636.5 C845 636.5 815 636.5 785 636.5Z" fill="#2ad6f2" filter="url(#k70)"/>
<path d="M752 637.5 C790 636 830 635.5 870 635.5 L870 638.5 C830 638.5 790 638.8 752 639Z" fill="#52e84a" filter="url(#k90)"/>
<path d="M758 637.8 C775 637.2 790 637 805 637 L805 638.4 C790 638.4 775 638.6 758 638.8Z" fill="#f4f018" filter="url(#k70)"/>
<path d="M760 638 L785 637.5 L785 638.5 L760 638.8Z" fill="#d63b2f" filter="url(#k60)"/>
<path d="M752 640.5 L872 640.5 L872 644 L752 644Z" fill="#1c1cff" filter="url(#k15)"/>
<rect x="742.5" y="625.6" width="130.1" height="20.2" fill="none" stroke="#cc3b30" stroke-width="3"/>
<rect x="741.6" y="514.6" width="132.5" height="132.4" fill="none" stroke="#000" stroke-width="3"/>
<text transform="translate(735.5,650.5) rotate(-90)" font-size="29">FS-TOF</text>
<line x1="723.9" y1="538.5" x2="723.9" y2="532.7" stroke="#000" stroke-width="3.9"/><path d="M723.9 515.2 L715.6999999999999 538.7 L723.9 533.2 L732.1 538.7Z" fill="#000"/>
<text x="740" y="678.5" font-size="29.3">SS</text>
<line x1="789" y1="668.4" x2="853.3" y2="668.4" stroke="#000" stroke-width="3.3"/><path d="M870.8 668.4 L847.3 660.1999999999999 L852.8 668.4 L847.3 676.6Z" fill="#000"/>
<path d="M880.6 565 L889 565 L889 551.6 L898.7 581 L889 610.8 L889 597 L880.6 597Z" fill="#d63b2f"/>
<path d="M942 528h1.3v1.3h-1.3zM948 522h1.3v1.3h-1.3zM1041 611h1.3v1.3h-1.3zM942 605h1.3v1.3h-1.3zM1065 570h1.3v1.3h-1.3zM1017 628h1.3v1.3h-1.3zM948 551h1.3v1.3h-1.3zM1003 634h1.3v1.3h-1.3zM1006 635h1.3v1.3h-1.3zM1059 598h1.3v1.3h-1.3zM1046 628h1.3v1.3h-1.3zM1065 586h1.3v1.3h-1.3zM943 591h1.3v1.3h-1.3zM946 525h1.3v1.3h-1.3zM945 565h1.3v1.3h-1.3zM993 640h1.3v1.3h-1.3zM944 565h1.3v1.3h-1.3zM1044 642h1.3v1.3h-1.3zM942 616h1.3v1.3h-1.3zM942 643h1.3v1.3h-1.3zM941 593h1.3v1.3h-1.3zM941 556h1.3v1.3h-1.3zM945 544h1.3v1.3h-1.3zM1040 618h1.3v1.3h-1.3zM1046 628h1.3v1.3h-1.3zM942 589h1.3v1.3h-1.3zM948 535h1.3v1.3h-1.3zM1016 629h1.3v1.3h-1.3zM985 642h1.3v1.3h-1.3zM1065 587h1.3v1.3h-1.3zM948 536h1.3v1.3h-1.3zM944 582h1.3v1.3h-1.3zM948 563h1.3v1.3h-1.3zM944 544h1.3v1.3h-1.3zM950 522h1.3v1.3h-1.3zM950 531h1.3v1.3h-1.3zM1050 621h1.3v1.3h-1.3zM949 549h1.3v1.3h-1.3zM1066 563h1.3v1.3h-1.3zM948 558h1.3v1.3h-1.3zM946 559h1.3v1.3h-1.3zM945 568h1.3v1.3h-1.3zM942 570h1.3v1.3h-1.3zM943 559h1.3v1.3h-1.3zM948 563h1.3v1.3h-1.3zM944 576h1.3v1.3h-1.3zM1025 624h1.3v1.3h-1.3zM943 604h1.3v1.3h-1.3zM941 621h1.3v1.3h-1.3zM942 589h1.3v1.3h-1.3zM942 607h1.3v1.3h-1.3zM941 627h1.3v1.3h-1.3zM1046 609h1.3v1.3h-1.3z" fill="#1c1cff"/>
<path d="M1013.2 649.0L954.2 649.9L938.6 649.0L938.2 604.3L947.7 534.0L952.4 516.0L986.2 515.1L1062.2 515.2L1071.8 516.0L1071.2 583.5L1059.4 604.0L1044.9 623.0L1029.2 638.3L1020.2 645.1L1013.2 649.0Z" fill="#1c1cff" filter="url(#k20)"/>
<path d="M964.2 649.1L953.2 649.8L944.5 649.0L943.8 639.0L944.3 611.0L947.7 576.0L953.5 533.0L958.8 516.0L986.2 515.1L1071.2 516.0L1069.6 531.0L1063.6 549.0L1048.2 580.6L1036.2 598.9L1028.2 607.5L1019.2 614.7L1004.2 623.4L986.2 631.0L980.5 638.0L976.2 640.3L970.2 642.0L964.2 649.1Z" fill="#1c1cff" filter="url(#k45)"/>
<path d="M961.2 649.1L954.2 649.7L947.1 649.0L946.6 631.0L949.5 591.0L955.8 545.0L959.3 528.0L964.3 516.0L986.2 515.3L1057.3 516.0L1057.0 525.0L1054.8 534.0L1050.3 544.0L1043.2 555.3L1030.2 571.3L1015.2 586.8L1004.2 596.0L989.2 606.0L983.2 611.6L977.2 620.0L974.9 625.0L979.4 631.0L979.1 635.0L975.2 638.1L967.2 639.7L961.2 649.1Z" fill="#1c1cff" filter="url(#k70)"/>
<path d="M959.2 649.0L949.1 649.0L948.2 640.0L948.9 622.0L952.6 585.0L958.8 546.0L962.7 529.0L967.6 518.0L969.0 516.0L977.2 515.6L1039.8 516.0L1042.6 521.0L1043.1 527.0L1041.5 534.0L1037.7 542.0L1026.2 556.4L1001.2 576.9L991.2 588.3L982.2 602.7L971.9 624.0L972.0 627.0L976.5 630.0L977.7 632.0L977.6 634.0L974.2 637.0L966.2 638.0L959.2 649.0Z" fill="#1c1cff" filter="url(#k90)"/>
<path d="M956.2 649.1L951.6 649.0L950.4 646.0L949.7 637.0L950.5 623.0L955.9 578.0L961.7 547.0L965.4 532.0L969.3 523.0L974.6 516.0L1000.2 516.0L1005.9 523.0L1009.6 530.0L1011.2 536.0L1010.4 542.0L989.2 579.8L970.2 622.8L969.3 628.0L975.1 631.0L975.7 634.0L973.2 635.8L967.2 635.5L965.2 636.4L959.2 646.3L956.2 649.1Z" fill="#2ad6f2" filter="url(#k45)"/>
<path d="M956.2 647.1L953.2 647.2L951.3 643.0L951.5 625.0L956.7 583.0L965.6 541.0L970.2 528.1L976.2 519.6L981.6 516.0L991.2 516.0L996.5 520.0L1000.5 527.0L1001.9 535.0L1000.6 544.0L968.1 625.0L967.4 629.0L968.2 630.8L972.2 631.0L974.1 633.0L972.2 634.6L966.2 633.4L956.2 647.1Z" fill="#2ad6f2" filter="url(#k80)"/>
<path d="M956.2 644.5L954.2 644.4L952.5 641.0L952.4 627.0L956.9 592.0L963.8 558.0L969.2 539.0L973.7 529.0L980.2 522.2L984.2 520.8L987.2 520.9L992.2 524.0L995.3 530.0L996.1 537.0L994.7 546.0L964.8 632.0L959.2 641.6L956.2 644.5Z" fill="#52e84a" filter="url(#k55)"/>
<path d="M956.2 642.3L954.2 641.4L953.2 638.3L953.4 626.0L957.9 593.0L964.1 564.0L969.6 545.0L974.2 534.1L980.2 527.2L983.2 526.0L986.2 526.2L990.2 529.7L991.9 535.0L991.9 542.0L990.1 551.0L964.4 630.0L960.2 638.2L956.2 642.3Z" fill="#52e84a" filter="url(#k90)"/>
<path d="M957.2 635.1L955.7 632.0L956.0 624.0L963.3 584.0L971.2 559.9L975.2 552.8L978.2 550.8L979.8 553.0L980.1 559.0L976.2 581.4L963.2 626.0L960.2 632.6L957.2 635.1Z" fill="#b8f020" filter="url(#k55)"/>
<path d="M959.2 629.6L958.2 629.7L957.6 628.0L957.7 623.0L963.2 595.0L967.2 580.3L970.2 573.4L972.2 571.0L973.2 571.3L973.7 575.0L972.2 586.2L963.2 621.2L959.2 629.6Z" fill="#f4f018" filter="url(#k60)"/>
<rect x="938.2" y="516" width="132.5" height="132.4" fill="none" stroke="#000" stroke-width="3"/>
<path d="M947 515.8 L1061.5 515.2 L1060 521 L981.3 646.5 L946 645.6Z" fill="none" stroke="#cc3b30" stroke-width="3" stroke-linejoin="round"/>
<text transform="translate(929.5,652) rotate(-90)" font-size="29">SS</text>
<line x1="918.3" y1="584.4" x2="918.3" y2="532.6" stroke="#000" stroke-width="3.9"/><path d="M918.3 515.1 L910.0999999999999 538.6 L918.3 533.1 L926.5 538.6Z" fill="#000"/>
<text x="935.5" y="678.5" font-size="28.5">FS</text>
<line x1="988.4" y1="668.3" x2="1053.1" y2="668.3" stroke="#000" stroke-width="3.3"/><path d="M1070.6 668.3 L1047.1 660.0999999999999 L1052.6 668.3 L1047.1 676.5Z" fill="#000"/>
<path d="M1078.4 564 L1087.4 564 L1087.4 551.3 L1098 581.3 L1087.4 611.4 L1087.4 598.4 L1078.4 598.4Z" fill="#d63b2f"/>
<path d="M1143 588h1.3v1.3h-1.3zM1145 587h1.3v1.3h-1.3zM1169 573h1.3v1.3h-1.3zM1166 572h1.3v1.3h-1.3zM1159 584h1.3v1.3h-1.3zM1157 576h1.3v1.3h-1.3zM1145 575h1.3v1.3h-1.3zM1164 580h1.3v1.3h-1.3zM1153 579h1.3v1.3h-1.3zM1141 519h1.3v1.3h-1.3zM1146 586h1.3v1.3h-1.3zM1159 581h1.3v1.3h-1.3z" fill="#1c1cff"/>
<path d="M1245.0 649.0L1160.0 649.8L1137.0 649.8L1136.2 649.0L1136.2 608.0L1137.0 592.1L1151.9 584.0L1155.7 580.0L1145.0 574.9L1137.0 573.6L1136.1 551.0L1137.0 516.0L1270.3 516.0L1270.9 573.0L1270.0 639.4L1245.0 649.0Z" fill="#1c1cff" filter="url(#k20)"/>
<path d="M1206.0 649.0L1136.6 649.0L1136.3 617.0L1137.0 599.8L1174.5 576.0L1178.3 573.0L1179.3 571.0L1175.0 569.3L1165.0 568.9L1154.0 573.4L1151.0 572.7L1144.0 568.2L1137.0 567.2L1136.2 551.0L1137.0 521.8L1167.0 518.6L1202.0 517.1L1238.0 517.5L1270.0 519.7L1270.9 544.0L1270.0 587.0L1260.6 591.0L1257.7 594.0L1259.0 596.0L1270.0 603.9L1270.0 616.6L1262.9 624.0L1250.0 632.0L1233.0 639.5L1206.0 649.0Z" fill="#1c1cff" filter="url(#k45)"/>
<path d="M1168.0 649.0L1152.0 648.8L1137.0 645.0L1137.0 606.3L1155.0 591.8L1189.8 571.0L1194.4 567.0L1193.0 565.8L1188.0 565.0L1166.0 564.7L1163.0 565.3L1157.0 569.5L1154.0 570.2L1151.0 569.4L1144.0 564.0L1137.0 562.8L1136.4 551.0L1137.0 530.3L1147.0 527.0L1159.0 524.8L1195.0 521.9L1236.0 522.3L1270.0 525.8L1270.7 544.0L1270.0 581.9L1237.8 592.0L1219.2 601.0L1215.7 604.0L1215.2 606.0L1226.2 612.0L1229.4 616.0L1228.6 620.0L1225.1 624.0L1211.8 633.0L1194.2 642.0L1181.0 646.7L1168.0 649.0Z" fill="#1c1cff" filter="url(#k65)"/>
<path d="M1167.0 639.1L1158.0 639.6L1149.0 638.8L1142.0 636.8L1137.5 634.0L1137.0 612.7L1146.2 602.0L1161.0 590.3L1177.0 580.6L1204.6 567.0L1208.7 564.0L1207.6 563.0L1201.0 562.1L1166.0 561.8L1162.0 562.8L1156.0 567.4L1153.0 567.7L1144.0 560.7L1137.0 559.1L1137.0 541.8L1166.0 530.9L1177.0 528.6L1191.0 527.1L1211.0 526.3L1231.0 526.9L1250.0 528.7L1270.0 532.1L1270.0 556.0L1267.7 558.0L1270.0 560.3L1270.0 578.2L1226.5 592.0L1209.5 599.0L1198.0 605.0L1191.0 610.0L1185.9 616.0L1184.9 620.0L1186.3 627.0L1184.5 631.0L1177.6 636.0L1167.0 639.1Z" fill="#1c1cff" filter="url(#k85)"/>
<path d="M1156.0 565.5L1152.0 565.5L1145.0 558.4L1137.0 555.4L1137.0 546.8L1153.0 540.3L1181.0 534.2L1200.0 531.7L1235.0 531.7L1255.0 533.5L1270.0 536.0L1270.0 551.7L1263.0 553.7L1245.0 557.4L1228.0 559.6L1165.0 559.7L1162.0 560.6L1156.0 565.5ZM1156.0 632.2L1148.0 632.1L1141.7 629.0L1138.6 623.0L1139.4 616.0L1143.9 608.0L1151.3 600.0L1162.0 591.4L1173.0 584.4L1200.0 571.4L1223.0 564.6L1254.0 562.5L1263.0 563.6L1270.0 566.4L1270.0 574.3L1267.5 576.0L1257.0 580.3L1224.6 590.0L1203.8 599.0L1186.0 610.0L1168.0 627.2L1162.0 630.5L1156.0 632.2Z" fill="#2ad6f2" filter="url(#k45)"/>
<path d="M1155.0 564.3L1151.0 563.0L1141.5 551.0L1142.5 549.0L1146.5 546.0L1154.0 542.6L1190.0 536.5L1215.0 534.5L1247.0 535.3L1260.0 536.9L1270.0 539.2L1270.0 548.6L1256.0 552.8L1240.0 555.7L1221.0 557.6L1190.0 558.4L1164.0 557.9L1161.0 559.3L1155.0 564.3ZM1155.0 628.1L1148.0 627.4L1143.8 624.0L1142.4 618.0L1144.6 611.0L1149.6 604.0L1157.0 596.8L1167.0 589.4L1179.0 582.3L1201.0 572.6L1220.0 567.8L1253.0 565.4L1262.0 567.0L1266.0 570.0L1265.4 573.0L1259.5 577.0L1224.0 588.1L1204.1 597.0L1185.7 608.0L1166.0 623.8L1161.0 626.4L1155.0 628.1Z" fill="#2ad6f2" filter="url(#k80)"/>
<path d="M1156.0 562.0L1154.0 562.6L1152.0 561.9L1147.6 555.0L1146.9 551.0L1149.7 547.0L1154.0 545.0L1162.0 544.5L1182.0 540.3L1209.0 537.3L1237.0 537.1L1259.0 539.5L1265.0 541.5L1267.6 544.0L1266.5 546.0L1260.7 549.0L1242.0 553.4L1225.0 555.4L1204.0 556.6L1164.0 555.7L1161.0 556.9L1156.0 562.0ZM1157.0 624.1L1151.0 623.8L1147.0 620.5L1146.2 615.0L1148.4 609.0L1152.7 603.0L1160.0 596.0L1179.0 583.6L1198.0 575.2L1215.0 570.7L1247.0 568.1L1254.8 569.0L1258.3 571.0L1257.4 574.0L1252.3 577.0L1224.0 585.8L1208.1 593.0L1187.5 605.0L1166.0 620.4L1157.0 624.1Z" fill="#52e84a" filter="url(#k55)"/>
<path d="M1156.0 560.1L1153.0 560.6L1149.8 556.0L1149.5 551.0L1152.0 547.9L1155.0 547.0L1163.0 547.6L1174.0 544.2L1187.0 541.7L1210.0 539.2L1233.0 538.8L1252.0 540.7L1256.8 542.0L1259.6 544.0L1259.7 545.0L1257.6 547.0L1251.0 549.5L1225.0 553.9L1190.0 555.2L1163.0 552.8L1161.0 554.0L1156.0 560.1ZM1158.0 621.0L1153.0 620.6L1150.0 618.0L1149.3 613.0L1151.7 607.0L1156.4 601.0L1162.0 595.8L1179.0 584.7L1196.0 577.2L1211.0 573.2L1241.0 571.1L1247.0 571.7L1249.2 573.0L1248.0 575.0L1244.1 577.0L1226.0 582.7L1214.0 588.0L1190.0 602.0L1167.0 617.4L1158.0 621.0Z" fill="#52e84a" filter="url(#k90)"/>
<path d="M1215.0 551.0L1196.0 551.1L1187.1 549.0L1189.1 547.0L1193.0 545.8L1213.0 543.2L1231.0 543.3L1236.0 544.2L1238.6 546.0L1231.2 549.0L1215.0 551.0ZM1164.0 614.1L1160.0 614.7L1157.0 613.6L1155.6 611.0L1155.9 608.0L1161.0 600.0L1170.0 592.4L1182.0 585.5L1197.0 579.7L1208.0 578.0L1212.0 578.6L1213.6 580.0L1211.3 584.0L1200.9 592.0L1175.0 608.7L1164.0 614.1Z" fill="#b8f020" filter="url(#k60)"/>
<path d="M1165.0 611.0L1162.0 611.1L1160.0 610.1L1159.5 606.0L1163.2 600.0L1170.0 593.9L1179.0 588.3L1190.0 583.6L1199.0 581.4L1205.0 582.0L1205.5 584.0L1204.4 586.0L1195.1 594.0L1176.0 606.4L1165.0 611.0Z" fill="#f4f018" filter="url(#k60)"/>
<path d="M1169.0 608.2L1165.0 608.8L1163.0 608.2L1162.0 605.0L1164.9 600.0L1171.5 594.0L1180.0 588.9L1189.0 585.3L1197.0 583.7L1200.4 585.0L1198.6 589.0L1190.4 596.0L1178.0 604.0L1169.0 608.2Z" fill="#ff9a18" filter="url(#k70)"/>
<path d="M1170.0 606.2L1166.0 606.3L1164.7 604.0L1166.6 600.0L1171.8 595.0L1178.1 591.0L1186.0 587.6L1192.0 586.2L1195.7 587.0L1194.1 591.0L1187.1 597.0L1178.0 602.8L1170.0 606.2Z" fill="#d63b2f" filter="url(#k80)"/>
<path d="M1140.9 532.4 L1160.5 517.1 L1267.7 518.3 L1267.7 559.5 L1239.4 560.2 L1185.2 566.6 L1164 576 L1140.9 577.7Z" fill="none" stroke="#cc3b30" stroke-width="3" stroke-linejoin="round"/>
<rect x="1137" y="516" width="133.0" height="132.4" fill="none" stroke="#000" stroke-width="3"/>
<text transform="translate(1128,651.8) rotate(-90)" font-size="28.3">CD45</text>
<line x1="1116.9" y1="572.5" x2="1116.9" y2="532.5" stroke="#000" stroke-width="3.9"/><path d="M1116.9 515 L1108.7 538.5 L1116.9 533.0 L1125.1000000000001 538.5Z" fill="#000"/>
<text x="1133.5" y="678.5" font-size="29.3">SS</text>
<line x1="1194.6" y1="668.4" x2="1247.8" y2="668.4" stroke="#000" stroke-width="3.3"/><path d="M1265.3 668.4 L1241.8 660.1999999999999 L1247.3 668.4 L1241.8 676.6Z" fill="#000"/>
<path d="M1091.1 669.3 L1094.2 668 L1101 677.4 L1107.7 674.2 L1126.1 702.1 L1121.2 706.1 L1127 716.9 L1124.3 719.1 L1101.9 698.5Z" fill="#d63b2f"/>
<rect x="739.7" y="715" width="133.5" height="132.9" fill="none" stroke="#000" stroke-width="3"/>
<line x1="736" y1="721.4" x2="740" y2="721.4" stroke="#000" stroke-width="1.5"/>
<line x1="736" y1="746.5" x2="740" y2="746.5" stroke="#000" stroke-width="1.5"/>
<line x1="736" y1="771.8" x2="740" y2="771.8" stroke="#000" stroke-width="1.5"/>
<line x1="736" y1="796.9" x2="740" y2="796.9" stroke="#000" stroke-width="1.5"/>
<line x1="736" y1="822.2" x2="740" y2="822.2" stroke="#000" stroke-width="1.5"/>
<line x1="742.0" y1="848" x2="742.0" y2="851" stroke="#000" stroke-width="1.2"/>
<line x1="747.6" y1="848" x2="747.6" y2="851" stroke="#000" stroke-width="1.2"/>
<line x1="753.1" y1="848" x2="753.1" y2="851" stroke="#000" stroke-width="1.2"/>
<line x1="758.7" y1="848" x2="758.7" y2="851" stroke="#000" stroke-width="1.2"/>
<line x1="764.3" y1="848" x2="764.3" y2="851" stroke="#000" stroke-width="1.2"/>
<line x1="769.8" y1="848" x2="769.8" y2="851" stroke="#000" stroke-width="1.2"/>
<line x1="775.4" y1="848" x2="775.4" y2="851" stroke="#000" stroke-width="1.2"/>
<line x1="781.0" y1="848" x2="781.0" y2="851" stroke="#000" stroke-width="1.2"/>
<line x1="786.5" y1="848" x2="786.5" y2="851" stroke="#000" stroke-width="1.2"/>
<line x1="792.1" y1="848" x2="792.1" y2="851" stroke="#000" stroke-width="1.2"/>
<line x1="797.7" y1="848" x2="797.7" y2="851" stroke="#000" stroke-width="1.2"/>
<line x1="803.2" y1="848" x2="803.2" y2="851" stroke="#000" stroke-width="1.2"/>
<line x1="808.8" y1="848" x2="808.8" y2="851" stroke="#000" stroke-width="1.2"/>
<line x1="814.3" y1="848" x2="814.3" y2="851" stroke="#000" stroke-width="1.2"/>
<line x1="819.9" y1="848" x2="819.9" y2="851" stroke="#000" stroke-width="1.2"/>
<line x1="825.5" y1="848" x2="825.5" y2="851" stroke="#000" stroke-width="1.2"/>
<line x1="831.0" y1="848" x2="831.0" y2="851" stroke="#000" stroke-width="1.2"/>
<line x1="836.6" y1="848" x2="836.6" y2="851" stroke="#000" stroke-width="1.2"/>
<line x1="842.2" y1="848" x2="842.2" y2="851" stroke="#000" stroke-width="1.2"/>
<line x1="847.7" y1="848" x2="847.7" y2="851" stroke="#000" stroke-width="1.2"/>
<line x1="853.3" y1="848" x2="853.3" y2="851" stroke="#000" stroke-width="1.2"/>
<line x1="858.9" y1="848" x2="858.9" y2="851" stroke="#000" stroke-width="1.2"/>
<line x1="864.4" y1="848" x2="864.4" y2="851" stroke="#000" stroke-width="1.2"/>
<line x1="870.0" y1="848" x2="870.0" y2="851" stroke="#000" stroke-width="1.2"/>
<path d="M807.2 847.5 L807.6 847.4 L808.1 846.9 L808.5 846.3 L808.9 845.4 L809.4 844.3 L809.8 843.1 L810.2 841.7 L810.7 840.2 L811.1 838.5 L811.5 836.8 L812.0 835.1 L812.4 833.0 L812.8 830.3 L813.3 827.1 L813.7 823.4 L814.1 819.4 L814.6 815.1 L815.0 810.5 L815.4 805.9 L815.9 801.2 L816.3 796.4 L816.8 790.9 L817.2 784.9 L817.6 778.7 L818.1 772.5 L818.5 766.5 L818.9 760.9 L819.4 755.7 L819.8 750.5 L820.2 745.4 L820.7 740.6 L821.1 736.4 L821.5 732.8 L822.0 729.4 L822.4 726.1 L822.8 723.6 L823.3 722.5 L823.7 723.1 L824.1 724.7 L824.6 727.2 L825.0 730.0 L825.4 734.2 L825.9 740.3 L826.3 747.6 L826.7 755.4 L827.2 763.0 L827.6 771.2 L828.0 780.0 L828.5 789.1 L828.9 798.1 L829.3 808.1 L829.8 819.8 L830.2 830.4 L830.6 836.6 L831.1 837.3 L831.5 837.5 L831.9 837.7 L832.4 837.8 L832.8 837.9 L833.3 838.0 L833.7 838.0 L834.1 838.0 L834.6 837.8 L835.0 837.5 L835.4 837.1 L835.9 836.7 L836.3 836.3 L836.7 836.0 L837.2 836.1 L837.6 837.0 L838.0 838.5 L838.5 840.2 L838.9 841.7 L839.3 842.8 L839.8 843.9 L840.2 844.9 L840.6 845.8 L841.1 846.7 L841.5 847.5" fill="none" stroke="#d8392e" stroke-width="3"/>
<path d="M785.7 847.5 L786.4 847.4 L787.2 847.1 L787.9 846.7 L788.7 846.1 L789.4 845.3 L790.2 844.4 L790.9 843.3 L791.7 842.1 L792.4 840.8 L793.2 839.2 L793.9 837.6 L794.7 835.8 L795.4 833.6 L796.2 829.2 L796.9 823.0 L797.6 815.5 L798.4 807.3 L799.1 799.0 L799.9 791.1 L800.6 783.4 L801.4 775.0 L802.1 766.7 L802.9 759.1 L803.6 752.5 L804.4 746.5 L805.1 741.2 L805.9 735.9 L806.6 736.6 L807.4 740.4 L808.1 743.2 L808.9 747.5 L809.6 755.3 L810.3 764.8 L811.1 776.8 L811.8 784.1 L812.6 789.0 L813.3 792.9 L814.1 796.2 L814.8 799.3 L815.6 802.4 L816.3 805.5 L817.1 808.3 L817.8 810.8 L818.6 813.0 L819.3 814.7 L820.1 816.3 L820.8 817.7 L821.5 818.7 L822.3 819.0 L823.0 818.8 L823.8 818.4 L824.5 817.7 L825.3 816.9 L826.0 816.0 L826.8 814.4 L827.5 812.0 L828.3 808.9 L829.0 805.3 L829.8 801.3 L830.5 796.8 L831.3 791.0 L832.0 784.3 L832.8 777.3 L833.5 770.2 L834.2 762.6 L835.0 754.9 L835.7 747.6 L836.5 739.4 L837.2 735.4 L838.0 736.4 L838.7 738.9 L839.5 743.8 L840.2 755.0 L841.0 769.3 L841.7 788.8 L842.5 812.1 L843.2 828.6 L844.0 840.0 L844.7 847.5" fill="none" stroke="#000" stroke-width="3.4"/>
<line x1="780" y1="847.5" x2="790" y2="847.5" stroke="#000" stroke-width="3"/>
<text transform="translate(730.5,851) rotate(-90)" font-size="28">Counts</text>
<line x1="720.4" y1="750" x2="720.4" y2="733.0" stroke="#000" stroke-width="3.9"/><path d="M720.4 715.5 L712.1999999999999 739.0 L720.4 733.5 L728.6 739.0Z" fill="#000"/>
<text x="737.5" y="879" font-size="29">Ly6c</text>
<line x1="804" y1="868.3" x2="855.1" y2="868.3" stroke="#000" stroke-width="3.3"/><path d="M872.6 868.3 L849.1 860.0999999999999 L854.6 868.3 L849.1 876.5Z" fill="#000"/>
<path d="M899 764.3 L890.8 764.3 L890.8 750.4 L880 780.4 L890.8 810.4 L890.8 797.5 L899 797.5Z" fill="#d63b2f"/>
<path d="M978 837h1.3v1.3h-1.3zM951 792h1.3v1.3h-1.3zM1010 823h1.3v1.3h-1.3zM950 786h1.3v1.3h-1.3zM983 754h1.3v1.3h-1.3zM1038 816h1.3v1.3h-1.3zM1008 839h1.3v1.3h-1.3zM968 784h1.3v1.3h-1.3zM1009 767h1.3v1.3h-1.3zM1062 809h1.3v1.3h-1.3zM953 785h1.3v1.3h-1.3zM1042 732h1.3v1.3h-1.3zM1065 768h1.3v1.3h-1.3zM1009 762h1.3v1.3h-1.3zM1063 822h1.3v1.3h-1.3zM1064 792h1.3v1.3h-1.3zM973 779h1.3v1.3h-1.3zM1032 817h1.3v1.3h-1.3zM968 831h1.3v1.3h-1.3zM1000 780h1.3v1.3h-1.3zM1054 769h1.3v1.3h-1.3zM975 781h1.3v1.3h-1.3zM955 826h1.3v1.3h-1.3zM1014 820h1.3v1.3h-1.3zM1064 756h1.3v1.3h-1.3zM988 779h1.3v1.3h-1.3zM971 774h1.3v1.3h-1.3zM984 771h1.3v1.3h-1.3zM1061 786h1.3v1.3h-1.3zM975 763h1.3v1.3h-1.3zM1060 783h1.3v1.3h-1.3zM1066 805h1.3v1.3h-1.3zM1000 781h1.3v1.3h-1.3zM997 844h1.3v1.3h-1.3zM1061 759h1.3v1.3h-1.3zM1017 813h1.3v1.3h-1.3zM1067 796h1.3v1.3h-1.3zM952 792h1.3v1.3h-1.3zM953 828h1.3v1.3h-1.3zM1010 821h1.3v1.3h-1.3zM966 782h1.3v1.3h-1.3zM978 781h1.3v1.3h-1.3zM1035 819h1.3v1.3h-1.3zM944 807h1.3v1.3h-1.3zM943 841h1.3v1.3h-1.3zM1066 769h1.3v1.3h-1.3zM949 792h1.3v1.3h-1.3zM1025 751h1.3v1.3h-1.3zM1031 721h1.3v1.3h-1.3zM1033 818h1.3v1.3h-1.3zM1029 810h1.3v1.3h-1.3zM1013 741h1.3v1.3h-1.3zM1042 817h1.3v1.3h-1.3zM1061 783h1.3v1.3h-1.3zM1034 813h1.3v1.3h-1.3zM1026 757h1.3v1.3h-1.3zM1009 839h1.3v1.3h-1.3zM976 836h1.3v1.3h-1.3zM1064 804h1.3v1.3h-1.3zM999 779h1.3v1.3h-1.3zM980 772h1.3v1.3h-1.3zM1058 777h1.3v1.3h-1.3zM1059 728h1.3v1.3h-1.3zM1016 818h1.3v1.3h-1.3zM1051 724h1.3v1.3h-1.3zM1031 820h1.3v1.3h-1.3zM968 781h1.3v1.3h-1.3zM1031 753h1.3v1.3h-1.3zM995 779h1.3v1.3h-1.3zM957 778h1.3v1.3h-1.3zM1055 735h1.3v1.3h-1.3zM962 837h1.3v1.3h-1.3zM1014 762h1.3v1.3h-1.3zM982 775h1.3v1.3h-1.3zM1029 759h1.3v1.3h-1.3zM1046 729h1.3v1.3h-1.3zM1059 782h1.3v1.3h-1.3zM958 784h1.3v1.3h-1.3zM958 822h1.3v1.3h-1.3zM1015 767h1.3v1.3h-1.3zM1063 753h1.3v1.3h-1.3zM1014 823h1.3v1.3h-1.3zM1009 775h1.3v1.3h-1.3zM945 818h1.3v1.3h-1.3zM1066 804h1.3v1.3h-1.3zM1035 738h1.3v1.3h-1.3zM1038 819h1.3v1.3h-1.3zM1016 820h1.3v1.3h-1.3zM973 781h1.3v1.3h-1.3zM946 751h1.3v1.3h-1.3zM987 772h1.3v1.3h-1.3zM1030 813h1.3v1.3h-1.3zM1031 749h1.3v1.3h-1.3zM1006 780h1.3v1.3h-1.3zM1003 767h1.3v1.3h-1.3zM1063 805h1.3v1.3h-1.3zM954 787h1.3v1.3h-1.3zM1068 780h1.3v1.3h-1.3zM964 786h1.3v1.3h-1.3zM1044 730h1.3v1.3h-1.3zM1037 735h1.3v1.3h-1.3zM1014 823h1.3v1.3h-1.3zM1030 814h1.3v1.3h-1.3zM1067 747h1.3v1.3h-1.3zM954 786h1.3v1.3h-1.3zM986 841h1.3v1.3h-1.3zM1021 825h1.3v1.3h-1.3zM998 772h1.3v1.3h-1.3zM1035 819h1.3v1.3h-1.3zM970 782h1.3v1.3h-1.3z" fill="#1c1cff"/>
<path d="M995.5 847.1L984.5 846.8L975.5 843.5L969.5 839.1L958.7 828.0L940.5 816.9L937.5 813.9L937.5 796.2L946.5 789.3L964.5 782.5L977.5 779.5L998.5 778.2L1004.5 776.4L1027.5 757.9L1029.1 755.0L1032.2 741.0L1037.1 734.0L1044.5 730.3L1049.5 730.3L1053.5 731.5L1057.5 734.3L1060.8 738.0L1063.3 743.0L1064.8 749.0L1063.9 760.0L1058.1 776.0L1058.6 779.0L1063.2 788.0L1065.0 794.0L1065.0 801.0L1063.1 807.0L1060.5 811.0L1056.5 814.5L1052.5 816.4L1047.5 817.3L1040.5 816.3L1028.5 809.3L1025.5 809.3L1021.5 813.0L1018.2 818.0L1015.6 832.0L1012.5 838.0L1005.5 843.9L995.5 847.1Z" fill="#1c1cff" filter="url(#k15)"/>
<path d="M991.5 836.0L986.5 835.7L981.5 833.5L969.8 822.0L954.6 812.0L950.9 806.0L950.9 803.0L952.5 799.0L956.4 794.0L961.0 790.0L972.5 784.5L984.5 782.2L1007.5 783.0L1013.5 781.6L1023.5 773.0L1034.5 765.7L1035.1 763.0L1033.3 754.0L1033.2 748.0L1034.8 742.0L1037.3 738.0L1040.5 735.2L1044.5 733.5L1049.5 733.5L1053.5 735.1L1056.9 738.0L1059.9 743.0L1061.1 748.0L1060.9 753.0L1057.1 762.0L1047.8 770.0L1046.3 773.0L1047.7 776.0L1057.5 785.0L1060.9 791.0L1062.1 799.0L1060.0 806.0L1057.5 809.4L1053.5 812.4L1048.5 813.9L1043.5 813.7L1035.9 810.0L1027.5 799.9L1024.5 798.7L1007.4 819.0L1000.5 831.5L996.5 834.6L991.5 836.0Z" fill="#1c1cff" filter="url(#k30)"/>
<path d="M1049.5 763.1L1044.5 763.3L1040.5 761.3L1037.3 757.0L1035.8 752.0L1036.0 746.0L1038.1 741.0L1041.5 737.6L1045.5 736.1L1049.5 736.3L1053.5 738.3L1056.6 742.0L1058.3 747.0L1058.3 752.0L1056.6 757.0L1053.5 760.8L1049.5 763.1ZM1047.5 811.1L1042.5 810.5L1037.5 807.7L1033.6 803.0L1031.7 798.0L1031.4 792.0L1033.0 787.0L1036.5 783.3L1040.5 781.6L1046.5 781.6L1052.5 784.4L1056.9 789.0L1059.0 794.0L1059.2 800.0L1056.7 806.0L1052.5 809.7L1047.5 811.1ZM992.5 825.3L987.5 825.8L983.5 824.3L964.2 808.0L961.9 803.0L961.9 798.0L963.7 794.0L967.5 790.3L978.5 785.8L991.5 784.7L1006.5 787.4L1011.5 789.7L1014.2 792.0L1015.6 795.0L1015.6 798.0L1012.8 805.0L997.5 821.9L992.5 825.3Z" fill="#1c1cff" filter="url(#k40)"/>
<path d="M1049.5 760.2L1045.5 760.6L1042.5 759.4L1039.5 756.3L1037.8 752.0L1037.8 747.0L1039.2 743.0L1041.8 740.0L1045.5 738.3L1049.5 738.5L1052.5 740.2L1054.9 743.0L1056.3 747.0L1056.4 751.0L1055.2 755.0L1052.5 758.5L1049.5 760.2ZM1050.5 808.1L1046.5 808.9L1041.5 807.7L1037.8 805.0L1035.2 801.0L1034.1 796.0L1034.6 792.0L1036.7 788.0L1040.5 785.2L1044.5 784.3L1049.5 785.4L1053.5 788.2L1056.1 792.0L1057.2 796.0L1056.8 801.0L1054.5 805.2L1050.5 808.1ZM992.5 820.2L988.5 820.9L983.5 819.3L969.5 807.0L967.1 803.0L966.2 799.0L967.2 795.0L969.8 792.0L978.5 787.8L990.5 786.6L1002.5 788.6L1009.7 793.0L1011.4 798.0L1009.2 804.0L999.5 814.9L992.5 820.2Z" fill="#1c1cff" filter="url(#k55)"/>
<path d="M1048.5 759.1L1045.5 759.1L1042.5 757.7L1040.1 755.0L1038.8 751.0L1038.9 747.0L1040.5 743.1L1043.5 740.3L1046.5 739.4L1049.5 739.8L1052.5 741.8L1055.4 748.0L1053.9 755.0L1051.5 757.7L1048.5 759.1ZM1049.5 807.1L1045.5 807.6L1041.5 806.3L1038.5 803.9L1036.2 800.0L1035.5 796.0L1036.2 792.0L1038.5 788.4L1041.5 786.5L1045.5 785.8L1049.5 786.9L1052.5 789.0L1055.2 793.0L1056.1 798.0L1055.1 802.0L1052.9 805.0L1049.5 807.1ZM991.5 818.2L987.5 818.5L983.5 817.0L971.4 806.0L969.0 802.0L968.4 798.0L969.3 795.0L972.1 792.0L980.5 788.4L991.5 787.6L1001.5 789.5L1008.2 794.0L1009.2 799.0L1007.0 804.0L998.5 813.5L991.5 818.2Z" fill="#2ad6f2" filter="url(#k40)"/>
<path d="M1049.5 757.2L1046.5 757.8L1043.5 756.7L1040.2 752.0L1039.9 748.0L1040.7 745.0L1042.5 742.6L1045.5 740.9L1050.5 741.7L1052.7 744.0L1054.0 747.0L1053.5 753.0L1049.5 757.2ZM1047.5 806.2L1043.5 805.8L1040.5 804.1L1037.0 798.0L1037.1 794.0L1038.4 791.0L1040.5 788.8L1043.5 787.5L1047.5 787.6L1050.5 789.0L1053.3 792.0L1054.5 795.0L1054.7 799.0L1053.5 802.2L1050.8 805.0L1047.5 806.2ZM990.5 816.3L986.5 816.1L982.5 814.1L972.4 804.0L970.6 800.0L970.6 797.0L972.1 794.0L974.5 792.0L982.5 789.1L992.5 788.7L1001.5 790.9L1006.6 795.0L1007.2 799.0L1004.1 805.0L996.5 813.0L990.5 816.3Z" fill="#2ad6f2" filter="url(#k70)"/>
<path d="M1048.5 756.2L1045.5 756.2L1043.5 755.2L1040.9 750.0L1042.5 744.3L1046.5 742.0L1050.5 743.2L1053.1 748.0L1052.2 753.0L1048.5 756.2ZM1046.5 805.0L1041.1 803.0L1038.9 800.0L1038.1 797.0L1039.5 791.7L1041.5 789.8L1044.5 788.7L1047.5 788.9L1050.5 790.6L1053.5 796.0L1053.5 799.0L1052.2 802.0L1049.5 804.3L1046.5 805.0ZM991.5 814.1L988.5 814.5L984.5 813.4L975.2 805.0L972.7 801.0L972.2 798.0L973.2 795.0L975.2 793.0L981.5 790.3L990.5 789.4L999.5 791.2L1004.5 794.7L1005.6 798.0L1003.7 803.0L997.5 810.1L991.5 814.1Z" fill="#52e84a" filter="url(#k55)"/>
<path d="M1048.5 754.4L1044.5 753.9L1042.3 750.0L1043.1 746.0L1046.5 743.6L1049.5 744.4L1051.6 748.0L1051.1 752.0L1048.5 754.4ZM990.5 812.2L987.5 812.3L983.5 810.6L976.7 804.0L974.2 798.0L976.5 793.9L982.5 791.2L990.5 790.5L998.1 792.0L1002.5 795.0L1003.4 799.0L1001.6 803.0L995.5 809.6L990.5 812.2ZM1047.5 803.3L1042.5 802.1L1039.9 798.0L1040.7 793.0L1044.5 790.4L1049.5 791.8L1052.0 796.0L1050.9 801.0L1047.5 803.3Z" fill="#52e84a" filter="url(#k90)"/>
<path d="M991.5 808.3L986.5 808.4L980.5 804.0L977.9 799.0L979.6 795.0L983.6 793.0L989.5 792.3L994.5 793.1L998.5 795.2L999.9 798.0L999.2 801.0L995.5 805.8L991.5 808.3ZM1046.5 799.3L1044.5 798.7L1043.6 797.0L1045.5 794.5L1047.5 795.2L1048.2 797.0L1046.5 799.3Z" fill="#b8f020" filter="url(#k50)"/>
<path d="M991.5 806.4L987.5 806.8L982.7 804.0L980.2 800.0L981.1 796.0L984.5 794.1L988.5 793.4L993.5 794.1L996.8 796.0L997.8 798.0L997.3 801.0L994.5 804.5L991.5 806.4Z" fill="#f4f018" filter="url(#k55)"/>
<path d="M990.5 805.0L986.5 804.7L983.1 802.0L982.0 799.0L983.7 796.0L990.5 794.7L995.2 797.0L995.3 801.0L993.5 803.4L990.5 805.0Z" fill="#ff9a18" filter="url(#k60)"/>
<path d="M991.5 803.2L988.5 803.8L985.5 802.6L983.8 800.0L984.5 797.3L988.5 795.7L993.1 797.0L994.1 800.0L991.5 803.2Z" fill="#f3321a" filter="url(#k85)"/>
<rect x="1032.9" y="733.2" width="32.1" height="33.3" fill="none" stroke="#cc3b30" stroke-width="3"/>
<rect x="1030.1" y="781.9" width="33.9" height="31.1" fill="none" stroke="#000" stroke-width="3"/>
<rect x="937.5" y="715" width="134.0" height="132.9" fill="none" stroke="#000" stroke-width="3"/>
<text x="1075.8" y="758.3" font-size="25.5">Neutrophils</text>
<text x="1075.8" y="806.1" font-size="25.5">Other myeloid cells</text>
<text transform="translate(929.5,851.8) rotate(-90)" font-size="29">Ly6G</text>
<line x1="918.9" y1="771.8" x2="918.9" y2="733.0" stroke="#000" stroke-width="3.9"/><path d="M918.9 715.5 L910.6999999999999 739.0 L918.9 733.5 L927.1 739.0Z" fill="#000"/>
<text x="935" y="879" font-size="29.5">CD11b</text>
<line x1="1037.2" y1="868.3" x2="1054.0" y2="868.3" stroke="#000" stroke-width="3.3"/><path d="M1071.5 868.3 L1048.0 860.0999999999999 L1053.5 868.3 L1048.0 876.5Z" fill="#000"/>
<text x="1339.5" y="497.7" class="lab">g</text>
<text x="1456" y="545.8" font-size="29" text-anchor="middle">Isotype</text>
<text x="1598.6" y="545.8" font-size="29.3" text-anchor="middle">αLy6G</text>
<path d="M1488 571h1.3v1.3h-1.3zM1458 694h1.3v1.3h-1.3zM1466 686h1.3v1.3h-1.3zM1518 642h1.3v1.3h-1.3zM1418 676h1.3v1.3h-1.3zM1517 579h1.3v1.3h-1.3zM1498 675h1.3v1.3h-1.3zM1480 669h1.3v1.3h-1.3zM1448 628h1.3v1.3h-1.3zM1507 614h1.3v1.3h-1.3zM1513 636h1.3v1.3h-1.3zM1504 672h1.3v1.3h-1.3zM1498 567h1.3v1.3h-1.3zM1506 627h1.3v1.3h-1.3zM1483 676h1.3v1.3h-1.3zM1485 671h1.3v1.3h-1.3zM1513 658h1.3v1.3h-1.3zM1417 681h1.3v1.3h-1.3zM1404 675h1.3v1.3h-1.3zM1426 624h1.3v1.3h-1.3zM1475 658h1.3v1.3h-1.3zM1500 669h1.3v1.3h-1.3zM1435 630h1.3v1.3h-1.3zM1400 671h1.3v1.3h-1.3zM1434 690h1.3v1.3h-1.3zM1503 570h1.3v1.3h-1.3zM1400 667h1.3v1.3h-1.3zM1472 589h1.3v1.3h-1.3zM1518 651h1.3v1.3h-1.3zM1465 682h1.3v1.3h-1.3zM1440 624h1.3v1.3h-1.3zM1408 638h1.3v1.3h-1.3zM1439 689h1.3v1.3h-1.3zM1407 626h1.3v1.3h-1.3zM1458 624h1.3v1.3h-1.3zM1469 666h1.3v1.3h-1.3zM1435 624h1.3v1.3h-1.3zM1474 670h1.3v1.3h-1.3zM1475 589h1.3v1.3h-1.3zM1427 629h1.3v1.3h-1.3zM1482 609h1.3v1.3h-1.3zM1484 605h1.3v1.3h-1.3zM1414 630h1.3v1.3h-1.3zM1502 678h1.3v1.3h-1.3zM1418 673h1.3v1.3h-1.3zM1413 630h1.3v1.3h-1.3zM1500 668h1.3v1.3h-1.3zM1492 567h1.3v1.3h-1.3zM1516 653h1.3v1.3h-1.3zM1454 605h1.3v1.3h-1.3zM1516 630h1.3v1.3h-1.3zM1500 574h1.3v1.3h-1.3zM1401 663h1.3v1.3h-1.3zM1472 670h1.3v1.3h-1.3zM1438 619h1.3v1.3h-1.3zM1514 611h1.3v1.3h-1.3zM1455 625h1.3v1.3h-1.3zM1475 671h1.3v1.3h-1.3zM1478 604h1.3v1.3h-1.3zM1480 595h1.3v1.3h-1.3zM1510 632h1.3v1.3h-1.3zM1462 620h1.3v1.3h-1.3zM1507 572h1.3v1.3h-1.3zM1482 575h1.3v1.3h-1.3zM1417 629h1.3v1.3h-1.3zM1492 667h1.3v1.3h-1.3zM1457 689h1.3v1.3h-1.3zM1398 617h1.3v1.3h-1.3zM1468 680h1.3v1.3h-1.3zM1489 667h1.3v1.3h-1.3zM1399 660h1.3v1.3h-1.3zM1487 676h1.3v1.3h-1.3zM1515 626h1.3v1.3h-1.3zM1484 663h1.3v1.3h-1.3zM1408 673h1.3v1.3h-1.3zM1514 584h1.3v1.3h-1.3zM1509 631h1.3v1.3h-1.3zM1470 673h1.3v1.3h-1.3zM1493 674h1.3v1.3h-1.3zM1514 570h1.3v1.3h-1.3zM1414 633h1.3v1.3h-1.3zM1477 589h1.3v1.3h-1.3zM1410 627h1.3v1.3h-1.3zM1450 612h1.3v1.3h-1.3zM1488 573h1.3v1.3h-1.3zM1481 661h1.3v1.3h-1.3zM1469 672h1.3v1.3h-1.3zM1436 630h1.3v1.3h-1.3zM1484 573h1.3v1.3h-1.3zM1515 612h1.3v1.3h-1.3zM1508 677h1.3v1.3h-1.3zM1427 629h1.3v1.3h-1.3zM1479 665h1.3v1.3h-1.3zM1469 674h1.3v1.3h-1.3zM1471 669h1.3v1.3h-1.3zM1418 678h1.3v1.3h-1.3zM1433 620h1.3v1.3h-1.3zM1508 624h1.3v1.3h-1.3zM1458 627h1.3v1.3h-1.3zM1481 604h1.3v1.3h-1.3zM1476 667h1.3v1.3h-1.3zM1433 630h1.3v1.3h-1.3zM1431 612h1.3v1.3h-1.3zM1451 629h1.3v1.3h-1.3zM1457 603h1.3v1.3h-1.3zM1433 628h1.3v1.3h-1.3zM1514 693h1.3v1.3h-1.3zM1444 616h1.3v1.3h-1.3zM1518 568h1.3v1.3h-1.3z" fill="#1c1cff"/>
<path d="M1450.4 696.1L1439.4 695.8L1430.4 692.5L1424.6 688.1L1413.8 677.1L1396.4 666.6L1391.9 662.1L1389.8 658.1L1389.1 653.1L1390.1 649.1L1392.6 645.1L1396.9 641.1L1410.4 634.5L1426.4 629.6L1451.4 626.5L1457.4 624.1L1482.0 603.1L1483.9 587.1L1485.9 582.1L1488.7 578.1L1492.4 575.2L1496.4 573.5L1501.4 573.2L1505.4 574.3L1509.4 576.7L1513.3 581.1L1515.8 586.1L1517.2 592.1L1517.3 600.1L1516.0 608.1L1509.3 626.1L1509.7 629.1L1515.0 643.1L1515.1 649.1L1513.5 655.1L1511.2 659.1L1507.4 662.8L1499.4 666.1L1491.4 665.6L1480.4 660.2L1477.4 660.1L1474.4 663.1L1472.2 667.1L1470.7 680.1L1467.4 687.1L1460.4 692.9L1450.4 696.1Z" fill="#1c1cff" filter="url(#k15)"/>
<path d="M1449.4 684.4L1443.4 684.9L1437.4 682.9L1424.9 671.1L1410.9 662.1L1406.2 656.1L1405.8 653.1L1406.9 649.1L1414.5 640.1L1426.4 633.8L1439.4 631.2L1461.4 631.0L1466.7 629.1L1477.4 619.0L1490.3 611.1L1490.6 609.1L1486.9 599.1L1486.0 593.1L1486.8 587.1L1489.4 581.8L1492.4 578.8L1496.4 576.7L1501.4 576.4L1505.4 577.7L1509.4 580.9L1512.1 585.1L1513.6 591.1L1513.5 596.1L1512.1 601.1L1509.4 605.6L1499.6 614.1L1498.3 622.1L1499.4 625.1L1507.4 633.7L1511.0 640.1L1512.1 648.1L1510.0 655.1L1507.4 658.5L1503.4 661.4L1499.4 662.8L1494.4 662.9L1486.4 659.5L1478.4 651.4L1476.4 650.7L1461.9 668.1L1455.4 680.4L1449.4 684.4Z" fill="#1c1cff" filter="url(#k30)"/>
<path d="M1501.4 606.1L1497.4 606.1L1493.4 604.0L1489.9 599.1L1488.5 594.1L1488.8 589.1L1490.8 584.1L1494.4 580.5L1499.4 579.0L1503.4 579.7L1507.4 582.5L1509.8 586.1L1511.1 591.1L1510.7 596.1L1508.5 601.1L1505.4 604.3L1501.4 606.1ZM1497.4 660.1L1492.4 659.5L1487.4 656.6L1483.6 652.1L1481.6 647.1L1481.3 641.1L1483.0 636.1L1486.4 632.2L1490.4 630.4L1496.4 630.4L1501.4 632.5L1506.3 637.1L1509.1 643.1L1509.2 649.1L1506.6 655.1L1502.4 658.7L1497.4 660.1ZM1447.4 674.2L1443.4 674.8L1438.4 673.2L1419.3 657.1L1416.9 652.1L1416.9 647.1L1418.6 643.1L1422.4 639.4L1433.4 634.8L1446.4 633.6L1460.4 635.7L1465.9 638.1L1469.0 641.1L1470.1 647.1L1467.2 654.1L1453.4 669.8L1447.4 674.2Z" fill="#1c1cff" filter="url(#k40)"/>
<path d="M1501.4 603.3L1497.4 603.2L1494.4 601.5L1491.7 598.1L1490.5 594.1L1490.5 590.1L1491.9 586.1L1494.4 583.1L1498.4 581.3L1502.4 581.6L1505.4 583.4L1507.6 586.1L1509.0 590.1L1509.0 594.1L1507.8 598.1L1505.4 601.2L1501.4 603.3ZM1500.4 657.1L1496.4 657.9L1491.4 656.7L1487.9 654.1L1485.3 650.1L1484.1 645.1L1484.6 641.1L1486.6 637.1L1490.4 634.2L1494.4 633.3L1499.4 634.3L1503.4 637.1L1506.1 641.1L1507.2 645.1L1506.8 650.1L1504.4 654.3L1500.4 657.1ZM1447.4 669.1L1443.4 669.9L1438.4 668.2L1424.5 656.1L1421.7 651.1L1421.3 647.1L1422.8 643.1L1425.4 640.5L1434.4 636.6L1446.4 635.5L1458.4 637.8L1464.8 642.1L1466.2 647.1L1463.8 653.1L1454.4 663.8L1447.4 669.1Z" fill="#1c1cff" filter="url(#k55)"/>
<path d="M1502.4 601.6L1499.4 602.1L1496.1 601.1L1493.4 598.6L1491.8 595.1L1491.5 591.1L1492.6 587.1L1495.1 584.1L1498.4 582.5L1501.4 582.6L1504.4 584.1L1506.8 587.1L1507.9 590.1L1507.0 597.1L1502.4 601.6ZM1499.4 656.1L1495.4 656.6L1491.4 655.3L1488.4 652.8L1486.2 649.1L1485.5 645.1L1486.1 641.1L1488.4 637.5L1491.4 635.5L1495.4 634.8L1499.4 635.8L1502.6 638.1L1505.3 642.1L1506.1 647.1L1505.0 651.1L1502.8 654.1L1499.4 656.1ZM1446.4 667.2L1442.4 667.5L1438.4 665.9L1426.5 655.1L1424.1 651.1L1423.4 647.1L1424.3 644.1L1427.0 641.1L1435.4 637.5L1446.4 636.5L1457.4 638.8L1463.2 643.1L1464.1 648.1L1461.7 653.1L1453.4 662.5L1446.4 667.2Z" fill="#2ad6f2" filter="url(#k40)"/>
<path d="M1501.4 600.4L1496.4 599.7L1493.9 597.1L1492.7 594.1L1492.8 590.1L1494.0 587.1L1498.4 583.9L1503.4 584.9L1506.7 590.1L1506.1 596.1L1504.4 598.6L1501.4 600.4ZM1497.4 655.2L1493.4 654.8L1490.6 653.1L1487.0 647.1L1487.1 643.1L1488.3 640.1L1490.4 637.8L1493.4 636.5L1497.4 636.5L1500.4 637.9L1503.3 641.1L1504.6 644.1L1504.7 648.1L1503.4 651.3L1500.6 654.1L1497.4 655.2ZM1445.4 665.2L1441.4 665.0L1437.4 663.0L1427.5 653.1L1425.6 649.1L1425.5 646.1L1427.1 643.1L1429.4 641.1L1436.4 638.3L1446.4 637.6L1455.4 639.3L1461.0 643.1L1462.1 648.1L1459.6 653.1L1451.4 662.0L1445.4 665.2Z" fill="#2ad6f2" filter="url(#k70)"/>
<path d="M1500.4 599.3L1496.3 598.1L1493.7 593.1L1493.9 590.1L1495.4 587.1L1499.4 585.0L1503.4 586.4L1505.8 591.1L1504.4 596.7L1500.4 599.3ZM1499.4 653.3L1496.4 654.0L1493.4 653.4L1488.9 649.1L1488.4 643.1L1490.0 640.1L1492.4 638.2L1495.4 637.6L1498.4 638.2L1502.6 642.1L1503.4 648.2L1502.1 651.1L1499.4 653.3ZM1445.4 663.4L1442.4 663.4L1438.4 661.7L1429.5 653.1L1427.2 647.1L1428.1 644.1L1430.4 641.9L1437.4 639.0L1446.4 638.4L1455.4 640.5L1459.8 644.1L1460.4 648.1L1457.8 653.1L1451.4 660.0L1445.4 663.4Z" fill="#52e84a" filter="url(#k55)"/>
<path d="M1501.4 597.2L1497.8 597.1L1495.4 594.1L1495.4 590.1L1498.4 586.9L1501.5 587.1L1504.0 590.1L1504.0 594.1L1501.4 597.2ZM1445.4 661.2L1442.4 661.2L1438.4 659.5L1431.0 652.1L1429.5 649.1L1429.4 646.1L1432.4 642.3L1438.4 640.0L1446.4 639.5L1453.4 641.1L1457.6 644.1L1458.4 648.1L1456.4 652.1L1450.4 658.6L1445.4 661.2ZM1497.4 652.3L1492.5 651.1L1489.9 647.1L1490.6 642.1L1494.4 639.4L1499.4 640.7L1502.0 645.1L1500.8 650.1L1497.4 652.3Z" fill="#52e84a" filter="url(#k90)"/>
<path d="M1446.4 657.3L1441.4 657.3L1435.6 653.1L1432.9 648.1L1434.5 644.1L1438.4 642.1L1444.4 641.3L1449.7 642.1L1453.5 644.1L1454.9 647.1L1454.2 650.1L1450.4 654.8L1446.4 657.3ZM1496.4 648.3L1494.4 647.6L1493.6 646.1L1494.3 644.1L1495.4 643.5L1498.0 645.1L1498.0 647.1L1496.4 648.3Z" fill="#b8f020" filter="url(#k50)"/>
<path d="M1446.4 655.4L1442.4 655.7L1437.8 653.1L1435.2 649.1L1436.0 645.1L1439.4 643.1L1444.4 642.4L1448.6 643.1L1451.9 645.1L1452.9 647.1L1452.2 650.1L1449.4 653.6L1446.4 655.4Z" fill="#f4f018" filter="url(#k55)"/>
<path d="M1444.4 654.2L1441.4 653.7L1438.2 651.1L1437.0 648.1L1438.6 645.1L1441.4 643.9L1445.4 643.7L1450.3 646.1L1450.9 648.1L1449.7 651.1L1447.4 653.2L1444.4 654.2Z" fill="#ff9a18" filter="url(#k60)"/>
<path d="M1446.4 652.2L1443.4 652.8L1440.4 651.5L1438.8 649.1L1439.4 646.4L1443.4 644.7L1448.3 646.1L1449.1 649.1L1446.4 652.2Z" fill="#f3321a" filter="url(#k85)"/>
<rect x="1482.1" y="579.8" width="31.5" height="32.7" fill="none" stroke="#cc3b30" stroke-width="3"/>
<rect x="1388.4" y="563.1" width="133.6" height="133.9" fill="none" stroke="#000" stroke-width="3"/>
<text x="1397.3" y="600" font-size="25" fill="#c8413a">10.6%</text>
<path d="M1664 668h1.3v1.3h-1.3zM1625 655h1.3v1.3h-1.3zM1539 680h1.3v1.3h-1.3zM1632 670h1.3v1.3h-1.3zM1656 665h1.3v1.3h-1.3zM1622 662h1.3v1.3h-1.3zM1551 633h1.3v1.3h-1.3zM1618 662h1.3v1.3h-1.3zM1613 615h1.3v1.3h-1.3zM1651 588h1.3v1.3h-1.3zM1635 584h1.3v1.3h-1.3zM1618 602h1.3v1.3h-1.3zM1662 604h1.3v1.3h-1.3zM1617 597h1.3v1.3h-1.3zM1658 669h1.3v1.3h-1.3zM1585 691h1.3v1.3h-1.3zM1600 625h1.3v1.3h-1.3zM1620 664h1.3v1.3h-1.3zM1606 688h1.3v1.3h-1.3zM1660 578h1.3v1.3h-1.3zM1659 576h1.3v1.3h-1.3zM1567 686h1.3v1.3h-1.3zM1650 588h1.3v1.3h-1.3zM1662 656h1.3v1.3h-1.3zM1617 670h1.3v1.3h-1.3zM1555 626h1.3v1.3h-1.3zM1560 632h1.3v1.3h-1.3zM1616 680h1.3v1.3h-1.3zM1648 580h1.3v1.3h-1.3zM1545 688h1.3v1.3h-1.3zM1619 588h1.3v1.3h-1.3zM1632 668h1.3v1.3h-1.3zM1653 662h1.3v1.3h-1.3zM1546 644h1.3v1.3h-1.3zM1559 677h1.3v1.3h-1.3zM1586 626h1.3v1.3h-1.3zM1652 664h1.3v1.3h-1.3zM1632 665h1.3v1.3h-1.3zM1597 619h1.3v1.3h-1.3zM1540 654h1.3v1.3h-1.3zM1649 666h1.3v1.3h-1.3zM1558 670h1.3v1.3h-1.3zM1656 632h1.3v1.3h-1.3zM1550 682h1.3v1.3h-1.3zM1655 662h1.3v1.3h-1.3zM1548 688h1.3v1.3h-1.3zM1611 682h1.3v1.3h-1.3zM1593 630h1.3v1.3h-1.3zM1563 620h1.3v1.3h-1.3zM1661 664h1.3v1.3h-1.3zM1663 615h1.3v1.3h-1.3zM1581 691h1.3v1.3h-1.3zM1642 669h1.3v1.3h-1.3zM1587 627h1.3v1.3h-1.3zM1609 680h1.3v1.3h-1.3zM1582 619h1.3v1.3h-1.3zM1663 633h1.3v1.3h-1.3zM1544 659h1.3v1.3h-1.3zM1617 611h1.3v1.3h-1.3zM1648 664h1.3v1.3h-1.3zM1659 670h1.3v1.3h-1.3zM1573 632h1.3v1.3h-1.3zM1544 633h1.3v1.3h-1.3zM1609 626h1.3v1.3h-1.3zM1650 666h1.3v1.3h-1.3zM1557 679h1.3v1.3h-1.3zM1629 658h1.3v1.3h-1.3zM1554 686h1.3v1.3h-1.3zM1647 589h1.3v1.3h-1.3zM1616 684h1.3v1.3h-1.3zM1571 622h1.3v1.3h-1.3zM1583 621h1.3v1.3h-1.3zM1537 631h1.3v1.3h-1.3zM1631 581h1.3v1.3h-1.3zM1630 675h1.3v1.3h-1.3zM1660 656h1.3v1.3h-1.3zM1627 657h1.3v1.3h-1.3zM1626 677h1.3v1.3h-1.3zM1623 655h1.3v1.3h-1.3zM1567 676h1.3v1.3h-1.3zM1638 591h1.3v1.3h-1.3zM1606 615h1.3v1.3h-1.3zM1648 677h1.3v1.3h-1.3zM1556 670h1.3v1.3h-1.3zM1563 619h1.3v1.3h-1.3zM1543 661h1.3v1.3h-1.3zM1537 646h1.3v1.3h-1.3zM1624 684h1.3v1.3h-1.3zM1560 690h1.3v1.3h-1.3zM1621 668h1.3v1.3h-1.3zM1642 675h1.3v1.3h-1.3zM1627 611h1.3v1.3h-1.3zM1599 626h1.3v1.3h-1.3zM1583 629h1.3v1.3h-1.3zM1640 664h1.3v1.3h-1.3zM1656 602h1.3v1.3h-1.3zM1556 681h1.3v1.3h-1.3zM1551 682h1.3v1.3h-1.3zM1654 605h1.3v1.3h-1.3zM1585 693h1.3v1.3h-1.3zM1623 654h1.3v1.3h-1.3zM1608 611h1.3v1.3h-1.3zM1545 642h1.3v1.3h-1.3zM1568 618h1.3v1.3h-1.3zM1658 634h1.3v1.3h-1.3zM1662 644h1.3v1.3h-1.3zM1641 664h1.3v1.3h-1.3zM1549 680h1.3v1.3h-1.3zM1565 685h1.3v1.3h-1.3zM1656 666h1.3v1.3h-1.3zM1586 622h1.3v1.3h-1.3zM1587 629h1.3v1.3h-1.3zM1611 670h1.3v1.3h-1.3zM1627 660h1.3v1.3h-1.3zM1649 574h1.3v1.3h-1.3zM1632 678h1.3v1.3h-1.3zM1553 632h1.3v1.3h-1.3zM1652 666h1.3v1.3h-1.3zM1622 663h1.3v1.3h-1.3zM1561 674h1.3v1.3h-1.3zM1537 664h1.3v1.3h-1.3zM1591 691h1.3v1.3h-1.3zM1626 609h1.3v1.3h-1.3zM1559 680h1.3v1.3h-1.3z" fill="#1c1cff"/>
<path d="M1594.9 697.1L1584.9 696.9L1575.9 693.7L1569.9 689.4L1558.9 678.1L1540.9 667.2L1536.9 663.1L1534.5 658.1L1534.2 653.1L1535.6 649.1L1538.5 645.1L1543.4 641.1L1557.9 634.6L1572.9 630.3L1595.9 627.6L1600.9 626.1L1627.7 604.1L1629.9 600.6L1633.0 591.1L1636.9 586.2L1642.9 583.8L1649.9 585.2L1656.4 591.1L1660.1 601.1L1660.0 611.1L1655.8 625.1L1662.8 642.1L1663.1 649.1L1661.1 656.1L1658.4 660.1L1654.9 663.2L1649.9 665.6L1645.9 666.3L1638.9 665.4L1626.9 658.6L1623.9 658.9L1620.8 662.1L1617.3 668.1L1615.7 681.1L1612.4 688.1L1604.9 694.2L1594.9 697.1Z" fill="#1c1cff" filter="url(#k15)"/>
<path d="M1594.9 685.2L1587.9 685.9L1581.9 683.6L1570.0 672.1L1554.7 662.1L1552.2 659.1L1550.8 655.1L1551.1 652.1L1553.1 648.1L1559.6 641.1L1568.9 635.7L1582.9 632.3L1608.9 631.5L1611.9 630.0L1620.9 621.6L1627.9 616.9L1635.9 613.9L1640.9 614.5L1642.6 617.1L1644.6 624.1L1653.9 632.3L1658.5 639.1L1660.1 648.1L1657.4 656.1L1650.9 661.7L1645.9 663.0L1640.9 662.6L1633.9 659.0L1625.9 649.4L1622.9 648.2L1607.0 669.1L1600.6 681.1L1594.9 685.2Z" fill="#1c1cff" filter="url(#k30)"/>
<path d="M1644.9 660.1L1639.9 659.3L1634.9 656.1L1631.2 651.1L1629.6 646.1L1629.5 641.1L1631.2 636.1L1634.9 632.2L1638.9 630.6L1644.9 630.8L1650.9 633.7L1654.9 638.1L1657.2 644.1L1657.0 650.1L1654.6 655.1L1649.9 659.0L1644.9 660.1ZM1591.9 675.4L1587.9 675.8L1582.9 673.9L1567.9 661.8L1563.6 657.1L1561.7 652.1L1561.9 648.1L1563.7 644.1L1567.8 640.1L1578.9 635.7L1591.9 634.6L1605.9 636.9L1611.0 639.1L1614.1 642.1L1615.2 648.1L1611.6 656.1L1597.9 671.3L1591.9 675.4Z" fill="#1c1cff" filter="url(#k40)"/>
<path d="M1647.9 657.3L1643.9 657.9L1639.9 656.9L1636.0 654.1L1633.3 650.1L1632.2 645.1L1633.0 640.1L1635.7 636.1L1638.9 634.1L1642.9 633.4L1647.9 634.6L1651.9 637.7L1654.5 642.1L1655.3 647.1L1654.4 651.1L1651.9 654.8L1647.9 657.3ZM1591.9 670.3L1587.9 670.8L1582.9 668.9L1573.4 661.1L1568.8 656.1L1566.7 652.1L1566.3 648.1L1567.8 644.1L1570.9 641.2L1579.9 637.5L1591.9 636.6L1602.9 638.6L1609.8 643.1L1611.2 648.1L1608.9 654.1L1598.9 665.3L1591.9 670.3Z" fill="#1c1cff" filter="url(#k55)"/>
<path d="M1646.9 656.3L1642.9 656.5L1639.9 655.5L1636.7 653.1L1634.3 649.1L1633.5 645.1L1634.2 641.1L1636.9 637.2L1639.9 635.4L1643.9 634.9L1647.9 636.1L1651.5 639.1L1653.6 643.1L1654.0 647.1L1653.0 651.1L1650.8 654.1L1646.9 656.3ZM1590.9 668.3L1586.9 668.4L1582.9 666.6L1575.9 660.8L1570.7 655.1L1568.7 651.1L1568.5 647.1L1569.9 644.1L1572.9 641.5L1580.9 638.4L1592.9 637.7L1602.9 640.0L1608.2 644.1L1609.1 649.1L1606.1 655.1L1596.9 664.8L1590.9 668.3Z" fill="#2ad6f2" filter="url(#k40)"/>
<path d="M1645.9 655.1L1639.9 654.0L1636.9 651.3L1635.3 648.1L1635.0 644.1L1635.8 641.1L1637.9 638.3L1640.9 636.7L1644.9 636.5L1647.9 637.7L1650.9 640.5L1652.5 644.1L1652.6 648.1L1651.5 651.1L1648.9 653.9L1645.9 655.1ZM1590.9 666.1L1586.9 666.2L1582.9 664.3L1576.9 659.3L1572.5 654.1L1570.6 650.1L1570.5 647.1L1572.1 644.1L1574.4 642.1L1581.9 639.2L1591.9 638.6L1600.9 640.5L1606.0 644.1L1607.3 648.1L1604.7 654.1L1596.9 662.6L1590.9 666.1Z" fill="#2ad6f2" filter="url(#k70)"/>
<path d="M1646.9 653.5L1643.9 654.0L1640.9 653.2L1638.3 651.1L1636.6 648.1L1636.8 642.1L1640.9 638.1L1643.9 637.7L1646.9 638.5L1651.0 643.1L1651.1 649.1L1649.2 652.1L1646.9 653.5ZM1590.9 664.2L1587.9 664.5L1583.9 663.0L1574.5 654.1L1572.2 648.1L1573.2 645.1L1575.1 643.1L1580.9 640.4L1589.9 639.4L1598.9 640.9L1604.1 644.1L1605.6 648.1L1603.6 653.1L1596.9 660.6L1590.9 664.2Z" fill="#52e84a" filter="url(#k55)"/>
<path d="M1645.9 652.1L1641.9 651.9L1638.2 648.1L1638.2 643.1L1641.9 639.6L1646.9 640.4L1649.7 644.1L1649.4 649.1L1645.9 652.1ZM1589.9 662.3L1586.9 662.1L1582.9 660.1L1576.1 653.1L1574.5 650.1L1574.4 647.1L1577.6 643.1L1583.9 640.9L1591.9 640.5L1598.5 642.1L1602.6 645.1L1603.4 649.1L1600.7 654.1L1594.9 660.0L1589.9 662.3Z" fill="#52e84a" filter="url(#k90)"/>
<path d="M1590.9 658.5L1585.9 658.1L1580.6 654.1L1577.9 649.1L1579.5 645.1L1583.9 642.9L1589.9 642.3L1594.9 643.2L1598.9 645.6L1599.9 648.1L1598.6 652.1L1594.9 656.3L1590.9 658.5ZM1644.9 648.1L1642.1 647.1L1641.8 645.1L1642.9 643.8L1644.9 643.9L1646.0 645.1L1645.9 647.1L1644.9 648.1Z" fill="#b8f020" filter="url(#k50)"/>
<path d="M1591.9 656.2L1586.9 656.6L1582.9 654.2L1580.2 650.1L1581.0 646.1L1584.4 644.1L1588.9 643.4L1593.6 644.1L1596.9 646.1L1597.9 648.1L1597.2 651.1L1591.9 656.2Z" fill="#f4f018" filter="url(#k55)"/>
<path d="M1589.9 655.1L1585.9 654.4L1583.2 652.1L1582.0 649.1L1583.6 646.1L1589.9 644.7L1592.9 645.3L1595.3 647.1L1595.9 649.1L1594.6 652.1L1589.9 655.1Z" fill="#ff9a18" filter="url(#k60)"/>
<path d="M1590.9 653.5L1587.9 653.7L1585.0 652.1L1583.7 649.1L1584.7 647.1L1588.9 645.7L1593.2 647.1L1594.1 650.1L1590.9 653.5Z" fill="#f3321a" filter="url(#k85)"/>
<rect x="1628.9" y="579.8" width="31.5" height="32.7" fill="none" stroke="#cc3b30" stroke-width="3"/>
<rect x="1533.9" y="563.1" width="134.1" height="133.9" fill="none" stroke="#000" stroke-width="3"/>
<text x="1549.5" y="600" font-size="25" fill="#c8413a">0.4%</text>
<path d="M1392 793h1.3v1.3h-1.3zM1431 833h1.3v1.3h-1.3zM1498 716h1.3v1.3h-1.3zM1471 808h1.3v1.3h-1.3zM1481 799h1.3v1.3h-1.3zM1450 764h1.3v1.3h-1.3zM1451 774h1.3v1.3h-1.3zM1482 803h1.3v1.3h-1.3zM1400 836h1.3v1.3h-1.3zM1481 808h1.3v1.3h-1.3zM1467 765h1.3v1.3h-1.3zM1507 756h1.3v1.3h-1.3zM1437 759h1.3v1.3h-1.3zM1419 769h1.3v1.3h-1.3zM1477 802h1.3v1.3h-1.3zM1399 776h1.3v1.3h-1.3zM1472 741h1.3v1.3h-1.3zM1516 750h1.3v1.3h-1.3zM1509 747h1.3v1.3h-1.3zM1483 724h1.3v1.3h-1.3zM1408 819h1.3v1.3h-1.3zM1515 797h1.3v1.3h-1.3zM1445 760h1.3v1.3h-1.3zM1516 782h1.3v1.3h-1.3zM1466 767h1.3v1.3h-1.3zM1470 815h1.3v1.3h-1.3zM1464 820h1.3v1.3h-1.3zM1511 742h1.3v1.3h-1.3zM1511 742h1.3v1.3h-1.3zM1495 821h1.3v1.3h-1.3zM1397 807h1.3v1.3h-1.3zM1452 760h1.3v1.3h-1.3zM1418 779h1.3v1.3h-1.3zM1517 800h1.3v1.3h-1.3zM1445 763h1.3v1.3h-1.3zM1459 836h1.3v1.3h-1.3zM1411 825h1.3v1.3h-1.3zM1483 722h1.3v1.3h-1.3zM1485 807h1.3v1.3h-1.3zM1484 800h1.3v1.3h-1.3zM1512 776h1.3v1.3h-1.3zM1499 825h1.3v1.3h-1.3zM1490 711h1.3v1.3h-1.3zM1475 811h1.3v1.3h-1.3zM1445 758h1.3v1.3h-1.3zM1484 720h1.3v1.3h-1.3zM1423 776h1.3v1.3h-1.3zM1516 782h1.3v1.3h-1.3zM1405 774h1.3v1.3h-1.3zM1415 831h1.3v1.3h-1.3zM1414 831h1.3v1.3h-1.3zM1515 748h1.3v1.3h-1.3zM1514 778h1.3v1.3h-1.3zM1415 824h1.3v1.3h-1.3zM1457 835h1.3v1.3h-1.3zM1478 754h1.3v1.3h-1.3zM1511 740h1.3v1.3h-1.3zM1473 733h1.3v1.3h-1.3zM1446 776h1.3v1.3h-1.3zM1473 805h1.3v1.3h-1.3zM1511 747h1.3v1.3h-1.3zM1490 716h1.3v1.3h-1.3zM1414 830h1.3v1.3h-1.3zM1510 734h1.3v1.3h-1.3zM1396 815h1.3v1.3h-1.3zM1411 784h1.3v1.3h-1.3zM1425 764h1.3v1.3h-1.3zM1485 822h1.3v1.3h-1.3zM1497 810h1.3v1.3h-1.3zM1494 722h1.3v1.3h-1.3zM1413 772h1.3v1.3h-1.3zM1415 835h1.3v1.3h-1.3zM1468 824h1.3v1.3h-1.3zM1472 837h1.3v1.3h-1.3zM1417 825h1.3v1.3h-1.3zM1396 804h1.3v1.3h-1.3zM1391 792h1.3v1.3h-1.3zM1413 768h1.3v1.3h-1.3zM1478 808h1.3v1.3h-1.3zM1517 792h1.3v1.3h-1.3zM1494 814h1.3v1.3h-1.3zM1422 823h1.3v1.3h-1.3zM1484 803h1.3v1.3h-1.3zM1397 813h1.3v1.3h-1.3zM1456 838h1.3v1.3h-1.3zM1461 770h1.3v1.3h-1.3zM1465 742h1.3v1.3h-1.3zM1398 775h1.3v1.3h-1.3zM1408 830h1.3v1.3h-1.3zM1515 759h1.3v1.3h-1.3zM1469 756h1.3v1.3h-1.3zM1511 740h1.3v1.3h-1.3zM1417 829h1.3v1.3h-1.3zM1516 761h1.3v1.3h-1.3zM1514 728h1.3v1.3h-1.3zM1509 731h1.3v1.3h-1.3zM1437 772h1.3v1.3h-1.3zM1428 777h1.3v1.3h-1.3zM1475 735h1.3v1.3h-1.3zM1397 808h1.3v1.3h-1.3zM1508 731h1.3v1.3h-1.3zM1498 714h1.3v1.3h-1.3zM1483 801h1.3v1.3h-1.3zM1504 763h1.3v1.3h-1.3zM1393 818h1.3v1.3h-1.3zM1414 765h1.3v1.3h-1.3zM1400 792h1.3v1.3h-1.3zM1475 821h1.3v1.3h-1.3zM1446 772h1.3v1.3h-1.3zM1479 748h1.3v1.3h-1.3zM1497 720h1.3v1.3h-1.3zM1482 810h1.3v1.3h-1.3zM1502 806h1.3v1.3h-1.3zM1496 720h1.3v1.3h-1.3z" fill="#1c1cff"/>
<path d="M1453.7 841.2L1437.1 841.2L1427.7 836.7L1414.0 823.2L1398.7 814.2L1392.8 809.2L1389.3 802.2L1390.1 795.2L1392.5 791.2L1396.7 787.3L1407.7 781.6L1426.7 775.6L1449.7 772.0L1455.7 769.2L1476.2 751.2L1477.5 735.2L1479.1 730.2L1482.6 725.2L1485.7 722.6L1490.7 720.6L1498.7 721.3L1502.7 723.6L1506.2 727.2L1509.1 732.2L1511.0 738.2L1512.4 753.2L1509.7 767.2L1516.8 784.2L1517.2 790.2L1515.9 796.2L1510.7 803.8L1506.7 806.5L1501.7 808.0L1493.7 807.7L1481.7 802.0L1478.7 802.8L1471.9 813.2L1470.6 826.2L1468.0 832.2L1461.7 838.1L1453.7 841.2Z" fill="#1c1cff" filter="url(#k15)"/>
<path d="M1449.7 830.2L1443.7 830.9L1437.7 829.1L1425.0 817.2L1411.0 808.2L1406.3 802.2L1405.9 799.2L1406.9 795.2L1410.3 790.2L1414.5 786.2L1424.7 780.4L1437.7 777.3L1459.4 776.2L1465.7 773.4L1473.5 766.2L1484.6 758.2L1484.7 756.2L1481.0 747.2L1479.8 741.2L1480.3 735.2L1483.0 729.2L1486.7 725.5L1490.7 723.8L1494.7 723.5L1498.7 724.7L1502.2 727.2L1505.2 731.2L1507.1 736.2L1507.5 741.2L1505.2 750.2L1497.3 760.2L1496.7 763.2L1498.3 766.2L1508.7 775.1L1512.2 780.2L1514.1 788.2L1512.4 796.2L1509.7 800.2L1505.7 803.2L1501.7 804.7L1496.7 804.9L1488.7 801.7L1479.7 792.6L1477.7 792.2L1469.9 804.2L1461.8 814.2L1455.7 825.9L1449.7 830.2Z" fill="#1c1cff" filter="url(#k30)"/>
<path d="M1495.7 753.3L1491.7 753.4L1487.7 751.6L1484.1 747.2L1482.4 742.2L1482.3 737.2L1484.0 732.2L1487.5 728.2L1491.7 726.4L1495.7 726.5L1499.7 728.4L1502.9 732.2L1504.6 737.2L1504.6 742.2L1503.0 747.2L1499.7 751.2L1495.7 753.3ZM1502.7 801.4L1497.7 802.1L1492.7 800.8L1488.7 798.0L1485.1 793.2L1483.3 787.2L1483.4 782.2L1485.5 777.2L1489.7 773.6L1495.7 772.4L1501.7 773.8L1506.7 777.3L1510.1 782.2L1511.4 788.2L1510.3 794.2L1507.7 798.2L1502.7 801.4ZM1446.7 820.4L1442.7 820.8L1437.7 818.8L1422.2 806.2L1418.7 802.2L1416.8 797.2L1417.1 792.2L1419.4 788.2L1423.7 784.5L1433.7 780.7L1447.7 779.5L1461.7 781.8L1465.7 783.6L1468.7 786.5L1470.1 792.2L1467.1 800.2L1452.7 816.5L1446.7 820.4Z" fill="#1c1cff" filter="url(#k40)"/>
<path d="M1495.7 750.4L1491.7 750.5L1488.7 749.1L1486.0 746.2L1484.4 742.2L1484.2 737.2L1485.7 733.2L1488.3 730.2L1491.7 728.6L1495.7 728.7L1498.7 730.3L1501.2 733.2L1502.6 737.2L1502.7 741.2L1501.5 745.2L1498.7 748.8L1495.7 750.4ZM1501.7 799.4L1496.7 799.7L1492.7 798.3L1489.1 795.2L1486.9 791.2L1486.1 786.2L1486.8 782.2L1489.5 778.2L1492.7 776.1L1496.7 775.4L1501.7 776.5L1505.4 779.2L1508.2 783.2L1509.3 788.2L1508.3 793.2L1505.7 797.0L1501.7 799.4ZM1446.7 815.4L1442.7 815.8L1437.7 813.8L1423.9 801.2L1421.8 797.2L1421.3 793.2L1422.8 789.2L1425.9 786.2L1434.7 782.5L1447.7 781.5L1458.7 783.7L1465.0 788.2L1466.2 793.2L1463.1 800.2L1452.7 811.4L1446.7 815.4Z" fill="#1c1cff" filter="url(#k55)"/>
<path d="M1493.7 749.3L1490.7 748.7L1487.7 746.5L1485.8 743.2L1485.1 739.2L1485.9 735.2L1487.7 732.3L1490.7 730.2L1493.7 729.6L1499.0 732.2L1500.9 735.2L1501.8 739.2L1501.1 743.2L1499.5 746.2L1496.7 748.5L1493.7 749.3ZM1500.7 798.3L1496.7 798.5L1493.7 797.4L1490.7 795.1L1488.3 791.2L1487.5 787.2L1488.1 783.2L1490.7 779.2L1493.7 777.4L1497.7 776.9L1501.7 778.0L1504.7 780.2L1507.3 784.2L1508.0 789.2L1507.0 793.2L1504.7 796.2L1500.7 798.3ZM1445.7 813.4L1441.7 813.3L1437.7 811.5L1430.2 805.2L1425.8 800.2L1423.8 796.2L1423.5 792.2L1424.9 789.2L1427.7 786.6L1435.7 783.4L1447.7 782.6L1457.7 784.8L1463.4 789.2L1464.1 794.2L1461.0 800.2L1451.7 810.0L1445.7 813.4Z" fill="#2ad6f2" filter="url(#k40)"/>
<path d="M1495.7 747.4L1492.7 747.8L1489.7 746.6L1486.5 741.2L1487.2 735.2L1488.7 733.1L1491.7 731.2L1496.7 731.9L1499.1 734.2L1500.3 737.2L1499.8 743.2L1495.7 747.4ZM1498.7 797.2L1492.7 795.2L1490.2 792.2L1489.1 789.2L1489.0 785.2L1490.2 782.2L1492.7 779.7L1495.7 778.5L1499.7 778.7L1502.7 780.2L1505.4 783.2L1506.7 787.2L1506.4 791.2L1504.8 794.2L1501.7 796.5L1498.7 797.2ZM1444.7 811.3L1440.7 810.8L1436.7 808.5L1430.8 803.2L1426.9 798.2L1425.5 792.2L1427.0 789.2L1429.7 786.9L1437.7 784.1L1447.7 783.6L1455.7 785.3L1461.2 789.2L1462.1 794.2L1459.6 799.2L1450.7 808.5L1444.7 811.3Z" fill="#2ad6f2" filter="url(#k70)"/>
<path d="M1494.7 746.4L1491.7 746.2L1489.7 745.0L1487.4 740.2L1488.7 734.9L1492.7 732.3L1496.7 733.4L1499.4 738.2L1498.5 743.2L1494.7 746.4ZM1500.7 795.6L1497.7 796.0L1494.7 795.1L1490.6 790.2L1490.7 784.2L1494.7 780.2L1497.7 779.7L1500.7 780.4L1503.1 782.2L1505.0 785.2L1505.1 791.2L1503.0 794.2L1500.7 795.6ZM1445.7 809.3L1442.7 809.4L1438.7 807.9L1429.6 799.2L1427.2 793.2L1428.1 790.2L1430.0 788.2L1436.7 785.2L1445.7 784.4L1453.7 785.8L1459.3 789.2L1460.6 793.2L1458.5 798.2L1451.7 805.8L1445.7 809.3Z" fill="#52e84a" filter="url(#k55)"/>
<path d="M1494.7 744.5L1490.7 743.7L1488.9 740.2L1489.7 736.2L1492.7 734.0L1495.7 734.6L1497.9 738.2L1497.3 742.2L1494.7 744.5ZM1498.7 794.4L1493.7 792.4L1491.8 788.2L1492.7 784.0L1496.7 781.4L1501.7 783.0L1504.0 787.2L1502.7 792.2L1498.7 794.4ZM1444.7 807.3L1438.7 805.7L1431.1 798.2L1429.6 795.2L1429.4 792.2L1432.5 788.2L1438.7 785.9L1446.7 785.5L1453.7 787.1L1457.8 790.2L1458.4 794.2L1455.7 799.2L1449.7 805.1L1444.7 807.3Z" fill="#52e84a" filter="url(#k90)"/>
<path d="M1497.7 790.2L1495.7 788.2L1496.3 786.2L1497.7 785.6L1499.3 786.2L1500.1 788.2L1499.7 789.4L1497.7 790.2ZM1445.7 803.5L1440.7 803.1L1435.7 799.2L1433.0 794.2L1434.4 790.2L1438.0 788.2L1443.7 787.3L1449.7 788.1L1453.7 790.3L1455.0 793.2L1453.5 797.2L1449.7 801.4L1445.7 803.5Z" fill="#b8f020" filter="url(#k50)"/>
<path d="M1446.7 801.3L1442.7 801.8L1437.9 799.2L1435.2 795.2L1435.9 791.2L1439.1 789.2L1443.7 788.4L1448.7 789.1L1451.7 790.8L1452.9 793.2L1452.2 796.2L1449.7 799.3L1446.7 801.3Z" fill="#f4f018" filter="url(#k55)"/>
<path d="M1443.7 800.2L1438.7 797.7L1437.1 793.2L1438.5 791.2L1440.7 790.1L1447.7 790.2L1450.4 792.2L1450.7 795.2L1447.7 799.0L1443.7 800.2Z" fill="#ff9a18" filter="url(#k60)"/>
<path d="M1445.7 798.5L1442.7 798.7L1440.1 797.2L1438.7 794.2L1439.6 792.2L1443.7 790.7L1448.4 792.2L1449.1 795.2L1445.7 798.5Z" fill="#f3321a" filter="url(#k85)"/>
<rect x="1482" y="724.5" width="31.5" height="32.7" fill="none" stroke="#cc3b30" stroke-width="3"/>
<rect x="1388.7" y="707.2" width="133.1" height="133.8" fill="none" stroke="#000" stroke-width="3"/>
<text x="1402.2" y="745.1" font-size="25" fill="#c8413a">13.7%</text>
<path d="M1562 835h1.3v1.3h-1.3zM1659 780h1.3v1.3h-1.3zM1576 775h1.3v1.3h-1.3zM1616 809h1.3v1.3h-1.3zM1559 776h1.3v1.3h-1.3zM1549 781h1.3v1.3h-1.3zM1628 816h1.3v1.3h-1.3zM1661 801h1.3v1.3h-1.3zM1623 725h1.3v1.3h-1.3zM1625 802h1.3v1.3h-1.3zM1632 832h1.3v1.3h-1.3zM1622 813h1.3v1.3h-1.3zM1555 785h1.3v1.3h-1.3zM1558 775h1.3v1.3h-1.3zM1637 809h1.3v1.3h-1.3zM1620 828h1.3v1.3h-1.3zM1621 817h1.3v1.3h-1.3zM1586 769h1.3v1.3h-1.3zM1563 828h1.3v1.3h-1.3zM1564 779h1.3v1.3h-1.3zM1553 787h1.3v1.3h-1.3zM1662 766h1.3v1.3h-1.3zM1622 832h1.3v1.3h-1.3zM1613 762h1.3v1.3h-1.3zM1597 757h1.3v1.3h-1.3zM1624 813h1.3v1.3h-1.3zM1577 769h1.3v1.3h-1.3zM1628 814h1.3v1.3h-1.3zM1624 751h1.3v1.3h-1.3zM1663 794h1.3v1.3h-1.3zM1568 824h1.3v1.3h-1.3zM1627 801h1.3v1.3h-1.3zM1579 835h1.3v1.3h-1.3zM1647 809h1.3v1.3h-1.3zM1633 807h1.3v1.3h-1.3zM1630 818h1.3v1.3h-1.3zM1616 812h1.3v1.3h-1.3zM1573 776h1.3v1.3h-1.3zM1614 833h1.3v1.3h-1.3zM1641 810h1.3v1.3h-1.3zM1570 830h1.3v1.3h-1.3zM1622 802h1.3v1.3h-1.3zM1633 749h1.3v1.3h-1.3zM1582 773h1.3v1.3h-1.3zM1616 806h1.3v1.3h-1.3zM1643 814h1.3v1.3h-1.3zM1622 745h1.3v1.3h-1.3zM1607 752h1.3v1.3h-1.3zM1652 808h1.3v1.3h-1.3zM1569 832h1.3v1.3h-1.3zM1638 830h1.3v1.3h-1.3zM1613 810h1.3v1.3h-1.3zM1608 823h1.3v1.3h-1.3zM1617 742h1.3v1.3h-1.3zM1654 754h1.3v1.3h-1.3zM1560 825h1.3v1.3h-1.3zM1661 724h1.3v1.3h-1.3zM1607 823h1.3v1.3h-1.3zM1654 773h1.3v1.3h-1.3zM1662 717h1.3v1.3h-1.3zM1647 817h1.3v1.3h-1.3zM1585 769h1.3v1.3h-1.3zM1615 817h1.3v1.3h-1.3zM1568 776h1.3v1.3h-1.3zM1583 773h1.3v1.3h-1.3zM1661 804h1.3v1.3h-1.3zM1627 810h1.3v1.3h-1.3zM1643 730h1.3v1.3h-1.3zM1570 769h1.3v1.3h-1.3zM1652 761h1.3v1.3h-1.3zM1662 790h1.3v1.3h-1.3zM1541 808h1.3v1.3h-1.3zM1635 805h1.3v1.3h-1.3zM1610 768h1.3v1.3h-1.3zM1614 818h1.3v1.3h-1.3zM1664 803h1.3v1.3h-1.3zM1573 777h1.3v1.3h-1.3zM1657 810h1.3v1.3h-1.3zM1559 782h1.3v1.3h-1.3zM1561 820h1.3v1.3h-1.3zM1635 813h1.3v1.3h-1.3zM1632 823h1.3v1.3h-1.3zM1627 813h1.3v1.3h-1.3zM1649 809h1.3v1.3h-1.3zM1543 774h1.3v1.3h-1.3zM1579 775h1.3v1.3h-1.3zM1647 810h1.3v1.3h-1.3zM1616 807h1.3v1.3h-1.3zM1629 801h1.3v1.3h-1.3zM1581 774h1.3v1.3h-1.3zM1656 764h1.3v1.3h-1.3zM1618 813h1.3v1.3h-1.3zM1572 768h1.3v1.3h-1.3zM1544 783h1.3v1.3h-1.3zM1627 797h1.3v1.3h-1.3zM1562 826h1.3v1.3h-1.3zM1584 771h1.3v1.3h-1.3zM1658 775h1.3v1.3h-1.3zM1611 824h1.3v1.3h-1.3zM1566 833h1.3v1.3h-1.3zM1607 768h1.3v1.3h-1.3zM1630 803h1.3v1.3h-1.3zM1611 756h1.3v1.3h-1.3zM1571 828h1.3v1.3h-1.3zM1557 784h1.3v1.3h-1.3zM1661 780h1.3v1.3h-1.3zM1633 803h1.3v1.3h-1.3zM1617 808h1.3v1.3h-1.3z" fill="#1c1cff"/>
<path d="M1598.1 841.2L1581.0 841.2L1572.1 837.0L1558.1 823.3L1543.1 814.5L1537.1 809.6L1534.1 804.9L1534.1 795.1L1536.5 791.2L1540.8 787.2L1554.1 780.6L1571.1 775.5L1595.1 772.5L1600.1 770.9L1627.1 748.4L1628.9 745.2L1631.7 736.2L1635.1 731.4L1641.1 728.6L1648.1 729.5L1652.1 732.1L1654.9 735.2L1658.9 745.2L1659.2 754.2L1655.8 768.2L1662.8 785.2L1663.2 791.2L1661.5 798.2L1658.3 803.2L1655.1 806.0L1647.1 809.1L1639.1 808.5L1627.1 801.9L1624.1 802.1L1620.1 806.5L1616.2 813.2L1614.6 826.2L1612.0 832.2L1606.1 837.9L1598.1 841.2Z" fill="#1c1cff" filter="url(#k15)"/>
<path d="M1593.1 830.5L1587.1 830.9L1581.1 828.8L1569.1 817.2L1553.9 807.2L1551.3 804.2L1549.8 800.2L1550.1 797.2L1552.0 793.2L1558.4 786.2L1568.1 780.6L1582.1 777.3L1603.1 777.1L1608.1 776.3L1611.7 774.2L1621.1 765.4L1627.1 761.6L1635.1 758.7L1640.1 759.5L1644.5 767.2L1654.1 775.4L1658.6 782.2L1660.1 791.2L1657.3 799.2L1654.1 802.7L1650.1 805.0L1646.1 805.9L1641.1 805.6L1634.1 802.2L1625.1 791.9L1623.1 791.1L1621.1 792.8L1614.2 804.2L1605.9 814.2L1599.5 826.2L1597.1 828.5L1593.1 830.5Z" fill="#1c1cff" filter="url(#k30)"/>
<path d="M1649.1 802.3L1643.1 803.1L1638.1 801.5L1633.9 798.2L1630.7 793.2L1629.4 788.2L1629.7 782.2L1632.1 777.5L1636.1 774.5L1641.1 773.4L1647.1 774.5L1652.1 777.7L1656.1 783.2L1657.4 789.2L1656.7 794.2L1653.7 799.2L1649.1 802.3ZM1591.1 820.3L1587.1 820.8L1582.1 819.0L1566.2 806.2L1562.7 802.2L1560.7 797.2L1560.9 793.2L1562.6 789.2L1566.7 785.2L1577.1 780.9L1591.1 779.6L1605.1 781.9L1610.1 784.2L1613.1 787.2L1614.1 793.2L1610.5 801.2L1596.1 817.1L1591.1 820.3Z" fill="#1c1cff" filter="url(#k40)"/>
<path d="M1648.1 800.2L1643.1 800.8L1639.1 799.5L1635.2 796.2L1632.9 792.2L1632.1 787.2L1632.9 783.2L1635.5 779.2L1639.1 777.0L1644.1 776.5L1648.1 777.7L1652.1 780.9L1654.6 785.2L1655.3 790.2L1654.3 794.2L1652.1 797.6L1648.1 800.2ZM1591.1 815.3L1587.1 815.9L1582.1 814.1L1572.5 806.2L1567.9 801.2L1565.8 797.2L1565.3 793.2L1566.8 789.2L1569.8 786.2L1579.1 782.5L1591.1 781.6L1602.1 783.7L1608.9 788.2L1610.2 793.2L1607.8 799.2L1598.1 810.1L1591.1 815.3Z" fill="#1c1cff" filter="url(#k55)"/>
<path d="M1647.1 799.2L1643.1 799.5L1639.1 798.1L1635.9 795.2L1633.9 791.2L1633.5 787.2L1634.5 783.2L1636.8 780.2L1640.1 778.3L1644.1 777.9L1648.1 779.2L1651.6 782.2L1653.6 786.2L1654.0 790.2L1653.0 794.2L1650.7 797.2L1647.1 799.2ZM1590.1 813.3L1586.1 813.4L1582.1 811.7L1575.3 806.2L1569.8 800.2L1567.8 796.2L1567.4 793.2L1568.2 790.2L1571.1 787.0L1579.1 783.5L1590.1 782.5L1601.1 784.6L1607.1 788.9L1608.2 793.2L1605.7 799.2L1597.1 808.8L1590.1 813.3Z" fill="#2ad6f2" filter="url(#k40)"/>
<path d="M1645.1 798.2L1642.1 798.0L1638.7 796.2L1636.2 793.2L1635.1 790.2L1635.1 786.2L1636.2 783.2L1639.1 780.4L1642.1 779.4L1646.1 779.8L1649.1 781.5L1651.4 784.2L1652.7 788.2L1652.4 792.2L1650.8 795.2L1648.1 797.4L1645.1 798.2ZM1589.1 811.3L1585.1 810.9L1581.1 808.8L1571.6 799.2L1569.6 795.2L1569.5 792.2L1571.0 789.2L1573.2 787.2L1581.1 784.2L1591.1 783.6L1600.1 785.6L1605.1 789.2L1606.3 793.2L1603.6 799.2L1595.1 808.2L1589.1 811.3Z" fill="#2ad6f2" filter="url(#k70)"/>
<path d="M1647.1 796.5L1644.1 797.0L1641.1 796.3L1637.0 792.2L1636.4 786.2L1637.9 783.2L1640.1 781.4L1643.1 780.7L1646.1 781.2L1650.6 785.2L1651.5 788.2L1651.1 792.2L1647.1 796.5ZM1589.1 809.4L1586.1 809.3L1582.1 807.5L1572.9 798.2L1571.5 795.2L1571.3 792.2L1572.9 789.2L1575.1 787.4L1582.1 784.9L1591.1 784.5L1599.1 786.4L1603.9 790.2L1604.4 794.2L1601.8 799.2L1595.1 806.3L1589.1 809.4Z" fill="#52e84a" filter="url(#k55)"/>
<path d="M1645.1 795.3L1640.6 794.2L1637.9 790.2L1638.6 785.2L1642.1 782.5L1646.6 783.2L1649.8 787.2L1649.4 792.2L1647.7 794.2L1645.1 795.3ZM1589.1 807.2L1586.1 807.1L1582.1 805.3L1575.1 798.2L1573.6 795.2L1573.4 792.2L1576.5 788.2L1582.1 786.0L1590.1 785.5L1597.1 786.9L1601.7 790.2L1602.4 794.2L1600.4 798.2L1594.1 804.8L1589.1 807.2Z" fill="#52e84a" filter="url(#k90)"/>
<path d="M1644.1 791.3L1641.7 789.2L1643.1 786.7L1645.1 786.9L1646.1 788.2L1645.9 790.2L1644.1 791.3ZM1590.1 803.4L1585.1 803.2L1579.7 799.2L1576.9 794.2L1578.4 790.2L1582.1 788.2L1588.1 787.3L1594.0 788.2L1597.6 790.2L1598.9 793.2L1598.1 796.2L1594.1 801.1L1590.1 803.4Z" fill="#b8f020" filter="url(#k50)"/>
<path d="M1590.1 801.5L1586.1 801.7L1581.9 799.2L1579.0 794.2L1580.1 791.0L1583.1 789.2L1588.1 788.4L1592.9 789.2L1596.0 791.2L1596.9 793.2L1596.1 796.2L1593.8 799.2L1590.1 801.5Z" fill="#f4f018" filter="url(#k55)"/>
<path d="M1588.1 800.2L1584.1 799.0L1581.2 795.2L1581.5 792.2L1584.1 790.3L1591.1 790.1L1593.5 791.2L1594.8 793.2L1593.1 797.7L1588.1 800.2Z" fill="#ff9a18" filter="url(#k60)"/>
<path d="M1590.1 798.4L1587.1 798.8L1584.1 797.2L1582.7 794.2L1583.6 792.2L1588.1 790.7L1592.4 792.2L1593.1 795.2L1590.1 798.4Z" fill="#f3321a" filter="url(#k85)"/>
<rect x="1627.7" y="724.5" width="31.5" height="32.7" fill="none" stroke="#cc3b30" stroke-width="3"/>
<rect x="1534.1" y="707.2" width="134.0" height="133.8" fill="none" stroke="#000" stroke-width="3"/>
<text x="1549" y="745.1" font-size="25" fill="#c8413a">0.7%</text>
<text transform="translate(1685.5,630) rotate(90)" font-size="29" text-anchor="middle">WT</text>
<text transform="translate(1685,771.7) rotate(90)" font-size="28" text-anchor="middle"><tspan font-style="italic">Thy1</tspan>-OE</text>
<text transform="translate(1380,842) rotate(-90)" font-size="29">Ly6G</text>
<line x1="1369.9" y1="763" x2="1369.9" y2="577.7" stroke="#000" stroke-width="3.4"/><path d="M1369.9 563.7 L1361.9 583.7 L1369.9 578.2 L1377.9 583.7Z" fill="#000"/>
<text x="1385" y="871.2" font-size="29.5">CD11b</text>
<line x1="1486.3" y1="860" x2="1654.6" y2="860" stroke="#000" stroke-width="3.4"/><path d="M1668.6 860 L1648.6 852 L1654.1 860 L1648.6 868Z" fill="#000"/>
<line x1="1843.2" y1="546.7" x2="1843.2" y2="796.4" stroke="#000" stroke-width="3"/>
<line x1="1829.5" y1="794.9" x2="1843.2" y2="794.9" stroke="#000" stroke-width="3"/>
<text x="1814" y="804.7" font-size="27" text-anchor="end">0</text>
<line x1="1829.5" y1="712.6" x2="1843.2" y2="712.6" stroke="#000" stroke-width="3"/>
<text x="1814" y="722.4" font-size="27" text-anchor="end">3</text>
<line x1="1829.5" y1="630.3" x2="1843.2" y2="630.3" stroke="#000" stroke-width="3"/>
<text x="1814" y="640.1" font-size="27" text-anchor="end">6</text>
<line x1="1829.5" y1="548.0" x2="1843.2" y2="548.0" stroke="#000" stroke-width="3"/>
<text x="1814" y="557.8" font-size="27" text-anchor="end">9</text>
<line x1="1841.7" y1="794.9" x2="2040.8" y2="794.9" stroke="#000" stroke-width="3"/>
<line x1="1844.5" y1="794.9" x2="1844.5" y2="808.3" stroke="#000" stroke-width="3"/>
<line x1="1941.8" y1="794.9" x2="1941.8" y2="808.3" stroke="#000" stroke-width="3"/>
<line x1="2039.5" y1="794.9" x2="2039.5" y2="808.3" stroke="#000" stroke-width="3"/>
<rect x="1851.3" y="647.6" width="34" height="147.3" fill="#fff" stroke="#000" stroke-width="3"/>
<rect x="1952" y="641.3" width="33.5" height="153.6" fill="#fff" stroke="#000" stroke-width="3"/>
<line x1="1868.4" y1="656.4" x2="1868.4" y2="638.5" stroke="#000" stroke-width="3"/><line x1="1862" y1="638.5" x2="1875" y2="638.5" stroke="#000" stroke-width="3"/>
<line x1="1968.8" y1="652.3" x2="1968.8" y2="630.3" stroke="#000" stroke-width="3"/><line x1="1962" y1="630.3" x2="1976" y2="630.3" stroke="#000" stroke-width="3"/>
<circle cx="1868.9" cy="628.1" r="5.4" fill="#000"/>
<circle cx="1861" cy="645" r="5.4" fill="#000"/>
<circle cx="1876.5" cy="641.7" r="5.4" fill="#000"/>
<circle cx="1859" cy="650" r="5.4" fill="#000"/>
<circle cx="1877" cy="654" r="5.4" fill="#000"/>
<circle cx="1861" cy="661.5" r="5.4" fill="#000"/>
<rect x="1956.5" y="616.8" width="10.4" height="10.4" fill="#000"/>
<rect x="1972.3" y="622.1999999999999" width="10.4" height="10.4" fill="#000"/>
<rect x="1963.2" y="636.5" width="10.4" height="10.4" fill="#000"/>
<rect x="1955.8" y="650.0999999999999" width="10.4" height="10.4" fill="#000"/>
<rect x="1971.8" y="650.0999999999999" width="10.4" height="10.4" fill="#000"/>
<circle cx="1897" cy="789.5" r="5.3" fill="#d63b2f"/>
<circle cx="1904" cy="786.5" r="5.3" fill="#d63b2f"/>
<circle cx="1911" cy="789" r="5.3" fill="#d63b2f"/>
<circle cx="1917" cy="788" r="5.3" fill="#d63b2f"/>
<circle cx="1923.5" cy="789" r="5.3" fill="#d63b2f"/>
<circle cx="1928" cy="791" r="5.3" fill="#d63b2f"/>
<circle cx="1901" cy="791.5" r="5.3" fill="#d63b2f"/>
<circle cx="1914" cy="791.5" r="5.3" fill="#d63b2f"/>
<circle cx="1908" cy="791" r="5.3" fill="#d63b2f"/>
<rect x="1993" y="783" width="10" height="10" fill="#d63b2f"/>
<rect x="2000.5" y="777.5" width="10" height="10" fill="#d63b2f"/>
<rect x="2007" y="782" width="10" height="10" fill="#d63b2f"/>
<rect x="2014" y="779.5" width="10" height="10" fill="#d63b2f"/>
<rect x="2020" y="783" width="10" height="10" fill="#d63b2f"/>
<rect x="1997" y="785" width="10" height="10" fill="#d63b2f"/>
<rect x="2011" y="785" width="10" height="10" fill="#d63b2f"/>
<rect x="2004" y="785" width="10" height="10" fill="#d63b2f"/>
<text x="1917.8" y="509.6" font-size="28">0.8010</text>
<line x1="1912" y1="519.5" x2="2010.4" y2="519.5" stroke="#000" stroke-width="3"/>
<text x="1930" y="554" font-size="28">&lt; 0.0001</text>
<line x1="1961.5" y1="564.4" x2="2010.4" y2="564.4" stroke="#000" stroke-width="3"/>
<text x="1851" y="597.3" font-size="28">&lt; 0.0001</text>
<line x1="1863.5" y1="607.2" x2="1912.3" y2="607.2" stroke="#000" stroke-width="3"/>
<text transform="translate(1774.6,799) rotate(-90)" font-size="30">Neutrophil (×10<tspan font-size="20" dy="-11">4</tspan><tspan dy="11">/g)</tspan></text>
<text x="1869.2" y="840.5" font-size="28.3">WT</text>
<text x="1935.3" y="840.5" font-size="28"><tspan font-style="italic">Thy1</tspan>-OE</text>
<rect x="1760.5" y="858" width="22.5" height="20" fill="none" stroke="#000" stroke-width="3"/>
<text x="1794" y="877.5" font-size="28">Isotype</text>
<rect x="1932.4" y="858" width="22.5" height="20" fill="none" stroke="#d63b2f" stroke-width="3"/>
<text x="1965.2" y="877.5" font-size="28">αLy6G</text>
</svg></body></html>
